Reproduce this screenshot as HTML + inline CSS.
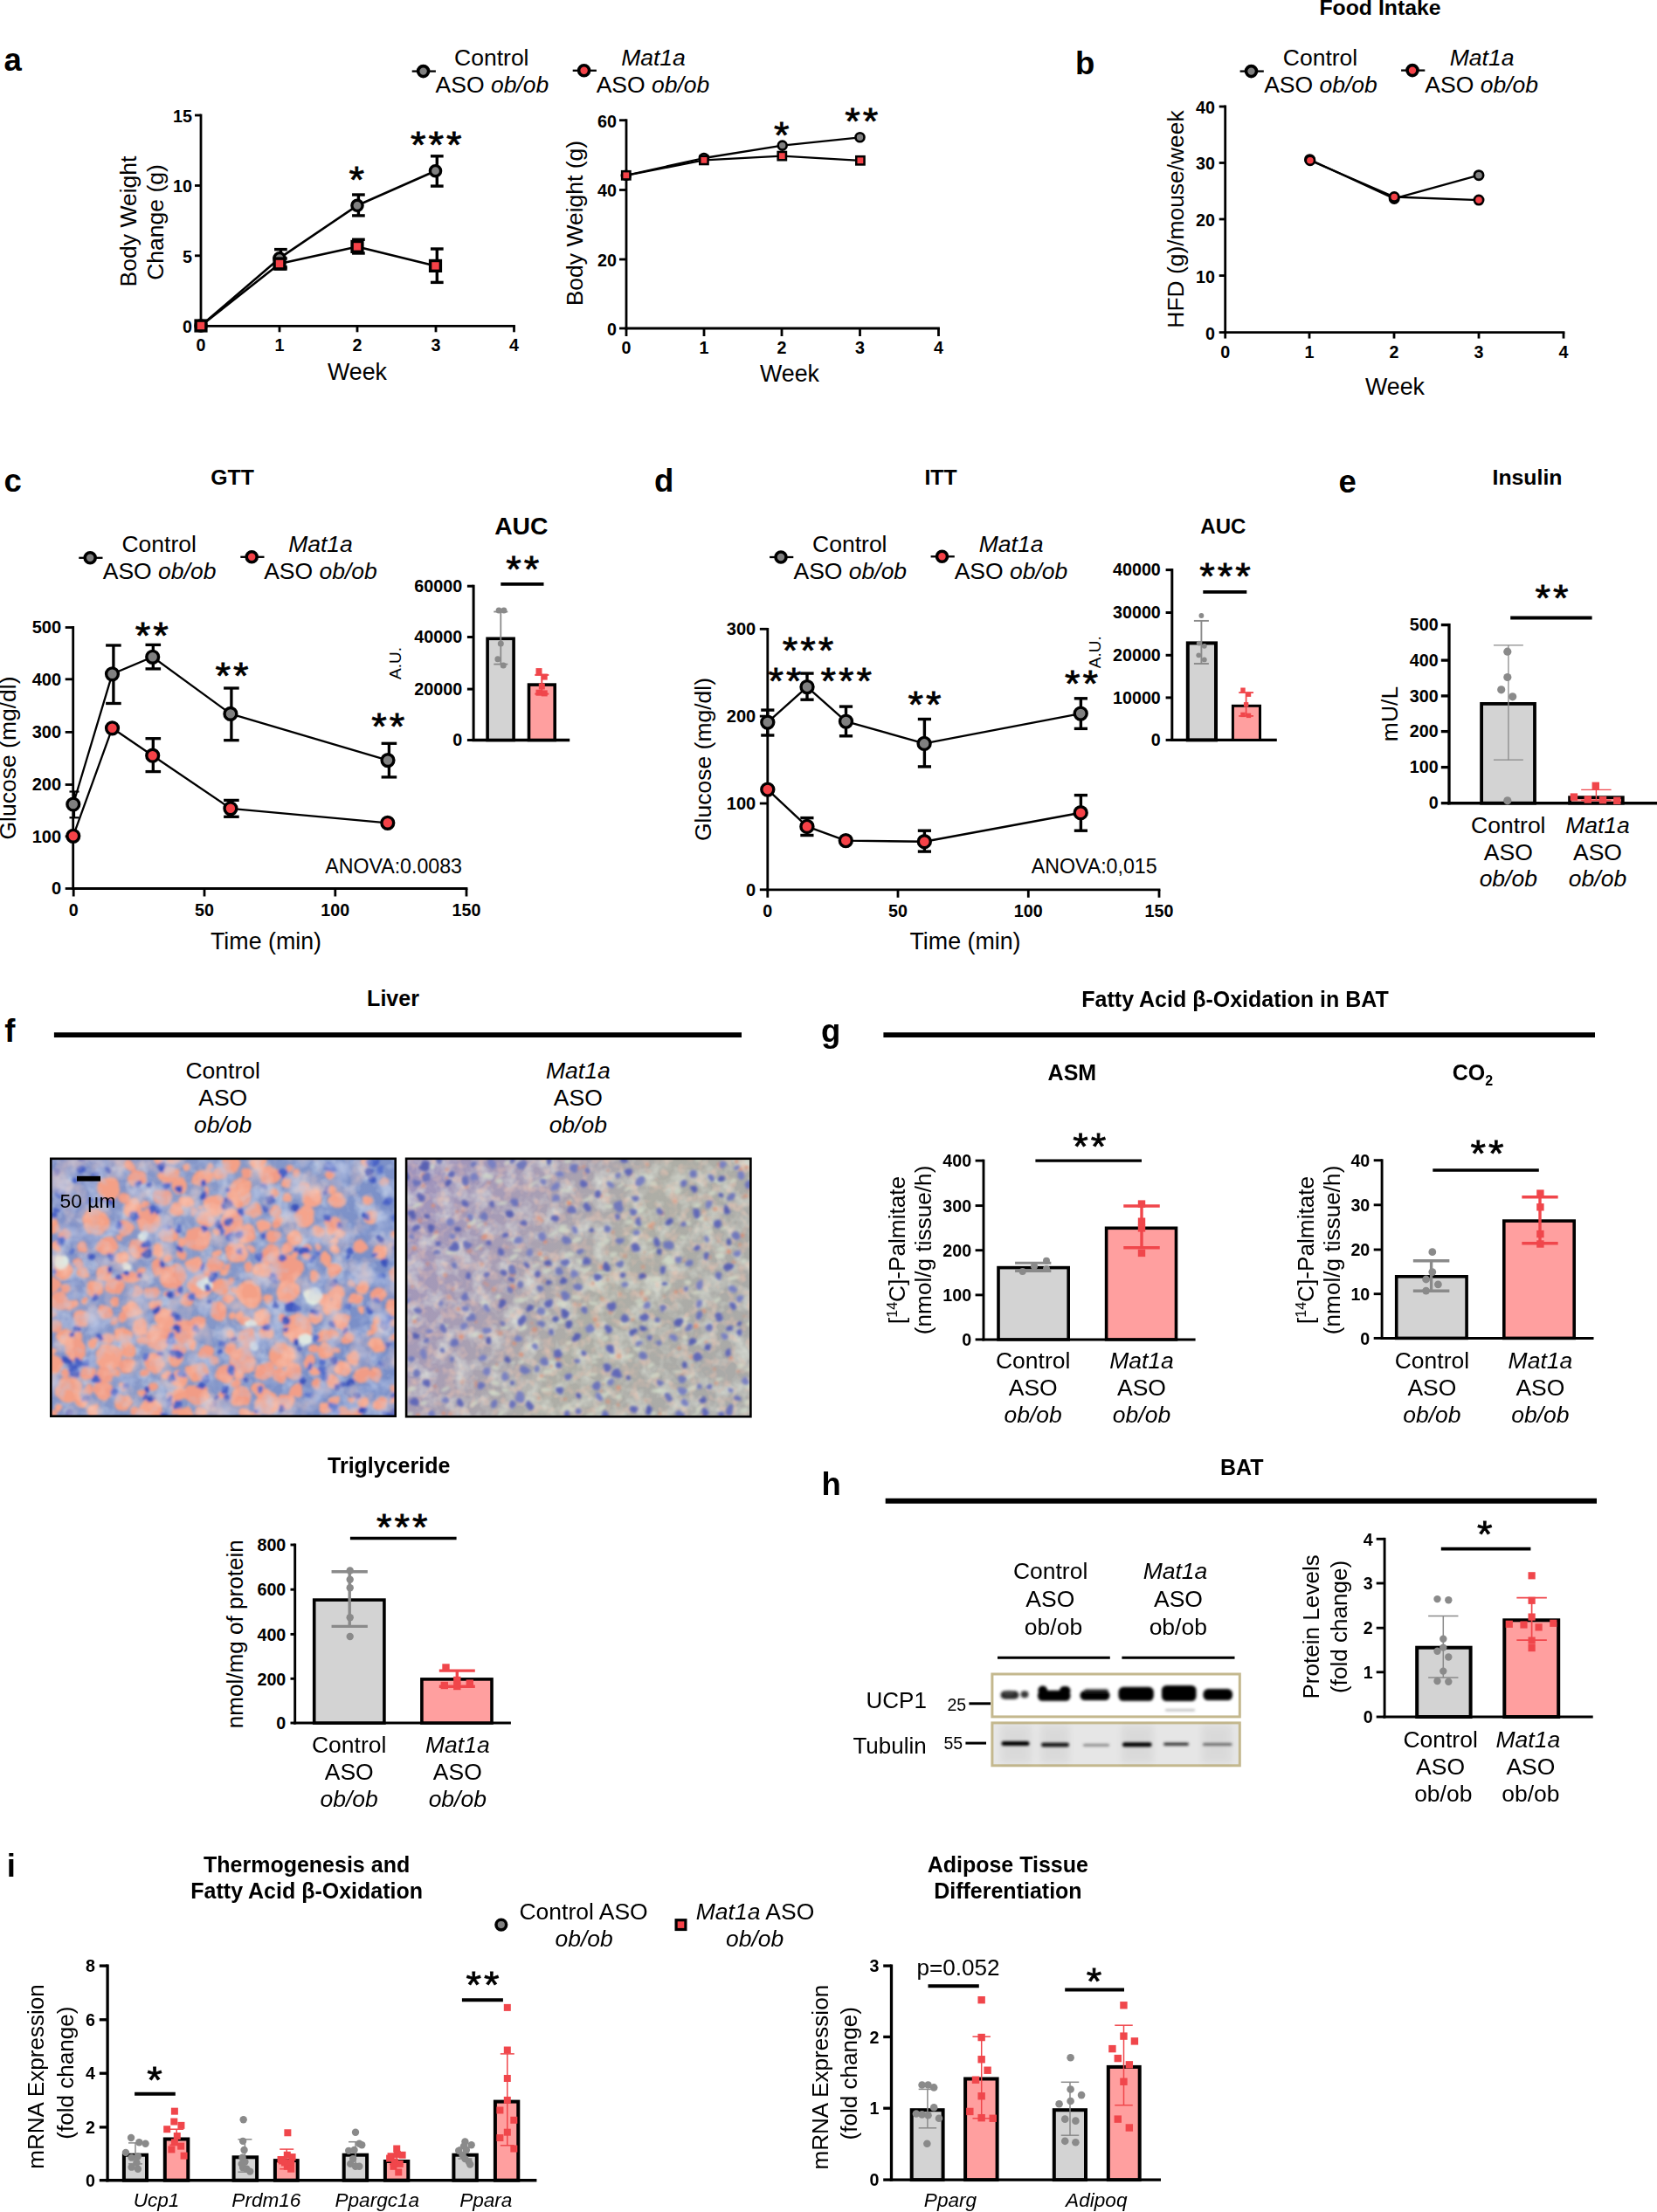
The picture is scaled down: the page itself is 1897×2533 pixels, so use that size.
<!DOCTYPE html>
<html lang="en"><head><meta charset="utf-8"><title>Figure</title>
<style>html,body{margin:0;padding:0;background:#fff}svg{display:block}text{font-family:"Liberation Sans",Arial,Helvetica,sans-serif;fill:#000}</style></head>
<body>
<svg width="1897" height="2533" viewBox="0 0 1897 2533">
<defs>
<filter id="blur1" x="-5%" y="-5%" width="110%" height="110%"><feGaussianBlur stdDeviation="1.15"/></filter>
<filter id="wob1" x="-2%" y="-2%" width="104%" height="104%"><feTurbulence type="fractalNoise" baseFrequency="0.06" numOctaves="2" seed="4" result="t"/><feDisplacementMap in="SourceGraphic" in2="t" scale="9" xChannelSelector="R" yChannelSelector="G" result="d"/><feGaussianBlur in="d" stdDeviation="1.5"/></filter>
<filter id="blur2" x="-5%" y="-5%" width="110%" height="110%"><feGaussianBlur stdDeviation="1.4"/></filter>
<filter id="blur3" x="-10%" y="-30%" width="120%" height="160%"><feGaussianBlur stdDeviation="1.35"/></filter>
<filter id="blur4" x="-10%" y="-10%" width="120%" height="120%"><feGaussianBlur stdDeviation="4"/></filter>
<filter id="nz1" x="0" y="0" width="100%" height="100%"><feTurbulence type="fractalNoise" baseFrequency="0.045" numOctaves="3" seed="3"/><feColorMatrix type="matrix" values="0 0 0 0 0.76  0 0 0 0 0.85  0 0 0 0 0.90  1.4 0 0 0 -0.68"/></filter>
<filter id="nz2" x="0" y="0" width="100%" height="100%"><feTurbulence type="fractalNoise" baseFrequency="0.05" numOctaves="3" seed="8"/><feColorMatrix type="matrix" values="0 0 0 0 0.82  0 0 0 0 0.87  0 0 0 0 0.78  0 1.5 0 0 -0.64"/></filter>
<filter id="nz3" x="0" y="0" width="100%" height="100%"><feTurbulence type="fractalNoise" baseFrequency="0.09" numOctaves="2" seed="5"/><feColorMatrix type="matrix" values="0 0 0 0 0.86  0 0 0 0 0.56  0 0 0 0 0.45  0 0 1.4 0 -0.66"/></filter>
<filter id="nz4" x="0" y="0" width="100%" height="100%"><feTurbulence type="fractalNoise" baseFrequency="0.035" numOctaves="3" seed="12"/><feColorMatrix type="matrix" values="0 0 0 0 0.94  0 0 0 0 0.63  0 0 0 0 0.53  1.7 0 0 0 -0.78"/></filter>
<filter id="nz5" x="0" y="0" width="100%" height="100%"><feTurbulence type="fractalNoise" baseFrequency="0.04" numOctaves="3" seed="21"/><feColorMatrix type="matrix" values="0 0 0 0 0.50  0 0 0 0 0.58  0 0 0 0 0.80  0 1.7 0 0 -0.80"/></filter>
<clipPath id="clipL1"><rect x="58.3" y="1326.8" width="394.4" height="294.9"/></clipPath>
<clipPath id="clipL2"><rect x="465.1" y="1326.8" width="394.3" height="295.4"/></clipPath>
<linearGradient id="gL1" x1="0" y1="0" x2="1" y2="0.3"><stop offset="0" stop-color="#8392c8"/><stop offset="0.5" stop-color="#8799c9"/><stop offset="1" stop-color="#7a8fc8"/></linearGradient>
<linearGradient id="gL2" x1="0" y1="0.2" x2="1" y2="0.6"><stop offset="0" stop-color="#a094bc"/><stop offset="0.3" stop-color="#a89eb4"/><stop offset="0.6" stop-color="#aeaea6"/><stop offset="1" stop-color="#aaaaa8"/></linearGradient>
</defs>
<!-- panel a -->
<text x="4.5" y="81.3" font-size="36.5" font-weight="bold">a</text>
<line x1="471.7" y1="81.6" x2="498.9" y2="81.6" stroke="#000" stroke-width="2.3"/>
<circle cx="484.6" cy="81.6" r="6" fill="#808080" stroke="#000" stroke-width="3.6"/>
<text x="562.8" y="74.9" font-size="26.5" text-anchor="middle">Control</text>
<text x="563.4" y="106" font-size="26.5" text-anchor="middle">ASO <tspan font-style="italic">ob/ob</tspan></text>
<line x1="655.7" y1="80.8" x2="682.9" y2="80.8" stroke="#000" stroke-width="2.3"/>
<circle cx="668.6" cy="80.8" r="6" fill="#f54248" stroke="#000" stroke-width="3.6"/>
<text x="748" y="74.9" font-size="26.5" font-style="italic" text-anchor="middle">Mat1a</text>
<text x="747.5" y="106" font-size="26.5" text-anchor="middle">ASO <tspan font-style="italic">ob/ob</tspan></text>
<line x1="230" y1="130.6" x2="230" y2="374.7" stroke="#000" stroke-width="2.8"/>
<line x1="223" y1="132" x2="230" y2="132" stroke="#000" stroke-width="2.8"/>
<text x="220" y="139.95" font-size="19.7" font-weight="bold" text-anchor="end">15</text>
<line x1="223" y1="212.5" x2="230" y2="212.5" stroke="#000" stroke-width="2.8"/>
<text x="220" y="220.45" font-size="19.7" font-weight="bold" text-anchor="end">10</text>
<line x1="223" y1="292.8" x2="230" y2="292.8" stroke="#000" stroke-width="2.8"/>
<text x="220" y="300.75" font-size="19.7" font-weight="bold" text-anchor="end">5</text>
<line x1="223" y1="373.3" x2="230" y2="373.3" stroke="#000" stroke-width="2.8"/>
<text x="220" y="381.25" font-size="19.7" font-weight="bold" text-anchor="end">0</text>
<line x1="228.6" y1="373.3" x2="589.9" y2="373.3" stroke="#000" stroke-width="2.8"/>
<line x1="230" y1="373.3" x2="230" y2="380.3" stroke="#000" stroke-width="2.8"/>
<text x="230" y="401.5" font-size="19.7" font-weight="bold" text-anchor="middle">0</text>
<line x1="320" y1="373.3" x2="320" y2="380.3" stroke="#000" stroke-width="2.8"/>
<text x="320" y="401.5" font-size="19.7" font-weight="bold" text-anchor="middle">1</text>
<line x1="409" y1="373.3" x2="409" y2="380.3" stroke="#000" stroke-width="2.8"/>
<text x="409" y="401.5" font-size="19.7" font-weight="bold" text-anchor="middle">2</text>
<line x1="499" y1="373.3" x2="499" y2="380.3" stroke="#000" stroke-width="2.8"/>
<text x="499" y="401.5" font-size="19.7" font-weight="bold" text-anchor="middle">3</text>
<line x1="588.5" y1="373.3" x2="588.5" y2="380.3" stroke="#000" stroke-width="2.8"/>
<text x="588.5" y="401.5" font-size="19.7" font-weight="bold" text-anchor="middle">4</text>
<text font-size="26.5" text-anchor="middle" transform="translate(156 253.5) rotate(-90)">Body Weight</text>
<text font-size="26.5" text-anchor="middle" transform="translate(186.5 254.5) rotate(-90)">Change (g)</text>
<text x="409" y="435" font-size="26.8" text-anchor="middle">Week</text>
<line x1="321.4" y1="285.6" x2="321.4" y2="305.8" stroke="#000" stroke-width="3.4"/>
<line x1="314.05" y1="285.6" x2="328.75" y2="285.6" stroke="#000" stroke-width="3.4"/>
<line x1="314.05" y1="305.8" x2="328.75" y2="305.8" stroke="#000" stroke-width="3.4"/>
<line x1="410.4" y1="223" x2="410.4" y2="246.9" stroke="#000" stroke-width="3.4"/>
<line x1="403.05" y1="223" x2="417.75" y2="223" stroke="#000" stroke-width="3.4"/>
<line x1="403.05" y1="246.9" x2="417.75" y2="246.9" stroke="#000" stroke-width="3.4"/>
<line x1="500.3" y1="178.8" x2="500.3" y2="213.1" stroke="#000" stroke-width="3.4"/>
<line x1="492.95" y1="178.8" x2="507.65" y2="178.8" stroke="#000" stroke-width="3.4"/>
<line x1="492.95" y1="213.1" x2="507.65" y2="213.1" stroke="#000" stroke-width="3.4"/>
<line x1="410.4" y1="274.3" x2="410.4" y2="290" stroke="#000" stroke-width="3.4"/>
<line x1="403.05" y1="274.3" x2="417.75" y2="274.3" stroke="#000" stroke-width="3.4"/>
<line x1="403.05" y1="290" x2="417.75" y2="290" stroke="#000" stroke-width="3.4"/>
<line x1="500.3" y1="285" x2="500.3" y2="323.4" stroke="#000" stroke-width="3.4"/>
<line x1="492.95" y1="285" x2="507.65" y2="285" stroke="#000" stroke-width="3.4"/>
<line x1="492.95" y1="323.4" x2="507.65" y2="323.4" stroke="#000" stroke-width="3.4"/>
<line x1="321.4" y1="296" x2="321.4" y2="308" stroke="#000" stroke-width="3.4"/>
<line x1="314.05" y1="296" x2="328.75" y2="296" stroke="#000" stroke-width="3.4"/>
<line x1="314.05" y1="308" x2="328.75" y2="308" stroke="#000" stroke-width="3.4"/>
<polyline points="230,373 320,295.7 409,235.3 498.5,195.7" fill="none" stroke="#000" stroke-width="2.6" stroke-linejoin="round"/>
<polyline points="230,373 320,302 409,282.4 498.5,304.4" fill="none" stroke="#000" stroke-width="2.6" stroke-linejoin="round"/>
<circle cx="230" cy="373" r="6.1" fill="#808080" stroke="#000" stroke-width="3.4"/>
<circle cx="320" cy="295.7" r="6.1" fill="#808080" stroke="#000" stroke-width="3.4"/>
<circle cx="409" cy="235.3" r="6.1" fill="#808080" stroke="#000" stroke-width="3.4"/>
<circle cx="498.5" cy="195.7" r="6.1" fill="#808080" stroke="#000" stroke-width="3.4"/>
<rect x="224.1" y="367.1" width="11.8" height="11.8" fill="#f54248" stroke="#000" stroke-width="3.4"/>
<rect x="314.1" y="296.1" width="11.8" height="11.8" fill="#f54248" stroke="#000" stroke-width="3.4"/>
<rect x="403.1" y="276.5" width="11.8" height="11.8" fill="#f54248" stroke="#000" stroke-width="3.4"/>
<rect x="492.6" y="298.5" width="11.8" height="11.8" fill="#f54248" stroke="#000" stroke-width="3.4"/>
<text transform="translate(409.8 219.93) scale(1 0.94)" font-size="45" text-anchor="middle" stroke="#000" stroke-width="0.8" letter-spacing="3">*</text>
<text transform="translate(500.7 180.23) scale(1 0.94)" font-size="45" text-anchor="middle" stroke="#000" stroke-width="0.8" letter-spacing="3">***</text>
<line x1="717" y1="136.3" x2="717" y2="377.4" stroke="#000" stroke-width="2.8"/>
<line x1="709" y1="137.7" x2="717" y2="137.7" stroke="#000" stroke-width="2.8"/>
<text x="706" y="145.65" font-size="19.7" font-weight="bold" text-anchor="end">60</text>
<line x1="709" y1="217.5" x2="717" y2="217.5" stroke="#000" stroke-width="2.8"/>
<text x="706" y="225.45" font-size="19.7" font-weight="bold" text-anchor="end">40</text>
<line x1="709" y1="297" x2="717" y2="297" stroke="#000" stroke-width="2.8"/>
<text x="706" y="304.95" font-size="19.7" font-weight="bold" text-anchor="end">20</text>
<line x1="709" y1="376" x2="717" y2="376" stroke="#000" stroke-width="2.8"/>
<text x="706" y="383.95" font-size="19.7" font-weight="bold" text-anchor="end">0</text>
<line x1="715.6" y1="376" x2="1075.9" y2="376" stroke="#000" stroke-width="2.8"/>
<line x1="717" y1="376" x2="717" y2="385" stroke="#000" stroke-width="2.8"/>
<text x="717" y="405.4" font-size="19.7" font-weight="bold" text-anchor="middle">0</text>
<line x1="806" y1="376" x2="806" y2="385" stroke="#000" stroke-width="2.8"/>
<text x="806" y="405.4" font-size="19.7" font-weight="bold" text-anchor="middle">1</text>
<line x1="895" y1="376" x2="895" y2="385" stroke="#000" stroke-width="2.8"/>
<text x="895" y="405.4" font-size="19.7" font-weight="bold" text-anchor="middle">2</text>
<line x1="984.5" y1="376" x2="984.5" y2="385" stroke="#000" stroke-width="2.8"/>
<text x="984.5" y="405.4" font-size="19.7" font-weight="bold" text-anchor="middle">3</text>
<line x1="1074.5" y1="376" x2="1074.5" y2="385" stroke="#000" stroke-width="2.8"/>
<text x="1074.5" y="405.4" font-size="19.7" font-weight="bold" text-anchor="middle">4</text>
<text font-size="26.5" text-anchor="middle" transform="translate(666.8 255.6) rotate(-90)">Body Weight (g)</text>
<text x="904" y="437.2" font-size="26.8" text-anchor="middle">Week</text>
<polyline points="716.8,200.8 805.9,181 895.7,166.6 984.5,157.3" fill="none" stroke="#000" stroke-width="2.3" stroke-linejoin="round"/>
<polyline points="716.8,200.8 805.9,183.4 895.3,178.6 984.9,183.8" fill="none" stroke="#000" stroke-width="2.3" stroke-linejoin="round"/>
<circle cx="716.8" cy="200.8" r="5" fill="#808080" stroke="#000" stroke-width="2.6"/>
<circle cx="805.9" cy="181" r="5" fill="#808080" stroke="#000" stroke-width="2.6"/>
<circle cx="895.7" cy="166.6" r="5" fill="#808080" stroke="#000" stroke-width="2.6"/>
<circle cx="984.5" cy="157.3" r="5" fill="#808080" stroke="#000" stroke-width="2.6"/>
<rect x="712.15" y="196.15" width="9.3" height="9.3" fill="#f54248" stroke="#000" stroke-width="2.5"/>
<rect x="801.25" y="178.75" width="9.3" height="9.3" fill="#f54248" stroke="#000" stroke-width="2.5"/>
<rect x="890.65" y="173.95" width="9.3" height="9.3" fill="#f54248" stroke="#000" stroke-width="2.5"/>
<rect x="980.25" y="179.15" width="9.3" height="9.3" fill="#f54248" stroke="#000" stroke-width="2.5"/>
<text transform="translate(896.2 168.53) scale(1 0.94)" font-size="45" text-anchor="middle" stroke="#000" stroke-width="0.8" letter-spacing="3">*</text>
<text transform="translate(987.7 153.43) scale(1 0.94)" font-size="45" text-anchor="middle" stroke="#000" stroke-width="0.8" letter-spacing="3">**</text>
<!-- panel b -->
<text x="1580" y="17" font-size="24.8" font-weight="bold" text-anchor="middle">Food Intake</text>
<text x="1231" y="84.6" font-size="36.5" font-weight="bold">b</text>
<line x1="1419.6" y1="81.6" x2="1446.8" y2="81.6" stroke="#000" stroke-width="2.3"/>
<circle cx="1432.5" cy="81.6" r="6" fill="#808080" stroke="#000" stroke-width="3.6"/>
<text x="1511.5" y="74.7" font-size="26.5" text-anchor="middle">Control</text>
<text x="1512" y="106.4" font-size="26.5" text-anchor="middle">ASO <tspan font-style="italic">ob/ob</tspan></text>
<line x1="1604.1" y1="80.6" x2="1631.3" y2="80.6" stroke="#000" stroke-width="2.3"/>
<circle cx="1617" cy="80.6" r="6" fill="#f54248" stroke="#000" stroke-width="3.6"/>
<text x="1696.6" y="74.7" font-size="26.5" font-style="italic" text-anchor="middle">Mat1a</text>
<text x="1696.2" y="106.4" font-size="26.5" text-anchor="middle">ASO <tspan font-style="italic">ob/ob</tspan></text>
<line x1="1402.7" y1="120.6" x2="1402.7" y2="382" stroke="#000" stroke-width="2.8"/>
<line x1="1395.7" y1="122" x2="1402.7" y2="122" stroke="#000" stroke-width="2.8"/>
<text x="1390.9" y="129.95" font-size="19.7" font-weight="bold" text-anchor="end">40</text>
<line x1="1395.7" y1="186.5" x2="1402.7" y2="186.5" stroke="#000" stroke-width="2.8"/>
<text x="1390.9" y="194.45" font-size="19.7" font-weight="bold" text-anchor="end">30</text>
<line x1="1395.7" y1="251" x2="1402.7" y2="251" stroke="#000" stroke-width="2.8"/>
<text x="1390.9" y="258.95" font-size="19.7" font-weight="bold" text-anchor="end">20</text>
<line x1="1395.7" y1="315.6" x2="1402.7" y2="315.6" stroke="#000" stroke-width="2.8"/>
<text x="1390.9" y="323.55" font-size="19.7" font-weight="bold" text-anchor="end">10</text>
<line x1="1395.7" y1="380.6" x2="1402.7" y2="380.6" stroke="#000" stroke-width="2.8"/>
<text x="1390.9" y="388.55" font-size="19.7" font-weight="bold" text-anchor="end">0</text>
<line x1="1401.3" y1="380.6" x2="1791.4" y2="380.6" stroke="#000" stroke-width="2.8"/>
<line x1="1402.7" y1="380.6" x2="1402.7" y2="387.6" stroke="#000" stroke-width="2.8"/>
<text x="1402.7" y="410.3" font-size="19.7" font-weight="bold" text-anchor="middle">0</text>
<line x1="1499" y1="380.6" x2="1499" y2="387.6" stroke="#000" stroke-width="2.8"/>
<text x="1499" y="410.3" font-size="19.7" font-weight="bold" text-anchor="middle">1</text>
<line x1="1596" y1="380.6" x2="1596" y2="387.6" stroke="#000" stroke-width="2.8"/>
<text x="1596" y="410.3" font-size="19.7" font-weight="bold" text-anchor="middle">2</text>
<line x1="1693" y1="380.6" x2="1693" y2="387.6" stroke="#000" stroke-width="2.8"/>
<text x="1693" y="410.3" font-size="19.7" font-weight="bold" text-anchor="middle">3</text>
<line x1="1790" y1="380.6" x2="1790" y2="387.6" stroke="#000" stroke-width="2.8"/>
<text x="1790" y="410.3" font-size="19.7" font-weight="bold" text-anchor="middle">4</text>
<text font-size="26.4" text-anchor="middle" transform="translate(1355.4 251) rotate(-90)">HFD (g)/mouse/week</text>
<text x="1597" y="452" font-size="26.8" text-anchor="middle">Week</text>
<polyline points="1499.5,182.7 1596.2,227.4 1693,200.7" fill="none" stroke="#000" stroke-width="2.3" stroke-linejoin="round"/>
<polyline points="1499.9,183.7 1596.2,225.5 1693,229.1" fill="none" stroke="#000" stroke-width="2.3" stroke-linejoin="round"/>
<circle cx="1499.5" cy="182.7" r="5.15" fill="#808080" stroke="#000" stroke-width="2.7"/>
<circle cx="1596.2" cy="227.4" r="5.15" fill="#808080" stroke="#000" stroke-width="2.7"/>
<circle cx="1693" cy="200.7" r="5.15" fill="#808080" stroke="#000" stroke-width="2.7"/>
<circle cx="1499.9" cy="183.7" r="5.15" fill="#f54248" stroke="#000" stroke-width="2.7"/>
<circle cx="1596.2" cy="225.5" r="5.15" fill="#f54248" stroke="#000" stroke-width="2.7"/>
<circle cx="1693" cy="229.1" r="5.15" fill="#f54248" stroke="#000" stroke-width="2.7"/>
<!-- panel c -->
<text x="4.6" y="563.2" font-size="36.5" font-weight="bold">c</text>
<text x="266" y="555" font-size="24.8" font-weight="bold" text-anchor="middle">GTT</text>
<line x1="90.3" y1="638.8" x2="117.5" y2="638.8" stroke="#000" stroke-width="2.3"/>
<circle cx="103.2" cy="638.8" r="6" fill="#808080" stroke="#000" stroke-width="3.6"/>
<text x="182.2" y="631.8" font-size="26.5" text-anchor="middle">Control</text>
<text x="182.6" y="663.1" font-size="26.5" text-anchor="middle">ASO <tspan font-style="italic">ob/ob</tspan></text>
<line x1="275.3" y1="637.8" x2="302.5" y2="637.8" stroke="#000" stroke-width="2.3"/>
<circle cx="288.2" cy="637.8" r="6" fill="#f54248" stroke="#000" stroke-width="3.6"/>
<text x="367" y="631.8" font-size="26.5" font-style="italic" text-anchor="middle">Mat1a</text>
<text x="367" y="663.1" font-size="26.5" text-anchor="middle">ASO <tspan font-style="italic">ob/ob</tspan></text>
<line x1="83.7" y1="717.1" x2="83.7" y2="1018.9" stroke="#000" stroke-width="2.8"/>
<line x1="74.7" y1="718.5" x2="83.7" y2="718.5" stroke="#000" stroke-width="2.8"/>
<text x="70.2" y="725.2" font-size="20.1" font-weight="bold" text-anchor="end">500</text>
<line x1="74.7" y1="777.8" x2="83.7" y2="777.8" stroke="#000" stroke-width="2.8"/>
<text x="70.2" y="784.5" font-size="20.1" font-weight="bold" text-anchor="end">400</text>
<line x1="74.7" y1="838.4" x2="83.7" y2="838.4" stroke="#000" stroke-width="2.8"/>
<text x="70.2" y="845.1" font-size="20.1" font-weight="bold" text-anchor="end">300</text>
<line x1="74.7" y1="898.5" x2="83.7" y2="898.5" stroke="#000" stroke-width="2.8"/>
<text x="70.2" y="905.2" font-size="20.1" font-weight="bold" text-anchor="end">200</text>
<line x1="74.7" y1="957.8" x2="83.7" y2="957.8" stroke="#000" stroke-width="2.8"/>
<text x="70.2" y="964.5" font-size="20.1" font-weight="bold" text-anchor="end">100</text>
<line x1="74.7" y1="1017.5" x2="83.7" y2="1017.5" stroke="#000" stroke-width="2.8"/>
<text x="70.2" y="1024.2" font-size="20.1" font-weight="bold" text-anchor="end">0</text>
<line x1="82.8" y1="1017.5" x2="535.4" y2="1017.5" stroke="#000" stroke-width="2.8"/>
<line x1="84.2" y1="1017.5" x2="84.2" y2="1026.5" stroke="#000" stroke-width="2.8"/>
<text x="84.2" y="1048.7" font-size="19.7" font-weight="bold" text-anchor="middle">0</text>
<line x1="234" y1="1017.5" x2="234" y2="1026.5" stroke="#000" stroke-width="2.8"/>
<text x="234" y="1048.7" font-size="19.7" font-weight="bold" text-anchor="middle">50</text>
<line x1="383.8" y1="1017.5" x2="383.8" y2="1026.5" stroke="#000" stroke-width="2.8"/>
<text x="383.8" y="1048.7" font-size="19.7" font-weight="bold" text-anchor="middle">100</text>
<line x1="534" y1="1017.5" x2="534" y2="1026.5" stroke="#000" stroke-width="2.8"/>
<text x="534" y="1048.7" font-size="19.7" font-weight="bold" text-anchor="middle">150</text>
<text font-size="26.5" text-anchor="middle" transform="translate(17.5 868) rotate(-90)">Glucose (mg/dl)</text>
<text x="304.5" y="1087" font-size="26.8" text-anchor="middle">Time (min)</text>
<text x="372.2" y="999.8" font-size="23.2">ANOVA:0.0083</text>
<line x1="85" y1="906.5" x2="85" y2="936.3" stroke="#000" stroke-width="2.2"/>
<line x1="79.5" y1="906.5" x2="90.5" y2="906.5" stroke="#000" stroke-width="2.2"/>
<line x1="79.5" y1="936.3" x2="90.5" y2="936.3" stroke="#000" stroke-width="2.2"/>
<line x1="129.9" y1="739" x2="129.9" y2="805.5" stroke="#000" stroke-width="3.3"/>
<line x1="121.1" y1="739" x2="138.7" y2="739" stroke="#000" stroke-width="3.3"/>
<line x1="121.1" y1="805.5" x2="138.7" y2="805.5" stroke="#000" stroke-width="3.3"/>
<line x1="175.3" y1="738.4" x2="175.3" y2="765.9" stroke="#000" stroke-width="3.3"/>
<line x1="166.5" y1="738.4" x2="184.1" y2="738.4" stroke="#000" stroke-width="3.3"/>
<line x1="166.5" y1="765.9" x2="184.1" y2="765.9" stroke="#000" stroke-width="3.3"/>
<line x1="264.9" y1="788" x2="264.9" y2="847.7" stroke="#000" stroke-width="3.3"/>
<line x1="256.1" y1="788" x2="273.7" y2="788" stroke="#000" stroke-width="3.3"/>
<line x1="256.1" y1="847.7" x2="273.7" y2="847.7" stroke="#000" stroke-width="3.3"/>
<line x1="445.4" y1="851.3" x2="445.4" y2="889.9" stroke="#000" stroke-width="3.3"/>
<line x1="436.6" y1="851.3" x2="454.2" y2="851.3" stroke="#000" stroke-width="3.3"/>
<line x1="436.6" y1="889.9" x2="454.2" y2="889.9" stroke="#000" stroke-width="3.3"/>
<line x1="175.3" y1="845.7" x2="175.3" y2="883.6" stroke="#000" stroke-width="3.3"/>
<line x1="166.5" y1="845.7" x2="184.1" y2="845.7" stroke="#000" stroke-width="3.3"/>
<line x1="166.5" y1="883.6" x2="184.1" y2="883.6" stroke="#000" stroke-width="3.3"/>
<line x1="264.9" y1="916.4" x2="264.9" y2="935.3" stroke="#000" stroke-width="3.3"/>
<line x1="256.1" y1="916.4" x2="273.7" y2="916.4" stroke="#000" stroke-width="3.3"/>
<line x1="256.1" y1="935.3" x2="273.7" y2="935.3" stroke="#000" stroke-width="3.3"/>
<polyline points="83.8,921 128.5,771.8 174.7,752.3 263.9,817.4 444,870.6" fill="none" stroke="#000" stroke-width="2.3" stroke-linejoin="round"/>
<polyline points="83.8,957.3 128.5,833.8 174.7,865.2 263.9,925.8 443.8,942.3" fill="none" stroke="#000" stroke-width="2.3" stroke-linejoin="round"/>
<circle cx="83.8" cy="921" r="6.9" fill="#808080" stroke="#000" stroke-width="3.4"/>
<circle cx="128.5" cy="771.8" r="6.9" fill="#808080" stroke="#000" stroke-width="3.4"/>
<circle cx="174.7" cy="752.3" r="6.9" fill="#808080" stroke="#000" stroke-width="3.4"/>
<circle cx="263.9" cy="817.4" r="6.9" fill="#808080" stroke="#000" stroke-width="3.4"/>
<circle cx="444" cy="870.6" r="6.9" fill="#808080" stroke="#000" stroke-width="3.4"/>
<circle cx="83.8" cy="957.3" r="6.9" fill="#f54248" stroke="#000" stroke-width="3.4"/>
<circle cx="128.5" cy="833.8" r="6.9" fill="#f54248" stroke="#000" stroke-width="3.4"/>
<circle cx="174.7" cy="865.2" r="6.9" fill="#f54248" stroke="#000" stroke-width="3.4"/>
<circle cx="263.9" cy="925.8" r="6.9" fill="#f54248" stroke="#000" stroke-width="3.4"/>
<circle cx="443.8" cy="942.3" r="6.9" fill="#f54248" stroke="#000" stroke-width="3.4"/>
<text transform="translate(175.3 742.03) scale(1 0.94)" font-size="45" text-anchor="middle" stroke="#000" stroke-width="0.8" letter-spacing="3">**</text>
<text transform="translate(267.1 788.43) scale(1 0.94)" font-size="45" text-anchor="middle" stroke="#000" stroke-width="0.8" letter-spacing="3">**</text>
<text transform="translate(445.7 846.33) scale(1 0.94)" font-size="45" text-anchor="middle" stroke="#000" stroke-width="0.8" letter-spacing="3">**</text>
<text x="596.8" y="612.1" font-size="28.3" font-weight="bold" text-anchor="middle">AUC</text>
<text transform="translate(599.7 666.33) scale(1 0.94)" font-size="45" text-anchor="middle" stroke="#000" stroke-width="0.8" letter-spacing="3">**</text>
<line x1="573.3" y1="668.9" x2="622.5" y2="668.9" stroke="#000" stroke-width="3.6"/>
<line x1="542.1" y1="669.7" x2="542.1" y2="849" stroke="#000" stroke-width="3"/>
<line x1="534.9" y1="671.2" x2="542.1" y2="671.2" stroke="#000" stroke-width="3"/>
<text x="529.1" y="677.95" font-size="19.7" font-weight="bold" text-anchor="end">60000</text>
<line x1="534.9" y1="729.5" x2="542.1" y2="729.5" stroke="#000" stroke-width="3"/>
<text x="529.1" y="736.25" font-size="19.7" font-weight="bold" text-anchor="end">40000</text>
<line x1="534.9" y1="789.1" x2="542.1" y2="789.1" stroke="#000" stroke-width="3"/>
<text x="529.1" y="795.85" font-size="19.7" font-weight="bold" text-anchor="end">20000</text>
<line x1="534.9" y1="847.5" x2="542.1" y2="847.5" stroke="#000" stroke-width="3"/>
<text x="529.1" y="854.25" font-size="19.7" font-weight="bold" text-anchor="end">0</text>
<line x1="540.45" y1="847.5" x2="652.2" y2="847.5" stroke="#000" stroke-width="3.3"/>
<text font-size="19" text-anchor="middle" transform="translate(458.8 759.5) rotate(-90)">A.U.</text>
<rect x="558.1" y="731.3" width="30" height="116.2" fill="#d3d3d3" stroke="#000" stroke-width="3.6"/>
<rect x="605.5" y="784.1" width="29.7" height="63.4" fill="#ff9f9f" stroke="#000" stroke-width="3.6"/>
<line x1="573.3" y1="700.5" x2="573.3" y2="760.6" stroke="#8a8a8a" stroke-width="1.8"/>
<line x1="565.3" y1="700.5" x2="581.3" y2="700.5" stroke="#8a8a8a" stroke-width="1.8"/>
<line x1="565.3" y1="760.6" x2="581.3" y2="760.6" stroke="#8a8a8a" stroke-width="1.8"/>
<circle cx="571.1" cy="699" r="3.5" fill="#8a8a8a"/>
<circle cx="576.9" cy="699" r="3.5" fill="#8a8a8a"/>
<circle cx="573.3" cy="737" r="3.5" fill="#8a8a8a"/>
<circle cx="569.9" cy="754.8" r="3.5" fill="#8a8a8a"/>
<circle cx="576.2" cy="762" r="3.5" fill="#8a8a8a"/>
<line x1="620.3" y1="772.9" x2="620.3" y2="794.6" stroke="#f0464b" stroke-width="2"/>
<line x1="612.3" y1="772.9" x2="628.3" y2="772.9" stroke="#f0464b" stroke-width="2"/>
<line x1="612.3" y1="794.6" x2="628.3" y2="794.6" stroke="#f0464b" stroke-width="2"/>
<rect x="613.5" y="765.1" width="7" height="7" fill="#f0464b"/>
<rect x="619.7" y="771.6" width="7" height="7" fill="#f0464b"/>
<rect x="616.8" y="782.5" width="7" height="7" fill="#f0464b"/>
<rect x="613.5" y="789.7" width="7" height="7" fill="#f0464b"/>
<rect x="619.7" y="790.4" width="7" height="7" fill="#f0464b"/>
<!-- panel d -->
<text x="749" y="563" font-size="36.5" font-weight="bold">d</text>
<text x="1077" y="555" font-size="24.8" font-weight="bold" text-anchor="middle">ITT</text>
<line x1="881.1" y1="638" x2="908.3" y2="638" stroke="#000" stroke-width="2.3"/>
<circle cx="894" cy="638" r="6" fill="#808080" stroke="#000" stroke-width="3.6"/>
<text x="972.8" y="631.5" font-size="26.5" text-anchor="middle">Control</text>
<text x="973.3" y="662.8" font-size="26.5" text-anchor="middle">ASO <tspan font-style="italic">ob/ob</tspan></text>
<line x1="1065.6" y1="637.3" x2="1092.8" y2="637.3" stroke="#000" stroke-width="2.3"/>
<circle cx="1078.5" cy="637.3" r="6" fill="#f54248" stroke="#000" stroke-width="3.6"/>
<text x="1157.6" y="631.5" font-size="26.5" font-style="italic" text-anchor="middle">Mat1a</text>
<text x="1157.5" y="662.8" font-size="26.5" text-anchor="middle">ASO <tspan font-style="italic">ob/ob</tspan></text>
<line x1="878.8" y1="718.9" x2="878.8" y2="1020.2" stroke="#000" stroke-width="2.8"/>
<line x1="869.8" y1="720.3" x2="878.8" y2="720.3" stroke="#000" stroke-width="2.8"/>
<text x="865.3" y="727" font-size="20.1" font-weight="bold" text-anchor="end">300</text>
<line x1="869.8" y1="820.1" x2="878.8" y2="820.1" stroke="#000" stroke-width="2.8"/>
<text x="865.3" y="826.8" font-size="20.1" font-weight="bold" text-anchor="end">200</text>
<line x1="869.8" y1="920" x2="878.8" y2="920" stroke="#000" stroke-width="2.8"/>
<text x="865.3" y="926.7" font-size="20.1" font-weight="bold" text-anchor="end">100</text>
<line x1="869.8" y1="1018.8" x2="878.8" y2="1018.8" stroke="#000" stroke-width="2.8"/>
<text x="865.3" y="1025.5" font-size="20.1" font-weight="bold" text-anchor="end">0</text>
<line x1="877.4" y1="1018.8" x2="1328.4" y2="1018.8" stroke="#000" stroke-width="2.8"/>
<line x1="878.8" y1="1018.8" x2="878.8" y2="1027.8" stroke="#000" stroke-width="2.8"/>
<text x="878.8" y="1050" font-size="19.7" font-weight="bold" text-anchor="middle">0</text>
<line x1="1028" y1="1018.8" x2="1028" y2="1027.8" stroke="#000" stroke-width="2.8"/>
<text x="1028" y="1050" font-size="19.7" font-weight="bold" text-anchor="middle">50</text>
<line x1="1177.3" y1="1018.8" x2="1177.3" y2="1027.8" stroke="#000" stroke-width="2.8"/>
<text x="1177.3" y="1050" font-size="19.7" font-weight="bold" text-anchor="middle">100</text>
<line x1="1327" y1="1018.8" x2="1327" y2="1027.8" stroke="#000" stroke-width="2.8"/>
<text x="1327" y="1050" font-size="19.7" font-weight="bold" text-anchor="middle">150</text>
<text font-size="26.5" text-anchor="middle" transform="translate(814 869.5) rotate(-90)">Glucose (mg/dl)</text>
<text x="1105" y="1087" font-size="26.8" text-anchor="middle">Time (min)</text>
<text x="1180.7" y="1000.2" font-size="23.2">ANOVA:0,015</text>
<line x1="878.8" y1="813.1" x2="878.8" y2="842" stroke="#000" stroke-width="3.4"/>
<line x1="871.2" y1="813.1" x2="886.4" y2="813.1" stroke="#000" stroke-width="3.4"/>
<line x1="871.2" y1="842" x2="886.4" y2="842" stroke="#000" stroke-width="3.4"/>
<line x1="924" y1="771.1" x2="924" y2="801.2" stroke="#000" stroke-width="3.4"/>
<line x1="916.4" y1="771.1" x2="931.6" y2="771.1" stroke="#000" stroke-width="3.4"/>
<line x1="916.4" y1="801.2" x2="931.6" y2="801.2" stroke="#000" stroke-width="3.4"/>
<line x1="968.5" y1="809.1" x2="968.5" y2="842.8" stroke="#000" stroke-width="3.4"/>
<line x1="960.9" y1="809.1" x2="976.1" y2="809.1" stroke="#000" stroke-width="3.4"/>
<line x1="960.9" y1="842.8" x2="976.1" y2="842.8" stroke="#000" stroke-width="3.4"/>
<line x1="1058.4" y1="823.5" x2="1058.4" y2="877.9" stroke="#000" stroke-width="3.4"/>
<line x1="1050.8" y1="823.5" x2="1066" y2="823.5" stroke="#000" stroke-width="3.4"/>
<line x1="1050.8" y1="877.9" x2="1066" y2="877.9" stroke="#000" stroke-width="3.4"/>
<line x1="1237.4" y1="799.8" x2="1237.4" y2="834.4" stroke="#000" stroke-width="3.4"/>
<line x1="1229.8" y1="799.8" x2="1245" y2="799.8" stroke="#000" stroke-width="3.4"/>
<line x1="1229.8" y1="834.4" x2="1245" y2="834.4" stroke="#000" stroke-width="3.4"/>
<line x1="923.9" y1="936.6" x2="923.9" y2="956.5" stroke="#000" stroke-width="3.4"/>
<line x1="916.3" y1="936.6" x2="931.5" y2="936.6" stroke="#000" stroke-width="3.4"/>
<line x1="916.3" y1="956.5" x2="931.5" y2="956.5" stroke="#000" stroke-width="3.4"/>
<line x1="1058.4" y1="951.2" x2="1058.4" y2="975.1" stroke="#000" stroke-width="3.4"/>
<line x1="1050.8" y1="951.2" x2="1066" y2="951.2" stroke="#000" stroke-width="3.4"/>
<line x1="1050.8" y1="975.1" x2="1066" y2="975.1" stroke="#000" stroke-width="3.4"/>
<line x1="1237.4" y1="910.6" x2="1237.4" y2="951.2" stroke="#000" stroke-width="3.4"/>
<line x1="1229.8" y1="910.6" x2="1245" y2="910.6" stroke="#000" stroke-width="3.4"/>
<line x1="1229.8" y1="951.2" x2="1245" y2="951.2" stroke="#000" stroke-width="3.4"/>
<polyline points="878.8,827.1 924,786.6 968.5,826.1 1058.1,851.4 1237.2,817.1" fill="none" stroke="#000" stroke-width="2.4" stroke-linejoin="round"/>
<polyline points="878.8,904.1 923.9,946.4 968.3,962.6 1058.3,963.7 1237.2,930.7" fill="none" stroke="#000" stroke-width="2.4" stroke-linejoin="round"/>
<circle cx="878.8" cy="827.1" r="7" fill="#808080" stroke="#000" stroke-width="3.4"/>
<circle cx="924" cy="786.6" r="7" fill="#808080" stroke="#000" stroke-width="3.4"/>
<circle cx="968.5" cy="826.1" r="7" fill="#808080" stroke="#000" stroke-width="3.4"/>
<circle cx="1058.1" cy="851.4" r="7" fill="#808080" stroke="#000" stroke-width="3.4"/>
<circle cx="1237.2" cy="817.1" r="7" fill="#808080" stroke="#000" stroke-width="3.4"/>
<circle cx="878.8" cy="904.1" r="7" fill="#f54248" stroke="#000" stroke-width="3.4"/>
<circle cx="923.9" cy="946.4" r="7" fill="#f54248" stroke="#000" stroke-width="3.4"/>
<circle cx="968.3" cy="962.6" r="7" fill="#f54248" stroke="#000" stroke-width="3.4"/>
<circle cx="1058.3" cy="963.7" r="7" fill="#f54248" stroke="#000" stroke-width="3.4"/>
<circle cx="1237.2" cy="930.7" r="7" fill="#f54248" stroke="#000" stroke-width="3.4"/>
<text transform="translate(926.5 759.03) scale(1 0.94)" font-size="45" text-anchor="middle" stroke="#000" stroke-width="0.8" letter-spacing="3">***</text>
<text transform="translate(900 793.63) scale(1 0.94)" font-size="45" text-anchor="middle" stroke="#000" stroke-width="0.8" letter-spacing="3">**</text>
<text transform="translate(970.3 793.63) scale(1 0.94)" font-size="45" text-anchor="middle" stroke="#000" stroke-width="0.8" letter-spacing="3">***</text>
<text transform="translate(1060.1 821.13) scale(1 0.94)" font-size="45" text-anchor="middle" stroke="#000" stroke-width="0.8" letter-spacing="3">**</text>
<text transform="translate(1239.4 796.93) scale(1 0.94)" font-size="45" text-anchor="middle" stroke="#000" stroke-width="0.8" letter-spacing="3">**</text>
<text x="1400.3" y="611.3" font-size="24" font-weight="bold" text-anchor="middle">AUC</text>
<text transform="translate(1404 674.13) scale(1 0.94)" font-size="45" text-anchor="middle" stroke="#000" stroke-width="0.8" letter-spacing="3">***</text>
<line x1="1377.3" y1="677.9" x2="1427.3" y2="677.9" stroke="#000" stroke-width="3.6"/>
<line x1="1341.8" y1="651.1" x2="1341.8" y2="848.9" stroke="#000" stroke-width="3"/>
<line x1="1334.6" y1="652.6" x2="1341.8" y2="652.6" stroke="#000" stroke-width="3"/>
<text x="1328.8" y="659.35" font-size="19.7" font-weight="bold" text-anchor="end">40000</text>
<line x1="1334.6" y1="701.5" x2="1341.8" y2="701.5" stroke="#000" stroke-width="3"/>
<text x="1328.8" y="708.25" font-size="19.7" font-weight="bold" text-anchor="end">30000</text>
<line x1="1334.6" y1="750.3" x2="1341.8" y2="750.3" stroke="#000" stroke-width="3"/>
<text x="1328.8" y="757.05" font-size="19.7" font-weight="bold" text-anchor="end">20000</text>
<line x1="1334.6" y1="798.9" x2="1341.8" y2="798.9" stroke="#000" stroke-width="3"/>
<text x="1328.8" y="805.65" font-size="19.7" font-weight="bold" text-anchor="end">10000</text>
<line x1="1334.6" y1="847.4" x2="1341.8" y2="847.4" stroke="#000" stroke-width="3"/>
<text x="1328.8" y="854.15" font-size="19.7" font-weight="bold" text-anchor="end">0</text>
<line x1="1340.15" y1="847.4" x2="1461.8" y2="847.4" stroke="#000" stroke-width="3.3"/>
<text font-size="19" text-anchor="middle" transform="translate(1259.8 746.7) rotate(-90)">A.U.</text>
<rect x="1359.8" y="736.4" width="32.2" height="111" fill="#d3d3d3" stroke="#000" stroke-width="4"/>
<rect x="1411.4" y="808.3" width="31.1" height="39.1" fill="#ff9f9f" stroke="#000" stroke-width="3"/>
<line x1="1375.4" y1="710.9" x2="1375.4" y2="760" stroke="#8a8a8a" stroke-width="1.9"/>
<line x1="1366.9" y1="710.9" x2="1383.9" y2="710.9" stroke="#8a8a8a" stroke-width="1.9"/>
<line x1="1366.9" y1="760" x2="1383.9" y2="760" stroke="#8a8a8a" stroke-width="1.9"/>
<circle cx="1375.4" cy="705" r="2.9" fill="#8a8a8a"/>
<circle cx="1372.7" cy="736.6" r="2.9" fill="#8a8a8a"/>
<circle cx="1378.8" cy="739.8" r="2.9" fill="#8a8a8a"/>
<circle cx="1372.3" cy="750.3" r="2.9" fill="#8a8a8a"/>
<circle cx="1378.8" cy="755.4" r="2.9" fill="#8a8a8a"/>
<line x1="1426.6" y1="793.1" x2="1426.6" y2="819.9" stroke="#f0464b" stroke-width="1.8"/>
<line x1="1418.2" y1="793.1" x2="1435" y2="793.1" stroke="#f0464b" stroke-width="1.8"/>
<line x1="1418.2" y1="819.9" x2="1435" y2="819.9" stroke="#f0464b" stroke-width="1.8"/>
<rect x="1420.3" y="787.5" width="5.4" height="5.4" fill="#f0464b"/>
<rect x="1426.8" y="792.5" width="5.4" height="5.4" fill="#f0464b"/>
<rect x="1423.9" y="804.1" width="5.4" height="5.4" fill="#f0464b"/>
<rect x="1420.3" y="815.7" width="5.4" height="5.4" fill="#f0464b"/>
<rect x="1426.8" y="816.7" width="5.4" height="5.4" fill="#f0464b"/>
<!-- panel e -->
<text x="1532.5" y="563.8" font-size="36.5" font-weight="bold">e</text>
<text x="1748.5" y="554.5" font-size="24.8" font-weight="bold" text-anchor="middle">Insulin</text>
<text transform="translate(1778.1 699.03) scale(1 0.94)" font-size="45" text-anchor="middle" stroke="#000" stroke-width="0.8" letter-spacing="3">**</text>
<line x1="1729.2" y1="707.5" x2="1822.6" y2="707.5" stroke="#000" stroke-width="3.8"/>
<line x1="1659" y1="713.95" x2="1659" y2="921.35" stroke="#000" stroke-width="3.3"/>
<line x1="1649.8" y1="715.6" x2="1659" y2="715.6" stroke="#000" stroke-width="3.3"/>
<text x="1646.6" y="722.35" font-size="19.7" font-weight="bold" text-anchor="end">500</text>
<line x1="1649.8" y1="756.1" x2="1659" y2="756.1" stroke="#000" stroke-width="3.3"/>
<text x="1646.6" y="762.85" font-size="19.7" font-weight="bold" text-anchor="end">400</text>
<line x1="1649.8" y1="796.9" x2="1659" y2="796.9" stroke="#000" stroke-width="3.3"/>
<text x="1646.6" y="803.65" font-size="19.7" font-weight="bold" text-anchor="end">300</text>
<line x1="1649.8" y1="837.6" x2="1659" y2="837.6" stroke="#000" stroke-width="3.3"/>
<text x="1646.6" y="844.35" font-size="19.7" font-weight="bold" text-anchor="end">200</text>
<line x1="1649.8" y1="878.6" x2="1659" y2="878.6" stroke="#000" stroke-width="3.3"/>
<text x="1646.6" y="885.35" font-size="19.7" font-weight="bold" text-anchor="end">100</text>
<line x1="1649.8" y1="919.7" x2="1659" y2="919.7" stroke="#000" stroke-width="3.3"/>
<text x="1646.6" y="926.45" font-size="19.7" font-weight="bold" text-anchor="end">0</text>
<line x1="1657.3" y1="919.7" x2="1897" y2="919.7" stroke="#000" stroke-width="3.4"/>
<text font-size="26.5" text-anchor="middle" transform="translate(1600.1 817.5) rotate(-90)">mU/L</text>
<rect x="1696.1" y="805.9" width="60.9" height="113.8" fill="#d3d3d3" stroke="#000" stroke-width="3.8"/>
<rect x="1797.1" y="913.2" width="60.7" height="6.5" fill="#ff9f9f" stroke="#000" stroke-width="3.8"/>
<line x1="1726.9" y1="738.9" x2="1726.9" y2="870.2" stroke="#8a8a8a" stroke-width="1.3"/>
<line x1="1709.95" y1="738.9" x2="1743.85" y2="738.9" stroke="#8a8a8a" stroke-width="1.3"/>
<line x1="1709.95" y1="870.2" x2="1743.85" y2="870.2" stroke="#8a8a8a" stroke-width="1.3"/>
<circle cx="1725.8" cy="746.2" r="4.6" fill="#8a8a8a"/>
<circle cx="1725.8" cy="775.5" r="4.6" fill="#8a8a8a"/>
<circle cx="1718.7" cy="789.8" r="4.6" fill="#8a8a8a"/>
<circle cx="1731.7" cy="797.8" r="4.6" fill="#8a8a8a"/>
<circle cx="1725.8" cy="916.8" r="4.6" fill="#8a8a8a"/>
<line x1="1827.4" y1="904.4" x2="1827.4" y2="916.5" stroke="#f0464b" stroke-width="1.4"/>
<line x1="1810.2" y1="904.4" x2="1844.6" y2="904.4" stroke="#f0464b" stroke-width="1.4"/>
<line x1="1810.2" y1="916.5" x2="1844.6" y2="916.5" stroke="#f0464b" stroke-width="1.4"/>
<rect x="1822.6" y="895.6" width="8.4" height="8.4" fill="#f0464b"/>
<rect x="1797.7" y="908.4" width="8.4" height="8.4" fill="#f0464b"/>
<rect x="1813.6" y="911.3" width="8.4" height="8.4" fill="#f0464b"/>
<rect x="1830.8" y="911.9" width="8.4" height="8.4" fill="#f0464b"/>
<rect x="1847.1" y="912.6" width="8.4" height="8.4" fill="#f0464b"/>
<text x="1726.8" y="953.8" font-size="26.5" text-anchor="middle">Control</text>
<text x="1726.8" y="984.6" font-size="26.5" text-anchor="middle">ASO</text>
<text x="1726.8" y="1015.4" font-size="26.5" font-style="italic" text-anchor="middle">ob/ob</text>
<text x="1829" y="953.8" font-size="26.5" font-style="italic" text-anchor="middle">Mat1a</text>
<text x="1829" y="984.6" font-size="26.5" text-anchor="middle">ASO</text>
<text x="1829" y="1015.4" font-size="26.5" font-style="italic" text-anchor="middle">ob/ob</text>
<!-- panel f -->
<text x="5.2" y="1192.6" font-size="36.5" font-weight="bold">f</text>
<text x="450" y="1151.7" font-size="25" font-weight="bold" text-anchor="middle">Liver</text>
<line x1="61.9" y1="1185.2" x2="849" y2="1185.2" stroke="#000" stroke-width="5.8"/>
<text x="255.2" y="1234.7" font-size="26.5" text-anchor="middle">Control</text>
<text x="255.2" y="1266" font-size="26.5" text-anchor="middle">ASO</text>
<text x="255.2" y="1297.3" font-size="26.5" font-style="italic" text-anchor="middle">ob/ob</text>
<text x="661.8" y="1234.7" font-size="26.5" font-style="italic" text-anchor="middle">Mat1a</text>
<text x="661.8" y="1266" font-size="26.5" text-anchor="middle">ASO</text>
<text x="661.8" y="1297.3" font-size="26.5" font-style="italic" text-anchor="middle">ob/ob</text>
<g clip-path="url(#clipL1)">
<rect x="58.3" y="1326.8" width="394.4" height="294.9" fill="url(#gL1)"/>
<rect x="58.3" y="1326.8" width="394.4" height="294.9" fill="#fff" filter="url(#nz1)"/>
<g filter="url(#wob1)">
<ellipse cx="186" cy="1371.3" rx="10.6" ry="9.9" fill="#f29e88"/>
<ellipse cx="269.7" cy="1434.6" rx="13.6" ry="13.2" fill="#f19c86"/>
<ellipse cx="73.1" cy="1454.7" rx="9.9" ry="10.5" fill="#f4a086"/>
<ellipse cx="225.7" cy="1570.6" rx="13.6" ry="10.2" fill="#f4a086"/>
<ellipse cx="305.8" cy="1606.3" rx="14.4" ry="13.2" fill="#f5a48c"/>
<ellipse cx="310.3" cy="1436.6" rx="10.7" ry="11.1" fill="#f19c86"/>
<ellipse cx="226.9" cy="1419.4" rx="14.4" ry="13.5" fill="#f29e88"/>
<ellipse cx="176.5" cy="1561.1" rx="10.7" ry="12.4" fill="#f29e88"/>
<ellipse cx="284.9" cy="1481.7" rx="14.7" ry="16" fill="#f4a086"/>
<ellipse cx="171.9" cy="1615.9" rx="14" ry="13.9" fill="#f5a48c"/>
<ellipse cx="356.9" cy="1371.6" rx="12.3" ry="9.6" fill="#f5a48c"/>
<ellipse cx="321.8" cy="1552.3" rx="16" ry="14.1" fill="#f4a086"/>
<ellipse cx="182" cy="1531.8" rx="15.1" ry="14" fill="#f19c86"/>
<ellipse cx="210.5" cy="1524" rx="13.7" ry="14.4" fill="#f19c86"/>
<ellipse cx="124.6" cy="1361.3" rx="12.9" ry="15.3" fill="#f4a086"/>
<ellipse cx="109.3" cy="1399.8" rx="14.7" ry="15.9" fill="#f4a086"/>
<ellipse cx="381.4" cy="1581.6" rx="7.5" ry="9.5" fill="#f29e88"/>
<ellipse cx="249.6" cy="1500.5" rx="9" ry="10.9" fill="#f29e88"/>
<ellipse cx="330.6" cy="1478.8" rx="14.1" ry="14.1" fill="#f5a48c"/>
<ellipse cx="79.6" cy="1592.1" rx="15.9" ry="15.5" fill="#f4a086"/>
<ellipse cx="373" cy="1442.5" rx="7.3" ry="9.2" fill="#f4a086"/>
<ellipse cx="308.5" cy="1345.2" rx="11.8" ry="10.9" fill="#f19c86"/>
<ellipse cx="122.3" cy="1427.1" rx="12.4" ry="10.6" fill="#f29e88"/>
<ellipse cx="157.8" cy="1429.2" rx="10.4" ry="12.1" fill="#f29e88"/>
<ellipse cx="393.1" cy="1619.7" rx="8" ry="9.5" fill="#f4a086"/>
<ellipse cx="433.4" cy="1482.6" rx="7.8" ry="7.6" fill="#f19c86"/>
<ellipse cx="398.8" cy="1532.1" rx="8.4" ry="7.4" fill="#f19c86"/>
<ellipse cx="124.2" cy="1554.4" rx="16" ry="14.9" fill="#f5a48c"/>
<ellipse cx="350.1" cy="1393.7" rx="12.2" ry="14" fill="#f5a48c"/>
<ellipse cx="435" cy="1434.3" rx="7.8" ry="9.3" fill="#f4a086"/>
<ellipse cx="413.4" cy="1574.6" rx="9.5" ry="9.5" fill="#f19c86"/>
<ellipse cx="246.8" cy="1379.4" rx="13.2" ry="11.4" fill="#f5a48c"/>
<ellipse cx="374.1" cy="1613.3" rx="8.8" ry="8.2" fill="#f5a48c"/>
<ellipse cx="431.7" cy="1540.5" rx="7.7" ry="8.7" fill="#f4a086"/>
<ellipse cx="117.9" cy="1593.6" rx="11.2" ry="10.6" fill="#f29e88"/>
<ellipse cx="274.7" cy="1365.4" rx="13.8" ry="17.4" fill="#f4a086"/>
<ellipse cx="197.8" cy="1461.9" rx="15.3" ry="13.9" fill="#f29e88"/>
<ellipse cx="224.2" cy="1597.4" rx="14.8" ry="12.2" fill="#f19c86"/>
<ellipse cx="264.8" cy="1332.3" rx="12.7" ry="12.9" fill="#f4a086"/>
<ellipse cx="59.9" cy="1562.5" rx="11.4" ry="11.9" fill="#f4a086"/>
<ellipse cx="277.4" cy="1558.1" rx="15.3" ry="14" fill="#f19c86"/>
<ellipse cx="430.3" cy="1574.5" rx="8.8" ry="8.7" fill="#f19c86"/>
<ellipse cx="232.7" cy="1348.2" rx="12.9" ry="10.3" fill="#f4a086"/>
<ellipse cx="340.7" cy="1521.5" rx="16.7" ry="16" fill="#f5a48c"/>
<ellipse cx="386.6" cy="1374.4" rx="9.7" ry="9.1" fill="#f5a48c"/>
<ellipse cx="66" cy="1490.2" rx="11.8" ry="10.1" fill="#f29e88"/>
<ellipse cx="189" cy="1510.8" rx="10.6" ry="12" fill="#f5a48c"/>
<ellipse cx="381.3" cy="1403.1" rx="10" ry="9.4" fill="#f19c86"/>
<ellipse cx="283.3" cy="1533.4" rx="11" ry="11.8" fill="#f29e88"/>
<ellipse cx="329.7" cy="1452.2" rx="17.6" ry="15.6" fill="#f19c86"/>
<ellipse cx="276.4" cy="1600.1" rx="11.5" ry="10.2" fill="#f19c86"/>
<ellipse cx="266.1" cy="1397.1" rx="12.2" ry="12.8" fill="#f29e88"/>
<ellipse cx="228.8" cy="1472.8" rx="13.7" ry="14.2" fill="#f5a48c"/>
<ellipse cx="86.2" cy="1545.3" rx="12.7" ry="12.1" fill="#f29e88"/>
<ellipse cx="169.5" cy="1398.2" rx="14.6" ry="14.2" fill="#f29e88"/>
<ellipse cx="120.4" cy="1458.3" rx="9.4" ry="9.2" fill="#f5a48c"/>
<ellipse cx="180.4" cy="1432" rx="7.1" ry="9" fill="#f4a086"/>
<ellipse cx="60.3" cy="1404.7" rx="8.4" ry="7.2" fill="#f4a086"/>
<ellipse cx="150.1" cy="1499.5" rx="11" ry="9.1" fill="#f5a48c"/>
<ellipse cx="257.2" cy="1573" rx="10" ry="10.3" fill="#f29e88"/>
<ellipse cx="149" cy="1336" rx="7" ry="7.5" fill="#f19c86"/>
<ellipse cx="99.7" cy="1573.3" rx="9" ry="8.1" fill="#f29e88"/>
<ellipse cx="305.3" cy="1527.5" rx="8" ry="6.7" fill="#f5a48c"/>
<ellipse cx="372.9" cy="1547.5" rx="9.3" ry="8.6" fill="#f4a086"/>
<ellipse cx="157.8" cy="1348.8" rx="10.9" ry="8.6" fill="#f29e88"/>
<ellipse cx="360.8" cy="1508.7" rx="7.8" ry="7" fill="#f5a48c"/>
<ellipse cx="178.4" cy="1494.2" rx="7.5" ry="6.3" fill="#f5a48c"/>
<ellipse cx="173" cy="1479.1" rx="9" ry="7.5" fill="#f29e88"/>
<ellipse cx="141.1" cy="1605.7" rx="10.1" ry="10" fill="#f4a086"/>
<ellipse cx="339.5" cy="1592.7" rx="8.1" ry="8.9" fill="#f29e88"/>
<ellipse cx="213.3" cy="1621.3" rx="8.7" ry="8.7" fill="#f4a086"/>
<ellipse cx="236.1" cy="1548.8" rx="7.4" ry="8.8" fill="#f29e88"/>
<ellipse cx="193.8" cy="1414.6" rx="11.7" ry="9" fill="#f4a086"/>
<ellipse cx="160.9" cy="1520.3" rx="8.8" ry="10" fill="#f29e88"/>
<ellipse cx="213.8" cy="1376.1" rx="8.5" ry="6.6" fill="#f5a48c"/>
<ellipse cx="415.6" cy="1473.4" rx="7.9" ry="7.6" fill="#f4a086"/>
<ellipse cx="451.3" cy="1459.5" rx="7.7" ry="8.5" fill="#f4a086"/>
<ellipse cx="94.1" cy="1427.6" rx="7.1" ry="8.4" fill="#f29e88"/>
<ellipse cx="221.1" cy="1448.9" rx="8.7" ry="7.8" fill="#f5a48c"/>
<ellipse cx="191.7" cy="1345.1" rx="12.1" ry="8.9" fill="#f4a086"/>
<ellipse cx="107.9" cy="1475.3" rx="10.4" ry="10.9" fill="#f4a086"/>
<ellipse cx="143.5" cy="1406.7" rx="9.1" ry="8.7" fill="#f19c86"/>
<ellipse cx="327.3" cy="1604.4" rx="9.3" ry="9.7" fill="#f29e88"/>
<ellipse cx="359.9" cy="1461.7" rx="6" ry="7.6" fill="#f5a48c"/>
<ellipse cx="312.9" cy="1416.4" rx="7.2" ry="8.2" fill="#f29e88"/>
<ellipse cx="295.4" cy="1329.9" rx="9.2" ry="9.7" fill="#f4a086"/>
<ellipse cx="336.2" cy="1417.5" rx="9" ry="8.3" fill="#f4a086"/>
<ellipse cx="423.2" cy="1393.7" rx="7.2" ry="7.5" fill="#f4a086"/>
<ellipse cx="207.6" cy="1437.1" rx="6.6" ry="7" fill="#f19c86"/>
<ellipse cx="382.5" cy="1454.3" rx="9.3" ry="7.6" fill="#f19c86"/>
<ellipse cx="205.3" cy="1598" rx="9.1" ry="7" fill="#f4a086"/>
<ellipse cx="412.7" cy="1426.8" rx="7.3" ry="8.8" fill="#f29e88"/>
<ellipse cx="301.6" cy="1404.1" rx="8.2" ry="7.9" fill="#f5a48c"/>
<ellipse cx="435.7" cy="1608.1" rx="9" ry="7.9" fill="#f29e88"/>
<ellipse cx="201" cy="1557.5" rx="8.8" ry="8.1" fill="#f4a086"/>
<ellipse cx="406.7" cy="1618.1" rx="8.3" ry="7.8" fill="#f4a086"/>
<ellipse cx="234.6" cy="1395.9" rx="9.8" ry="8.2" fill="#f5a48c"/>
<ellipse cx="205.4" cy="1544.5" rx="8.7" ry="6.8" fill="#f19c86"/>
<ellipse cx="74.2" cy="1413.4" rx="7.6" ry="8" fill="#f19c86"/>
<ellipse cx="205.1" cy="1582.2" rx="8.7" ry="8.6" fill="#f4a086"/>
<ellipse cx="315.3" cy="1386.8" rx="7.7" ry="7.1" fill="#f5a48c"/>
<ellipse cx="372" cy="1488.4" rx="6.6" ry="8.1" fill="#f5a48c"/>
<ellipse cx="214.2" cy="1489" rx="8" ry="7.8" fill="#f19c86"/>
<ellipse cx="122.9" cy="1531.9" rx="7.5" ry="7.3" fill="#f5a48c"/>
<ellipse cx="201.8" cy="1385" rx="7.8" ry="7.2" fill="#f19c86"/>
<ellipse cx="93.4" cy="1510.3" rx="10.1" ry="8.3" fill="#f29e88"/>
<ellipse cx="303" cy="1570" rx="11.2" ry="10.5" fill="#f29e88"/>
<ellipse cx="179.1" cy="1450.7" rx="7.5" ry="9.2" fill="#f19c86"/>
<ellipse cx="94.5" cy="1457.1" rx="7" ry="6.6" fill="#f4a086"/>
<ellipse cx="449" cy="1497.1" rx="8.7" ry="9.5" fill="#f29e88"/>
<ellipse cx="181.6" cy="1327.3" rx="6.8" ry="6.4" fill="#f29e88"/>
<ellipse cx="301.3" cy="1454.3" rx="11.8" ry="9.8" fill="#f4a086"/>
<ellipse cx="290.6" cy="1387" rx="9.2" ry="7.9" fill="#f4a086"/>
<ellipse cx="74.7" cy="1531.1" rx="10.3" ry="9.2" fill="#f4a086"/>
<ellipse cx="392.6" cy="1566.3" rx="10" ry="7.6" fill="#f5a48c"/>
<ellipse cx="60" cy="1471.5" rx="10.4" ry="8.8" fill="#f19c86"/>
<ellipse cx="131.1" cy="1472.7" rx="11" ry="9.2" fill="#f19c86"/>
<ellipse cx="150.4" cy="1462.7" rx="11.3" ry="8.5" fill="#f29e88"/>
<ellipse cx="119.6" cy="1575.4" rx="10.2" ry="9.9" fill="#f29e88"/>
<ellipse cx="152.1" cy="1383.3" rx="10.1" ry="9.7" fill="#f5a48c"/>
<ellipse cx="139.7" cy="1441.3" rx="7.9" ry="7.3" fill="#f4a086"/>
<ellipse cx="370.3" cy="1531.3" rx="8.7" ry="7.4" fill="#f4a086"/>
<ellipse cx="405.4" cy="1555.1" rx="7.6" ry="7.5" fill="#f5a48c"/>
<ellipse cx="385.3" cy="1480.6" rx="9" ry="8.4" fill="#f19c86"/>
<ellipse cx="141.2" cy="1528.6" rx="11.2" ry="9.5" fill="#f4a086"/>
<ellipse cx="106.6" cy="1617.1" rx="6.6" ry="6.8" fill="#f29e88"/>
<ellipse cx="146.8" cy="1545.5" rx="8.8" ry="9.3" fill="#f4a086"/>
<ellipse cx="144.6" cy="1563.2" rx="8.7" ry="7.5" fill="#f19c86"/>
<ellipse cx="227.3" cy="1514.7" rx="9.3" ry="7.1" fill="#f29e88"/>
<ellipse cx="317" cy="1400.5" rx="6.6" ry="6.7" fill="#f19c86"/>
<ellipse cx="252.8" cy="1344" rx="7.9" ry="6.9" fill="#f4a086"/>
<ellipse cx="252.1" cy="1473.7" rx="11.4" ry="8.8" fill="#f4a086"/>
<ellipse cx="320.7" cy="1574.7" rx="7.6" ry="8.7" fill="#f19c86"/>
<ellipse cx="407.6" cy="1487.6" rx="8.5" ry="7.2" fill="#f29e88"/>
<ellipse cx="299.6" cy="1508.7" rx="9.5" ry="10.3" fill="#f4a086"/>
<ellipse cx="245.8" cy="1448.4" rx="9.1" ry="9.6" fill="#f29e88"/>
<ellipse cx="142" cy="1371.6" rx="6" ry="6.4" fill="#f19c86"/>
<ellipse cx="64.1" cy="1518.7" rx="8.1" ry="6.4" fill="#f19c86"/>
<ellipse cx="281.9" cy="1413" rx="10.2" ry="11.1" fill="#f29e88"/>
<ellipse cx="335.7" cy="1570.8" rx="8.9" ry="9.7" fill="#f19c86"/>
<ellipse cx="295.6" cy="1591.1" rx="7.7" ry="7.9" fill="#f4a086"/>
<ellipse cx="354.5" cy="1560.3" rx="8.2" ry="8" fill="#f29e88"/>
<ellipse cx="205.8" cy="1358.1" rx="9.3" ry="9.4" fill="#f4a086"/>
<ellipse cx="119.9" cy="1502.9" rx="8.1" ry="8" fill="#f29e88"/>
<ellipse cx="390.5" cy="1512.1" rx="9" ry="8.9" fill="#f29e88"/>
<ellipse cx="246.6" cy="1411.2" rx="4.5" ry="4.2" fill="#f4a086"/>
<ellipse cx="139.6" cy="1507.4" rx="5.1" ry="6.1" fill="#f19c86"/>
<ellipse cx="219.3" cy="1539.6" rx="5.4" ry="5" fill="#f5a48c"/>
<ellipse cx="190.5" cy="1575.1" rx="5.1" ry="4.4" fill="#f5a48c"/>
<ellipse cx="105.9" cy="1537.5" rx="5.3" ry="5.3" fill="#f5a48c"/>
<ellipse cx="66.5" cy="1612.1" rx="4.8" ry="4.6" fill="#f5a48c"/>
<ellipse cx="384.1" cy="1603.3" rx="4.8" ry="4.3" fill="#f4a086"/>
<ellipse cx="364.7" cy="1426.6" rx="4.3" ry="4.5" fill="#f29e88"/>
<ellipse cx="230.1" cy="1616.2" rx="7.1" ry="6.2" fill="#f4a086"/>
<ellipse cx="157.1" cy="1480.2" rx="6.3" ry="6.1" fill="#f29e88"/>
<ellipse cx="273.8" cy="1574.4" rx="5.4" ry="5.7" fill="#f5a48c"/>
<ellipse cx="274.4" cy="1507.5" rx="4" ry="5.1" fill="#f4a086"/>
<ellipse cx="348.3" cy="1359" rx="5.8" ry="5.6" fill="#f19c86"/>
<ellipse cx="324.7" cy="1508.5" rx="5.4" ry="5.1" fill="#f19c86"/>
<ellipse cx="262.5" cy="1544.7" rx="5.7" ry="6.4" fill="#f29e88"/>
<ellipse cx="245.7" cy="1558.3" rx="5.4" ry="6" fill="#f19c86"/>
<ellipse cx="283.9" cy="1450" rx="5.3" ry="5.6" fill="#f19c86"/>
<ellipse cx="209.9" cy="1421.8" rx="5.2" ry="6.2" fill="#f5a48c"/>
<ellipse cx="255.3" cy="1457.7" rx="4.6" ry="4.1" fill="#f4a086"/>
<ellipse cx="417.4" cy="1330" rx="5.5" ry="5.6" fill="#f4a086"/>
<ellipse cx="254.4" cy="1598.2" rx="5.5" ry="5.4" fill="#f4a086"/>
<ellipse cx="196.8" cy="1606.3" rx="5.2" ry="4.7" fill="#f5a48c"/>
<ellipse cx="193.7" cy="1483.1" rx="4.4" ry="3.7" fill="#f19c86"/>
<ellipse cx="101.9" cy="1590.6" rx="5.3" ry="6.3" fill="#f19c86"/>
<ellipse cx="448.9" cy="1588.7" rx="4.5" ry="4.5" fill="#f19c86"/>
<ellipse cx="130.2" cy="1512.6" rx="5" ry="4.8" fill="#f29e88"/>
<ellipse cx="450.2" cy="1514.5" rx="4.1" ry="4.7" fill="#f4a086"/>
<ellipse cx="376.4" cy="1345.1" rx="5.7" ry="6.3" fill="#f19c86"/>
<ellipse cx="287.9" cy="1429.7" rx="4.7" ry="4.2" fill="#f29e88"/>
<ellipse cx="384" cy="1430.4" rx="4" ry="4" fill="#f29e88"/>
<ellipse cx="164.7" cy="1573" rx="5.7" ry="4.7" fill="#f29e88"/>
<ellipse cx="236.8" cy="1365.4" rx="3.8" ry="4.9" fill="#f29e88"/>
<ellipse cx="413.1" cy="1500.1" rx="3.8" ry="4.2" fill="#f5a48c"/>
<ellipse cx="260.6" cy="1486.8" rx="6.2" ry="5.2" fill="#f29e88"/>
<ellipse cx="136.4" cy="1416.2" rx="3.5" ry="3.7" fill="#f19c86"/>
<ellipse cx="328.2" cy="1429.7" rx="7" ry="5.8" fill="#f29e88"/>
<ellipse cx="364.5" cy="1411.2" rx="7" ry="6.3" fill="#f4a086"/>
<ellipse cx="93.8" cy="1605.9" rx="6.1" ry="5.8" fill="#f4a086"/>
<ellipse cx="220.7" cy="1386.2" rx="4.2" ry="4.3" fill="#f29e88"/>
<ellipse cx="176.4" cy="1587.7" rx="5.8" ry="4.4" fill="#f19c86"/>
<ellipse cx="360.5" cy="1571.9" rx="4.7" ry="4.4" fill="#f5a48c"/>
<ellipse cx="229.6" cy="1382.8" rx="3.3" ry="3.4" fill="#f4a086"/>
<ellipse cx="427.2" cy="1519.3" rx="4.1" ry="4.2" fill="#f29e88"/>
<ellipse cx="389.4" cy="1414.2" rx="6.4" ry="4.8" fill="#f19c86"/>
<ellipse cx="385.8" cy="1545.7" rx="4.8" ry="3.6" fill="#f29e88"/>
<ellipse cx="383.8" cy="1421.2" rx="5.1" ry="4.5" fill="#f5a48c"/>
<ellipse cx="203.9" cy="1572" rx="4.2" ry="3.5" fill="#f29e88"/>
<ellipse cx="281.9" cy="1512.1" rx="6.3" ry="6.2" fill="#f19c86"/>
<ellipse cx="415.3" cy="1605.5" rx="5.9" ry="5.3" fill="#f4a086"/>
<ellipse cx="89.9" cy="1529.7" rx="4.2" ry="5.4" fill="#f4a086"/>
<ellipse cx="440.8" cy="1353.2" rx="5.7" ry="5.4" fill="#f4a086"/>
<ellipse cx="89.9" cy="1447.1" rx="4.6" ry="5.5" fill="#f29e88"/>
<ellipse cx="97.6" cy="1488.7" rx="4" ry="4" fill="#f19c86"/>
<ellipse cx="423.3" cy="1525.9" rx="4.7" ry="4.4" fill="#f4a086"/>
<ellipse cx="131.4" cy="1490.2" rx="5.5" ry="5.5" fill="#f19c86"/>
<ellipse cx="63.7" cy="1427.8" rx="5.8" ry="5.7" fill="#f29e88"/>
<ellipse cx="381" cy="1527.2" rx="4.9" ry="5.1" fill="#f19c86"/>
<ellipse cx="197.8" cy="1328.6" rx="4.8" ry="4.1" fill="#f19c86"/>
<ellipse cx="362.3" cy="1584.1" rx="5.7" ry="5.2" fill="#f19c86"/>
<ellipse cx="402.5" cy="1603.6" rx="4.8" ry="3.9" fill="#f4a086"/>
<ellipse cx="359.4" cy="1544.9" rx="5.7" ry="5.3" fill="#f19c86"/>
<ellipse cx="248.2" cy="1435.1" rx="4.8" ry="3.7" fill="#f5a48c"/>
<ellipse cx="237" cy="1458.2" rx="4.3" ry="4.8" fill="#f29e88"/>
<ellipse cx="192.6" cy="1598.5" rx="3.9" ry="3.7" fill="#f29e88"/>
<ellipse cx="164" cy="1534.5" rx="5.6" ry="4.2" fill="#f29e88"/>
<ellipse cx="270.1" cy="1585" rx="6.3" ry="5.9" fill="#f29e88"/>
<ellipse cx="280.8" cy="1618" rx="6.1" ry="4.9" fill="#f19c86"/>
<ellipse cx="421.7" cy="1374.6" rx="5.6" ry="5.7" fill="#f19c86"/>
<ellipse cx="154" cy="1616.5" rx="4.8" ry="4.9" fill="#f29e88"/>
<ellipse cx="82" cy="1493.2" rx="7" ry="5.4" fill="#f29e88"/>
<ellipse cx="431" cy="1511.7" rx="5" ry="4.5" fill="#f4a086"/>
<ellipse cx="161.8" cy="1454.7" rx="4.3" ry="4.2" fill="#f19c86"/>
<ellipse cx="141.1" cy="1587.4" rx="6" ry="5.5" fill="#f5a48c"/>
<ellipse cx="450.7" cy="1414.6" rx="3.8" ry="4.3" fill="#f4a086"/>
<ellipse cx="327.6" cy="1353.4" rx="6.6" ry="6.6" fill="#f5a48c"/>
<ellipse cx="330.2" cy="1338" rx="4.2" ry="4.8" fill="#f19c86"/>
<ellipse cx="166" cy="1379.1" rx="4.4" ry="4" fill="#f29e88"/>
<ellipse cx="75.3" cy="1476.8" rx="5.6" ry="5.8" fill="#f29e88"/>
<ellipse cx="60.4" cy="1506" rx="4.3" ry="4.8" fill="#f19c86"/>
<ellipse cx="58.7" cy="1546.9" rx="4.6" ry="4.4" fill="#f5a48c"/>
<ellipse cx="291.9" cy="1620.2" rx="6.1" ry="5.9" fill="#f4a086"/>
<ellipse cx="351.5" cy="1438.5" rx="4.3" ry="4.1" fill="#f5a48c"/>
<ellipse cx="265.9" cy="1507.5" rx="5" ry="4.2" fill="#f4a086"/>
<ellipse cx="306.3" cy="1487" rx="5.9" ry="5.8" fill="#f4a086"/>
<ellipse cx="162.8" cy="1594.8" rx="6.1" ry="4.8" fill="#f29e88"/>
<ellipse cx="264.2" cy="1467.4" rx="3.7" ry="4.5" fill="#f29e88"/>
<ellipse cx="380.8" cy="1363.1" rx="3.7" ry="3.9" fill="#f4a086"/>
<ellipse cx="451.5" cy="1531.8" rx="5.8" ry="4.4" fill="#f19c86"/>
<ellipse cx="203" cy="1480.4" rx="4.1" ry="4.4" fill="#f19c86"/>
<ellipse cx="192.4" cy="1439.2" rx="4.2" ry="4.2" fill="#f19c86"/>
<ellipse cx="283.3" cy="1343.8" rx="5.4" ry="6.2" fill="#f19c86"/>
<ellipse cx="339.1" cy="1436.6" rx="4.1" ry="4" fill="#f4a086"/>
<ellipse cx="60.7" cy="1618.4" rx="4.8" ry="4.1" fill="#f19c86"/>
<ellipse cx="259.8" cy="1450.7" rx="4.3" ry="4.5" fill="#f29e88"/>
<ellipse cx="374.8" cy="1501.4" rx="6.5" ry="7" fill="#f4a086"/>
<ellipse cx="328.8" cy="1372.5" rx="6.1" ry="6" fill="#f5a48c"/>
<ellipse cx="74.8" cy="1573.4" rx="4.2" ry="4.6" fill="#f29e88"/>
<ellipse cx="212.7" cy="1336.5" rx="5.1" ry="4.7" fill="#f5a48c"/>
<ellipse cx="451.2" cy="1603.8" rx="3.9" ry="4.5" fill="#f29e88"/>
<ellipse cx="240.3" cy="1336.7" rx="4.4" ry="3.9" fill="#f5a48c"/>
<ellipse cx="313.4" cy="1365.7" rx="5.2" ry="4.2" fill="#f4a086"/>
<ellipse cx="402.8" cy="1468.4" rx="4.4" ry="3.9" fill="#f5a48c"/>
<ellipse cx="269.5" cy="1476.3" rx="3.8" ry="3.8" fill="#f29e88"/>
<ellipse cx="262.6" cy="1412.9" rx="3.5" ry="4" fill="#f29e88"/>
<ellipse cx="338.6" cy="1345.1" rx="5.8" ry="5.2" fill="#f19c86"/>
<ellipse cx="133" cy="1571.8" rx="5.6" ry="4.4" fill="#f4a086"/>
<ellipse cx="264.2" cy="1526.3" rx="4.6" ry="4.7" fill="#f5a48c"/>
<ellipse cx="201.8" cy="1614.7" rx="6.2" ry="6.5" fill="#f29e88"/>
<ellipse cx="384.3" cy="1493.9" rx="7.3" ry="7" fill="#f19c86"/>
<ellipse cx="351.1" cy="1427.6" rx="5.2" ry="5.1" fill="#f5a48c"/>
<ellipse cx="235.8" cy="1471.3" rx="9" ry="7.2" fill="#dfe9e2"/>
<ellipse cx="358" cy="1483.1" rx="11" ry="8.8" fill="#dfe9e2"/>
<ellipse cx="287.1" cy="1515.5" rx="7" ry="5.6" fill="#dfe9e2"/>
<ellipse cx="350.2" cy="1533.2" rx="9" ry="7.2" fill="#dfe9e2"/>
<ellipse cx="291" cy="1542.1" rx="6" ry="4.8" fill="#dfe9e2"/>
<ellipse cx="70.1" cy="1444.8" rx="10" ry="8" fill="#dfe9e2"/>
<ellipse cx="164.8" cy="1415.3" rx="5" ry="4" fill="#dfe9e2"/>
<ellipse cx="145.1" cy="1450.7" rx="5" ry="4" fill="#dfe9e2"/>
<circle cx="436.4" cy="1561.1" r="3.6" fill="#5570cc"/>
<circle cx="264.5" cy="1417.2" r="4.5" fill="#5570cc"/>
<circle cx="93.5" cy="1341.3" r="4" fill="#4a62c6"/>
<circle cx="70.2" cy="1421.3" r="4.6" fill="#5570cc"/>
<circle cx="87.9" cy="1521.1" r="4.2" fill="#3a52bc"/>
<circle cx="249" cy="1401.3" r="4.3" fill="#4a62c6"/>
<circle cx="235.6" cy="1578.1" r="4.9" fill="#3a52bc"/>
<circle cx="362.1" cy="1436.4" r="3.9" fill="#5570cc"/>
<circle cx="302.3" cy="1357.7" r="3.9" fill="#5570cc"/>
<circle cx="110.8" cy="1579.9" r="4.9" fill="#4a62c6"/>
<circle cx="83.2" cy="1528.5" r="3.1" fill="#3f58c2"/>
<circle cx="394.5" cy="1521.6" r="3.7" fill="#3f58c2"/>
<circle cx="115.4" cy="1532.5" r="4.4" fill="#3f58c2"/>
<circle cx="267.3" cy="1533.3" r="3.6" fill="#3a52bc"/>
<circle cx="125" cy="1378" r="4.5" fill="#3a52bc"/>
<circle cx="239" cy="1489.6" r="3.2" fill="#3a52bc"/>
<circle cx="244.8" cy="1608.8" r="4.2" fill="#5570cc"/>
<circle cx="357.6" cy="1442.8" r="3.4" fill="#4a62c6"/>
<circle cx="353.7" cy="1596.8" r="4" fill="#5570cc"/>
<circle cx="374.7" cy="1335" r="4" fill="#4a62c6"/>
<circle cx="443.3" cy="1508.3" r="3.6" fill="#5570cc"/>
<circle cx="327.5" cy="1521.3" r="3.1" fill="#3f58c2"/>
<circle cx="398.7" cy="1496.3" r="3" fill="#5570cc"/>
<circle cx="297.5" cy="1592" r="3.7" fill="#5570cc"/>
<circle cx="206.1" cy="1430.9" r="3.8" fill="#3f58c2"/>
<circle cx="430.1" cy="1330.5" r="4.4" fill="#4a62c6"/>
<circle cx="380.5" cy="1516.8" r="3.1" fill="#4a62c6"/>
<circle cx="356" cy="1566.6" r="3.5" fill="#5570cc"/>
<circle cx="208.4" cy="1574.4" r="3.3" fill="#5570cc"/>
<circle cx="322.9" cy="1343" r="4.8" fill="#4a62c6"/>
<circle cx="392.7" cy="1586" r="3.3" fill="#3f58c2"/>
<circle cx="371.3" cy="1575.3" r="5" fill="#5570cc"/>
<circle cx="243.8" cy="1463" r="4.5" fill="#4a62c6"/>
<circle cx="346" cy="1433.2" r="3.1" fill="#3f58c2"/>
<circle cx="187.3" cy="1334.5" r="4.6" fill="#4a62c6"/>
<circle cx="204.2" cy="1508.2" r="4" fill="#3f58c2"/>
<circle cx="136.6" cy="1463.1" r="3.8" fill="#3a52bc"/>
<circle cx="434.6" cy="1418.2" r="4.3" fill="#3a52bc"/>
<circle cx="349.8" cy="1430.7" r="4.2" fill="#3f58c2"/>
<circle cx="201.6" cy="1609.5" r="4.4" fill="#3f58c2"/>
<circle cx="316.5" cy="1494.4" r="3.9" fill="#3a52bc"/>
<circle cx="67.6" cy="1365.4" r="5" fill="#4a62c6"/>
<circle cx="264.8" cy="1568.7" r="4.6" fill="#5570cc"/>
<circle cx="98.4" cy="1560.9" r="4.2" fill="#3f58c2"/>
<circle cx="144.7" cy="1587.2" r="3.9" fill="#3a52bc"/>
<circle cx="187.4" cy="1619.2" r="4" fill="#4a62c6"/>
<circle cx="252.1" cy="1548.6" r="3" fill="#4a62c6"/>
<circle cx="296.9" cy="1438.3" r="4.7" fill="#4a62c6"/>
<circle cx="130.6" cy="1595.2" r="4.1" fill="#3f58c2"/>
<circle cx="400.8" cy="1433.5" r="4.8" fill="#4a62c6"/>
<circle cx="257.4" cy="1592.6" r="4.7" fill="#4a62c6"/>
<circle cx="259.8" cy="1601.8" r="4.1" fill="#4a62c6"/>
<circle cx="112" cy="1529.6" r="4.2" fill="#4a62c6"/>
<circle cx="94.7" cy="1328.5" r="3.7" fill="#4a62c6"/>
<circle cx="262.1" cy="1378.5" r="4.2" fill="#4a62c6"/>
<circle cx="443.2" cy="1539.6" r="3.2" fill="#3a52bc"/>
<circle cx="339.1" cy="1536.3" r="3.5" fill="#3a52bc"/>
<circle cx="423.2" cy="1342.3" r="4.9" fill="#3a52bc"/>
<circle cx="401.1" cy="1582.9" r="4.8" fill="#3a52bc"/>
<circle cx="451.8" cy="1425.9" r="4.5" fill="#4a62c6"/>
<circle cx="451.3" cy="1393.9" r="4.7" fill="#5570cc"/>
<circle cx="302.1" cy="1416.2" r="3.3" fill="#4a62c6"/>
<circle cx="234" cy="1368.8" r="4.2" fill="#3f58c2"/>
<circle cx="257.3" cy="1380.9" r="4" fill="#3a52bc"/>
<circle cx="361.5" cy="1501.4" r="3.9" fill="#5570cc"/>
<circle cx="115.4" cy="1376.7" r="3.1" fill="#3a52bc"/>
<circle cx="439.7" cy="1445.8" r="3.7" fill="#3a52bc"/>
<circle cx="312.9" cy="1464" r="4.7" fill="#3f58c2"/>
<circle cx="74.7" cy="1558.1" r="4" fill="#3a52bc"/>
<circle cx="329.1" cy="1511.6" r="4.4" fill="#3a52bc"/>
<circle cx="192.4" cy="1605.4" r="4.1" fill="#3a52bc"/>
<circle cx="415" cy="1614.5" r="4.2" fill="#3a52bc"/>
<circle cx="232.2" cy="1407.8" r="4" fill="#3f58c2"/>
<circle cx="196.3" cy="1483.7" r="4.3" fill="#3a52bc"/>
<circle cx="281.3" cy="1579.6" r="3" fill="#3a52bc"/>
<circle cx="84.8" cy="1565.8" r="4.3" fill="#3f58c2"/>
<circle cx="167.1" cy="1424.8" r="4.6" fill="#4a62c6"/>
<circle cx="428.8" cy="1438.1" r="3.2" fill="#4a62c6"/>
<circle cx="81.8" cy="1564.4" r="3.3" fill="#4a62c6"/>
<circle cx="144.8" cy="1455.6" r="3.2" fill="#3f58c2"/>
<circle cx="431.8" cy="1489.3" r="3.2" fill="#4a62c6"/>
<circle cx="396.9" cy="1440.6" r="3.2" fill="#4a62c6"/>
<circle cx="293.8" cy="1614.9" r="3.1" fill="#3f58c2"/>
<circle cx="121.6" cy="1338.3" r="3.7" fill="#4a62c6"/>
<circle cx="102.6" cy="1374.6" r="3.4" fill="#5570cc"/>
<circle cx="323.5" cy="1612.7" r="3.7" fill="#3a52bc"/>
<circle cx="186.6" cy="1447.4" r="3.9" fill="#3a52bc"/>
<circle cx="442.7" cy="1620.2" r="4.4" fill="#4a62c6"/>
<circle cx="305.2" cy="1520" r="3.9" fill="#3f58c2"/>
<circle cx="63.7" cy="1456.3" r="3" fill="#5570cc"/>
<circle cx="77.3" cy="1558.7" r="4" fill="#3a52bc"/>
<circle cx="127.3" cy="1439.8" r="4.4" fill="#3f58c2"/>
<circle cx="336.6" cy="1382.6" r="3.8" fill="#3a52bc"/>
<circle cx="444.5" cy="1374.4" r="4.8" fill="#4a62c6"/>
<circle cx="369.1" cy="1569" r="5" fill="#5570cc"/>
<circle cx="183.8" cy="1550.2" r="3.5" fill="#5570cc"/>
<circle cx="166.8" cy="1599" r="3.2" fill="#3f58c2"/>
<circle cx="426.4" cy="1352.5" r="4.6" fill="#3f58c2"/>
<circle cx="230" cy="1587.1" r="4.6" fill="#3f58c2"/>
<circle cx="253.1" cy="1539.7" r="3.4" fill="#5570cc"/>
<circle cx="167.9" cy="1436.1" r="4.8" fill="#3a52bc"/>
<circle cx="361.5" cy="1531.1" r="4.3" fill="#5570cc"/>
<circle cx="238.2" cy="1581.5" r="3.8" fill="#3a52bc"/>
<circle cx="436.3" cy="1340.5" r="4.7" fill="#5570cc"/>
<circle cx="79.4" cy="1618.2" r="4.1" fill="#4a62c6"/>
<circle cx="197" cy="1577.9" r="4.7" fill="#5570cc"/>
<circle cx="379.7" cy="1336.6" r="4" fill="#3f58c2"/>
<circle cx="90.6" cy="1560.1" r="4.8" fill="#4a62c6"/>
<circle cx="241.5" cy="1465.1" r="4.4" fill="#5570cc"/>
<circle cx="193.7" cy="1601.9" r="3.4" fill="#4a62c6"/>
<circle cx="388.9" cy="1403.6" r="3.3" fill="#4a62c6"/>
<circle cx="418.2" cy="1392" r="4.2" fill="#3f58c2"/>
<circle cx="233.2" cy="1355.8" r="4.6" fill="#3f58c2"/>
<circle cx="382.9" cy="1610.5" r="4.8" fill="#4a62c6"/>
<circle cx="409.1" cy="1596.6" r="4.8" fill="#3a52bc"/>
<circle cx="252.8" cy="1405.8" r="3.7" fill="#3a52bc"/>
<circle cx="358.8" cy="1500.6" r="3.3" fill="#3f58c2"/>
<circle cx="203.3" cy="1609.8" r="5" fill="#4a62c6"/>
<circle cx="255" cy="1410.1" r="3.7" fill="#4a62c6"/>
<circle cx="182.1" cy="1335.3" r="3.4" fill="#3f58c2"/>
<circle cx="435.6" cy="1461.1" r="3.7" fill="#5570cc"/>
<circle cx="247.9" cy="1600.9" r="3.4" fill="#4a62c6"/>
<circle cx="200.4" cy="1505.2" r="3.6" fill="#4a62c6"/>
<circle cx="338" cy="1499.8" r="3.8" fill="#4a62c6"/>
<circle cx="276.5" cy="1387.5" r="4" fill="#3f58c2"/>
<circle cx="171.4" cy="1356.5" r="3.4" fill="#3f58c2"/>
<circle cx="168.9" cy="1590.8" r="4.4" fill="#3a52bc"/>
<circle cx="196.4" cy="1536.2" r="4.1" fill="#4a62c6"/>
<circle cx="63.5" cy="1386.6" r="3.4" fill="#4a62c6"/>
<circle cx="98.4" cy="1601.7" r="3.5" fill="#5570cc"/>
<circle cx="324.4" cy="1440.1" r="5" fill="#3f58c2"/>
<circle cx="84.8" cy="1571.7" r="5" fill="#3f58c2"/>
<circle cx="385.5" cy="1590" r="4" fill="#3a52bc"/>
<circle cx="202" cy="1522" r="5" fill="#3a52bc"/>
<circle cx="304.1" cy="1519.5" r="3.3" fill="#5570cc"/>
<circle cx="275.7" cy="1432.7" r="3.5" fill="#4a62c6"/>
<circle cx="372.6" cy="1363.6" r="3.6" fill="#3f58c2"/>
<circle cx="64.3" cy="1343.9" r="3.8" fill="#4a62c6"/>
<circle cx="423.4" cy="1328.5" r="4.8" fill="#5570cc"/>
<circle cx="236.8" cy="1475.2" r="4.2" fill="#4a62c6"/>
<circle cx="136.5" cy="1403.4" r="4.5" fill="#3f58c2"/>
<circle cx="87.6" cy="1556.5" r="3.9" fill="#4a62c6"/>
<circle cx="126.2" cy="1454.2" r="3.2" fill="#3a52bc"/>
<circle cx="424.5" cy="1499.9" r="4" fill="#4a62c6"/>
<circle cx="381.2" cy="1559.8" r="3.6" fill="#3f58c2"/>
<circle cx="190.6" cy="1357" r="4.5" fill="#4a62c6"/>
<circle cx="259.7" cy="1376.4" r="4.3" fill="#3a52bc"/>
<circle cx="160.4" cy="1460.6" r="3.5" fill="#3a52bc"/>
<circle cx="59.7" cy="1392.5" r="3.8" fill="#4a62c6"/>
<circle cx="219.2" cy="1484.9" r="3.6" fill="#5570cc"/>
<circle cx="190.4" cy="1405.3" r="4.3" fill="#4a62c6"/>
<circle cx="85.6" cy="1351.8" r="3.1" fill="#4a62c6"/>
<circle cx="449" cy="1598.1" r="3.2" fill="#3a52bc"/>
<circle cx="158.1" cy="1356.1" r="4.1" fill="#3a52bc"/>
<circle cx="173.4" cy="1602.2" r="4.6" fill="#3a52bc"/>
<circle cx="108.4" cy="1346.6" r="3.9" fill="#3f58c2"/>
<circle cx="333.4" cy="1497.3" r="5" fill="#3f58c2"/>
<circle cx="369.7" cy="1559.9" r="3.1" fill="#5570cc"/>
<circle cx="153" cy="1392" r="4.9" fill="#5570cc"/>
<circle cx="195.5" cy="1531.9" r="3.7" fill="#5570cc"/>
<circle cx="110.4" cy="1487.2" r="3.9" fill="#4a62c6"/>
<circle cx="309.4" cy="1372.6" r="4.7" fill="#3f58c2"/>
<circle cx="103.7" cy="1439" r="4.3" fill="#3f58c2"/>
<circle cx="179" cy="1500.8" r="4.7" fill="#3a52bc"/>
<circle cx="440.6" cy="1516.7" r="4.9" fill="#4a62c6"/>
<circle cx="181" cy="1387" r="4.5" fill="#4a62c6"/>
<circle cx="205.7" cy="1477.3" r="4.2" fill="#4a62c6"/>
<circle cx="302.6" cy="1521.3" r="3.3" fill="#3f58c2"/>
<circle cx="223.5" cy="1522.7" r="3.4" fill="#5570cc"/>
<circle cx="167.1" cy="1553.9" r="4.4" fill="#5570cc"/>
<circle cx="262.4" cy="1400.2" r="4" fill="#3a52bc"/>
<circle cx="272.9" cy="1413.2" r="4.7" fill="#3f58c2"/>
<circle cx="381.1" cy="1469.1" r="4.5" fill="#4a62c6"/>
<circle cx="345.9" cy="1581" r="4.4" fill="#3a52bc"/>
<circle cx="200.1" cy="1549.4" r="4.5" fill="#4a62c6"/>
<circle cx="384.1" cy="1616.8" r="3.9" fill="#5570cc"/>
<circle cx="82.3" cy="1433.1" r="3.1" fill="#5570cc"/>
<circle cx="375.6" cy="1394.4" r="3.7" fill="#3f58c2"/>
<circle cx="342.1" cy="1544.2" r="3.4" fill="#3f58c2"/>
<circle cx="203.9" cy="1406.4" r="4" fill="#4a62c6"/>
<circle cx="231.5" cy="1451" r="3.6" fill="#4a62c6"/>
<circle cx="339.4" cy="1430.7" r="3.1" fill="#4a62c6"/>
<circle cx="206.1" cy="1362" r="3.9" fill="#3a52bc"/>
<circle cx="450.8" cy="1618.3" r="5" fill="#3a52bc"/>
<circle cx="204.9" cy="1551.3" r="3.7" fill="#3f58c2"/>
<circle cx="304.6" cy="1382.4" r="3" fill="#4a62c6"/>
<circle cx="174.2" cy="1385.8" r="4.7" fill="#4a62c6"/>
<circle cx="185.3" cy="1337.5" r="3.7" fill="#3f58c2"/>
<circle cx="259.5" cy="1362.9" r="3.4" fill="#5570cc"/>
<circle cx="450" cy="1596.7" r="3" fill="#4a62c6"/>
</g>
<rect x="58.3" y="1326.8" width="394.4" height="294.9" fill="#fff" filter="url(#nz4)"/>
<rect x="58.3" y="1326.8" width="394.4" height="294.9" fill="#fff" filter="url(#nz5)"/>
</g>
<rect x="58.3" y="1326.8" width="394.4" height="294.9" fill="none" stroke="#000" stroke-width="2.6"/>
<g clip-path="url(#clipL2)">
<rect x="465.1" y="1326.8" width="394.3" height="295.4" fill="url(#gL2)"/>
<rect x="465.1" y="1326.8" width="394.3" height="295.4" fill="#fff" filter="url(#nz2)"/>
<rect x="465.1" y="1326.8" width="394.3" height="295.4" fill="#fff" filter="url(#nz3)"/>
<g filter="url(#blur2)">
<ellipse cx="643.5" cy="1492.2" rx="6.7" ry="2.2" fill="#d0dac8" opacity=".75" transform="rotate(-14.6 643.5 1492.2)"/>
<ellipse cx="696.7" cy="1381.3" rx="5" ry="2.4" fill="#d0dac8" opacity=".75" transform="rotate(-0.4 696.7 1381.3)"/>
<ellipse cx="784.3" cy="1531.6" rx="3.2" ry="3" fill="#d0dac8" opacity=".75" transform="rotate(8.2 784.3 1531.6)"/>
<ellipse cx="722.9" cy="1508.6" rx="3.6" ry="1.5" fill="#d0dac8" opacity=".75" transform="rotate(-13.6 722.9 1508.6)"/>
<ellipse cx="797.3" cy="1480.1" rx="5.6" ry="2.2" fill="#d0dac8" opacity=".75" transform="rotate(-6.9 797.3 1480.1)"/>
<ellipse cx="645.4" cy="1409" rx="7" ry="3" fill="#d0dac8" opacity=".75" transform="rotate(2 645.4 1409)"/>
<ellipse cx="744.2" cy="1419.9" rx="3.9" ry="1.9" fill="#d0dac8" opacity=".75" transform="rotate(-36.5 744.2 1419.9)"/>
<ellipse cx="767.2" cy="1445.1" rx="6.4" ry="2.1" fill="#d0dac8" opacity=".75" transform="rotate(7.9 767.2 1445.1)"/>
<ellipse cx="799.2" cy="1327" rx="3.8" ry="2.9" fill="#d0dac8" opacity=".75" transform="rotate(-16.5 799.2 1327)"/>
<ellipse cx="851.7" cy="1444.2" rx="3.3" ry="2.4" fill="#d0dac8" opacity=".75" transform="rotate(-1.1 851.7 1444.2)"/>
<ellipse cx="571.5" cy="1352.5" rx="4.3" ry="2.9" fill="#d0dac8" opacity=".75" transform="rotate(-2.1 571.5 1352.5)"/>
<ellipse cx="685.6" cy="1459" rx="3.8" ry="2.6" fill="#d0dac8" opacity=".75" transform="rotate(-33.5 685.6 1459)"/>
<ellipse cx="718.9" cy="1361.2" rx="4.7" ry="1.8" fill="#d0dac8" opacity=".75" transform="rotate(-26.5 718.9 1361.2)"/>
<ellipse cx="847.9" cy="1564.1" rx="4.2" ry="2.8" fill="#d0dac8" opacity=".75" transform="rotate(-29.5 847.9 1564.1)"/>
<ellipse cx="620.6" cy="1579.2" rx="5.6" ry="1.7" fill="#d0dac8" opacity=".75" transform="rotate(9.5 620.6 1579.2)"/>
<ellipse cx="549.2" cy="1403.1" rx="4.3" ry="1.9" fill="#d0dac8" opacity=".75" transform="rotate(-36.3 549.2 1403.1)"/>
<ellipse cx="702.2" cy="1436.6" rx="4.8" ry="2.9" fill="#d0dac8" opacity=".75" transform="rotate(-15.8 702.2 1436.6)"/>
<ellipse cx="691.7" cy="1582.8" rx="3.7" ry="1.7" fill="#d0dac8" opacity=".75" transform="rotate(5.4 691.7 1582.8)"/>
<ellipse cx="787.6" cy="1400.5" rx="3.8" ry="2.6" fill="#d0dac8" opacity=".75" transform="rotate(7 787.6 1400.5)"/>
<ellipse cx="542.6" cy="1607.5" rx="5.4" ry="2.1" fill="#d0dac8" opacity=".75" transform="rotate(-34.8 542.6 1607.5)"/>
<ellipse cx="742.9" cy="1402.7" rx="6.3" ry="2.4" fill="#d0dac8" opacity=".75" transform="rotate(-25.3 742.9 1402.7)"/>
<ellipse cx="555.2" cy="1492" rx="5.5" ry="1.9" fill="#d0dac8" opacity=".75" transform="rotate(5.9 555.2 1492)"/>
<ellipse cx="640.8" cy="1344.7" rx="3.7" ry="2.1" fill="#d0dac8" opacity=".75" transform="rotate(-11.4 640.8 1344.7)"/>
<ellipse cx="517" cy="1433.8" rx="6.9" ry="2.5" fill="#d0dac8" opacity=".75" transform="rotate(-5.4 517 1433.8)"/>
<ellipse cx="695.5" cy="1368.3" rx="3.1" ry="1.5" fill="#d0dac8" opacity=".75" transform="rotate(5.5 695.5 1368.3)"/>
<ellipse cx="741.5" cy="1611.2" rx="3.1" ry="2.5" fill="#d0dac8" opacity=".75" transform="rotate(-15.9 741.5 1611.2)"/>
<ellipse cx="753.1" cy="1421" rx="7" ry="1.6" fill="#d0dac8" opacity=".75" transform="rotate(-12.7 753.1 1421)"/>
<ellipse cx="755.7" cy="1592.7" rx="5.9" ry="2.6" fill="#d0dac8" opacity=".75" transform="rotate(-0.3 755.7 1592.7)"/>
<ellipse cx="825.9" cy="1430.7" rx="5.7" ry="2.9" fill="#d0dac8" opacity=".75" transform="rotate(3.6 825.9 1430.7)"/>
<ellipse cx="629.6" cy="1560.3" rx="6.5" ry="2.4" fill="#d0dac8" opacity=".75" transform="rotate(-8.8 629.6 1560.3)"/>
<ellipse cx="615.9" cy="1498.9" rx="5.4" ry="1.6" fill="#d0dac8" opacity=".75" transform="rotate(-8 615.9 1498.9)"/>
<ellipse cx="856.8" cy="1586.7" rx="5.9" ry="2.1" fill="#d0dac8" opacity=".75" transform="rotate(-3.2 856.8 1586.7)"/>
<ellipse cx="694.2" cy="1456.9" rx="6.4" ry="1.6" fill="#d0dac8" opacity=".75" transform="rotate(-2.5 694.2 1456.9)"/>
<ellipse cx="707.4" cy="1598.7" rx="4" ry="1.5" fill="#d0dac8" opacity=".75" transform="rotate(-24.9 707.4 1598.7)"/>
<ellipse cx="732.5" cy="1386.6" rx="3.7" ry="2.9" fill="#d0dac8" opacity=".75" transform="rotate(-7 732.5 1386.6)"/>
<ellipse cx="639.4" cy="1590.2" rx="4.3" ry="2.5" fill="#d0dac8" opacity=".75" transform="rotate(-30.1 639.4 1590.2)"/>
<ellipse cx="635" cy="1564.9" rx="6.7" ry="2.8" fill="#d0dac8" opacity=".75" transform="rotate(-20.8 635 1564.9)"/>
<ellipse cx="695" cy="1420.3" rx="3.5" ry="2.2" fill="#d0dac8" opacity=".75" transform="rotate(1.9 695 1420.3)"/>
<ellipse cx="799.8" cy="1536.9" rx="6.8" ry="1.9" fill="#d0dac8" opacity=".75" transform="rotate(-31.5 799.8 1536.9)"/>
<ellipse cx="642.8" cy="1408.1" rx="3.9" ry="2.1" fill="#d0dac8" opacity=".75" transform="rotate(-8.7 642.8 1408.1)"/>
<ellipse cx="659.8" cy="1420" rx="6.4" ry="3" fill="#d0dac8" opacity=".75" transform="rotate(-17.4 659.8 1420)"/>
<ellipse cx="494.5" cy="1336.1" rx="3.2" ry="2.6" fill="#d0dac8" opacity=".75" transform="rotate(-11.5 494.5 1336.1)"/>
<ellipse cx="587" cy="1560.6" rx="3.1" ry="1.7" fill="#d0dac8" opacity=".75" transform="rotate(-17.3 587 1560.6)"/>
<ellipse cx="641.1" cy="1512.9" rx="5.6" ry="2.7" fill="#d0dac8" opacity=".75" transform="rotate(7.9 641.1 1512.9)"/>
<ellipse cx="735" cy="1385.7" rx="4.9" ry="1.8" fill="#d0dac8" opacity=".75" transform="rotate(-39.5 735 1385.7)"/>
<ellipse cx="651.3" cy="1537.8" rx="3.7" ry="1.9" fill="#d0dac8" opacity=".75" transform="rotate(-22.7 651.3 1537.8)"/>
<ellipse cx="740" cy="1480.5" rx="5.5" ry="2.6" fill="#d0dac8" opacity=".75" transform="rotate(-20.3 740 1480.5)"/>
<ellipse cx="777.4" cy="1594.5" rx="3.3" ry="2.9" fill="#d0dac8" opacity=".75" transform="rotate(-3.9 777.4 1594.5)"/>
<ellipse cx="823.9" cy="1438.1" rx="5.3" ry="2.8" fill="#d0dac8" opacity=".75" transform="rotate(-0.2 823.9 1438.1)"/>
<ellipse cx="837.4" cy="1463.8" rx="5.6" ry="1.8" fill="#d0dac8" opacity=".75" transform="rotate(-3.9 837.4 1463.8)"/>
<ellipse cx="787.8" cy="1516.3" rx="5.9" ry="1.8" fill="#d0dac8" opacity=".75" transform="rotate(5 787.8 1516.3)"/>
<ellipse cx="851.7" cy="1615.5" rx="5.1" ry="2.7" fill="#d0dac8" opacity=".75" transform="rotate(-24 851.7 1615.5)"/>
<ellipse cx="823.9" cy="1579.6" rx="4.4" ry="1.6" fill="#d0dac8" opacity=".75" transform="rotate(-18 823.9 1579.6)"/>
<ellipse cx="682.1" cy="1553.7" rx="4.9" ry="1.5" fill="#d0dac8" opacity=".75" transform="rotate(0.5 682.1 1553.7)"/>
<ellipse cx="597.2" cy="1559.5" rx="3.6" ry="1.7" fill="#d0dac8" opacity=".75" transform="rotate(-14.2 597.2 1559.5)"/>
<ellipse cx="750.4" cy="1574.9" rx="5.8" ry="2.9" fill="#d0dac8" opacity=".75" transform="rotate(-15.4 750.4 1574.9)"/>
<ellipse cx="839.4" cy="1352.2" rx="3.9" ry="2.3" fill="#d0dac8" opacity=".75" transform="rotate(-25.5 839.4 1352.2)"/>
<ellipse cx="752.5" cy="1515.5" rx="5.1" ry="2.8" fill="#d0dac8" opacity=".75" transform="rotate(-12 752.5 1515.5)"/>
<ellipse cx="588" cy="1439.4" rx="6.4" ry="2.9" fill="#d0dac8" opacity=".75" transform="rotate(-29.6 588 1439.4)"/>
<ellipse cx="800.6" cy="1612.9" rx="5.1" ry="2.4" fill="#d0dac8" opacity=".75" transform="rotate(-30 800.6 1612.9)"/>
<ellipse cx="676.4" cy="1475.4" rx="5.4" ry="1.5" fill="#d0dac8" opacity=".75" transform="rotate(8.5 676.4 1475.4)"/>
<ellipse cx="668.6" cy="1445.1" rx="6.2" ry="2.3" fill="#d0dac8" opacity=".75" transform="rotate(-15.4 668.6 1445.1)"/>
<ellipse cx="737.6" cy="1346.3" rx="5.2" ry="2.1" fill="#d0dac8" opacity=".75" transform="rotate(7.8 737.6 1346.3)"/>
<ellipse cx="829.2" cy="1406.3" rx="4.9" ry="1.7" fill="#d0dac8" opacity=".75" transform="rotate(-18.3 829.2 1406.3)"/>
<ellipse cx="786.7" cy="1592.8" rx="4.9" ry="2" fill="#d0dac8" opacity=".75" transform="rotate(-30.4 786.7 1592.8)"/>
<ellipse cx="708.7" cy="1600.1" rx="3.5" ry="2.7" fill="#d0dac8" opacity=".75" transform="rotate(-38.9 708.7 1600.1)"/>
<ellipse cx="592.1" cy="1431.8" rx="5.5" ry="1.7" fill="#d0dac8" opacity=".75" transform="rotate(-3.5 592.1 1431.8)"/>
<ellipse cx="613.3" cy="1448.9" rx="5.1" ry="1.7" fill="#d0dac8" opacity=".75" transform="rotate(-29.8 613.3 1448.9)"/>
<ellipse cx="714" cy="1515.4" rx="5.1" ry="2.8" fill="#d0dac8" opacity=".75" transform="rotate(-9.4 714 1515.4)"/>
<ellipse cx="802.9" cy="1395.5" rx="6" ry="2.7" fill="#d0dac8" opacity=".75" transform="rotate(5.1 802.9 1395.5)"/>
<ellipse cx="589.6" cy="1419.8" rx="6.7" ry="1.8" fill="#d0dac8" opacity=".75" transform="rotate(9.9 589.6 1419.8)"/>
<ellipse cx="815.1" cy="1366.4" rx="4" ry="2.6" fill="#d0dac8" opacity=".75" transform="rotate(-27 815.1 1366.4)"/>
<ellipse cx="776.6" cy="1364" rx="4.6" ry="2.5" fill="#d0dac8" opacity=".75" transform="rotate(-39.1 776.6 1364)"/>
<ellipse cx="544.3" cy="1528.4" rx="6.9" ry="1.7" fill="#d0dac8" opacity=".75" transform="rotate(-14.7 544.3 1528.4)"/>
<ellipse cx="764" cy="1475.3" rx="5.7" ry="1.8" fill="#d0dac8" opacity=".75" transform="rotate(-36.5 764 1475.3)"/>
<ellipse cx="668.1" cy="1494.8" rx="3.6" ry="1.8" fill="#d0dac8" opacity=".75" transform="rotate(-29.8 668.1 1494.8)"/>
<ellipse cx="796.4" cy="1619.3" rx="6.7" ry="1.6" fill="#d0dac8" opacity=".75" transform="rotate(-36.9 796.4 1619.3)"/>
<ellipse cx="840.3" cy="1463.3" rx="6.1" ry="2" fill="#d0dac8" opacity=".75" transform="rotate(-16.7 840.3 1463.3)"/>
<ellipse cx="668.3" cy="1453.8" rx="5.4" ry="1.5" fill="#d0dac8" opacity=".75" transform="rotate(-4.9 668.3 1453.8)"/>
<ellipse cx="798" cy="1380.3" rx="4.8" ry="2.6" fill="#d0dac8" opacity=".75" transform="rotate(-19.7 798 1380.3)"/>
<ellipse cx="471.2" cy="1590.6" rx="5.8" ry="2.8" fill="#d0dac8" opacity=".75" transform="rotate(-8.5 471.2 1590.6)"/>
<ellipse cx="624.6" cy="1503.9" rx="5" ry="3" fill="#d0dac8" opacity=".75" transform="rotate(0.2 624.6 1503.9)"/>
<ellipse cx="566.9" cy="1596" rx="6" ry="2.7" fill="#d0dac8" opacity=".75" transform="rotate(0.7 566.9 1596)"/>
<ellipse cx="625" cy="1591.6" rx="6.5" ry="2.5" fill="#d0dac8" opacity=".75" transform="rotate(-1.6 625 1591.6)"/>
<ellipse cx="766.8" cy="1446.7" rx="5.9" ry="1.6" fill="#d0dac8" opacity=".75" transform="rotate(-22.9 766.8 1446.7)"/>
<ellipse cx="650" cy="1329.9" rx="4.4" ry="2.5" fill="#d0dac8" opacity=".75" transform="rotate(-8.8 650 1329.9)"/>
<ellipse cx="598.3" cy="1521.7" rx="5.3" ry="2.3" fill="#d0dac8" opacity=".75" transform="rotate(-20.5 598.3 1521.7)"/>
<ellipse cx="859.4" cy="1516.5" rx="5.8" ry="2.6" fill="#d0dac8" opacity=".75" transform="rotate(9 859.4 1516.5)"/>
<ellipse cx="474.1" cy="1508.6" rx="4" ry="2.1" fill="#d0dac8" opacity=".75" transform="rotate(-37.5 474.1 1508.6)"/>
<ellipse cx="564" cy="1594.3" rx="5.2" ry="2.3" fill="#d0dac8" opacity=".75" transform="rotate(8.4 564 1594.3)"/>
<ellipse cx="689.1" cy="1620.8" rx="5.6" ry="2.7" fill="#d0dac8" opacity=".75" transform="rotate(-36.2 689.1 1620.8)"/>
<ellipse cx="700.7" cy="1551.1" rx="3.2" ry="2.9" fill="#d0dac8" opacity=".75" transform="rotate(-32 700.7 1551.1)"/>
<ellipse cx="651.1" cy="1376.8" rx="5" ry="2.4" fill="#d0dac8" opacity=".75" transform="rotate(-37.1 651.1 1376.8)"/>
<ellipse cx="837.8" cy="1451.1" rx="5.1" ry="2.4" fill="#d0dac8" opacity=".75" transform="rotate(-21.7 837.8 1451.1)"/>
<ellipse cx="577.8" cy="1520.3" rx="5.2" ry="1.9" fill="#d0dac8" opacity=".75" transform="rotate(-4.2 577.8 1520.3)"/>
<ellipse cx="581.8" cy="1330.9" rx="4" ry="1.6" fill="#d0dac8" opacity=".75" transform="rotate(-32.2 581.8 1330.9)"/>
<ellipse cx="762.7" cy="1442" rx="6.6" ry="2.6" fill="#d0dac8" opacity=".75" transform="rotate(-37.5 762.7 1442)"/>
<ellipse cx="855" cy="1605.8" rx="3.3" ry="2.9" fill="#d0dac8" opacity=".75" transform="rotate(-18.5 855 1605.8)"/>
<ellipse cx="653.4" cy="1614.3" rx="4" ry="2.3" fill="#d0dac8" opacity=".75" transform="rotate(6.9 653.4 1614.3)"/>
<ellipse cx="750.1" cy="1465.2" rx="6.9" ry="2.7" fill="#d0dac8" opacity=".75" transform="rotate(-9.8 750.1 1465.2)"/>
<ellipse cx="644.7" cy="1404.2" rx="5.3" ry="2.1" fill="#d0dac8" opacity=".75" transform="rotate(-1.1 644.7 1404.2)"/>
<ellipse cx="674.4" cy="1621.5" rx="6.8" ry="2.6" fill="#d0dac8" opacity=".75" transform="rotate(-28.1 674.4 1621.5)"/>
<ellipse cx="510" cy="1590.5" rx="5.5" ry="2" fill="#d0dac8" opacity=".75" transform="rotate(-26.4 510 1590.5)"/>
<ellipse cx="735.2" cy="1493.7" rx="5.4" ry="2.4" fill="#d0dac8" opacity=".75" transform="rotate(-2.3 735.2 1493.7)"/>
<ellipse cx="539.9" cy="1400.3" rx="6.7" ry="2.8" fill="#d0dac8" opacity=".75" transform="rotate(-38 539.9 1400.3)"/>
<ellipse cx="710.9" cy="1357.1" rx="5.2" ry="1.6" fill="#d0dac8" opacity=".75" transform="rotate(-35.7 710.9 1357.1)"/>
<ellipse cx="731.8" cy="1489.5" rx="5.5" ry="2.1" fill="#d0dac8" opacity=".75" transform="rotate(-16.1 731.8 1489.5)"/>
<ellipse cx="548.2" cy="1428.3" rx="6.4" ry="1.6" fill="#d0dac8" opacity=".75" transform="rotate(-34 548.2 1428.3)"/>
<ellipse cx="784.2" cy="1511.1" rx="6.1" ry="1.8" fill="#d0dac8" opacity=".75" transform="rotate(-18.8 784.2 1511.1)"/>
<ellipse cx="566.9" cy="1566" rx="4.5" ry="2.5" fill="#d0dac8" opacity=".75" transform="rotate(9.5 566.9 1566)"/>
<ellipse cx="593.4" cy="1488.9" rx="6" ry="2.9" fill="#d0dac8" opacity=".75" transform="rotate(-18.6 593.4 1488.9)"/>
<ellipse cx="610.7" cy="1355.5" rx="6.5" ry="1.6" fill="#d0dac8" opacity=".75" transform="rotate(-35.8 610.7 1355.5)"/>
<ellipse cx="687.6" cy="1470" rx="5.7" ry="1.9" fill="#d0dac8" opacity=".75" transform="rotate(-1.2 687.6 1470)"/>
<ellipse cx="497.3" cy="1416.5" rx="5.8" ry="1.9" fill="#d0dac8" opacity=".75" transform="rotate(-32.9 497.3 1416.5)"/>
<ellipse cx="606.2" cy="1541.3" rx="4.5" ry="1.7" fill="#d0dac8" opacity=".75" transform="rotate(-4.5 606.2 1541.3)"/>
<ellipse cx="689.6" cy="1598.1" rx="6.8" ry="2.9" fill="#d0dac8" opacity=".75" transform="rotate(-18.1 689.6 1598.1)"/>
<ellipse cx="781.7" cy="1416.8" rx="4.3" ry="2.1" fill="#d0dac8" opacity=".75" transform="rotate(6.7 781.7 1416.8)"/>
<ellipse cx="817.9" cy="1400.1" rx="4.4" ry="2" fill="#d0dac8" opacity=".75" transform="rotate(-21.8 817.9 1400.1)"/>
<ellipse cx="621.1" cy="1441.3" rx="3.8" ry="2.3" fill="#d0dac8" opacity=".75" transform="rotate(-0.1 621.1 1441.3)"/>
<ellipse cx="678.2" cy="1573.9" rx="5.3" ry="1.8" fill="#d0dac8" opacity=".75" transform="rotate(-2.1 678.2 1573.9)"/>
<ellipse cx="812.4" cy="1409.9" rx="3.1" ry="2.3" fill="#d0dac8" opacity=".75" transform="rotate(-12.8 812.4 1409.9)"/>
<ellipse cx="688.9" cy="1612.3" rx="5.6" ry="2.7" fill="#d0dac8" opacity=".75" transform="rotate(-36.8 688.9 1612.3)"/>
<ellipse cx="680.7" cy="1559.6" rx="3.3" ry="1.6" fill="#d0dac8" opacity=".75" transform="rotate(-3.1 680.7 1559.6)"/>
<ellipse cx="819.6" cy="1351.8" rx="5.5" ry="1.7" fill="#d0dac8" opacity=".75" transform="rotate(-2.7 819.6 1351.8)"/>
<ellipse cx="721" cy="1399.3" rx="3.9" ry="2.6" fill="#d0dac8" opacity=".75" transform="rotate(-13.9 721 1399.3)"/>
<ellipse cx="766.6" cy="1443.3" rx="4.4" ry="3" fill="#d0dac8" opacity=".75" transform="rotate(-6.4 766.6 1443.3)"/>
<ellipse cx="659.8" cy="1485.5" rx="5.9" ry="2.6" fill="#d0dac8" opacity=".75" transform="rotate(5.7 659.8 1485.5)"/>
<ellipse cx="627" cy="1570.9" rx="5.7" ry="2.8" fill="#d0dac8" opacity=".75" transform="rotate(0.3 627 1570.9)"/>
<ellipse cx="793.9" cy="1589.3" rx="6.8" ry="2.5" fill="#d0dac8" opacity=".75" transform="rotate(-13.8 793.9 1589.3)"/>
<ellipse cx="745.1" cy="1563.8" rx="4.7" ry="2.1" fill="#d0dac8" opacity=".75" transform="rotate(-32.7 745.1 1563.8)"/>
<ellipse cx="757.4" cy="1619.5" rx="4.5" ry="1.8" fill="#d0dac8" opacity=".75" transform="rotate(-29.8 757.4 1619.5)"/>
<ellipse cx="632.7" cy="1413.1" rx="6.9" ry="1.6" fill="#d0dac8" opacity=".75" transform="rotate(-24.6 632.7 1413.1)"/>
<ellipse cx="510.4" cy="1518.2" rx="3.7" ry="1.6" fill="#d0dac8" opacity=".75" transform="rotate(-17.1 510.4 1518.2)"/>
<ellipse cx="695.4" cy="1595.4" rx="3.1" ry="1.7" fill="#d0dac8" opacity=".75" transform="rotate(-30.8 695.4 1595.4)"/>
<ellipse cx="550.8" cy="1396.3" rx="5.4" ry="1.8" fill="#d0dac8" opacity=".75" transform="rotate(-30.8 550.8 1396.3)"/>
<ellipse cx="575.9" cy="1377.8" rx="6" ry="2" fill="#d0dac8" opacity=".75" transform="rotate(-12.6 575.9 1377.8)"/>
<ellipse cx="787.3" cy="1468.4" rx="4" ry="2.8" fill="#d0dac8" opacity=".75" transform="rotate(5.7 787.3 1468.4)"/>
<ellipse cx="600" cy="1488.5" rx="6.8" ry="2.2" fill="#d0dac8" opacity=".75" transform="rotate(-28.9 600 1488.5)"/>
<ellipse cx="484.7" cy="1606.7" rx="4.5" ry="2.3" fill="#d0dac8" opacity=".75" transform="rotate(-14.2 484.7 1606.7)"/>
<ellipse cx="573.4" cy="1619.3" rx="5.6" ry="1.9" fill="#d0dac8" opacity=".75" transform="rotate(-39.5 573.4 1619.3)"/>
<ellipse cx="651.5" cy="1436.6" rx="6.2" ry="2.6" fill="#d0dac8" opacity=".75" transform="rotate(-9.7 651.5 1436.6)"/>
<ellipse cx="567.4" cy="1583.6" rx="5.1" ry="2.5" fill="#d0dac8" opacity=".75" transform="rotate(9.7 567.4 1583.6)"/>
<ellipse cx="570.2" cy="1484.7" rx="3.6" ry="2.7" fill="#d0dac8" opacity=".75" transform="rotate(-39.9 570.2 1484.7)"/>
<ellipse cx="789" cy="1576.8" rx="6.3" ry="1.6" fill="#d0dac8" opacity=".75" transform="rotate(-26.5 789 1576.8)"/>
<ellipse cx="747.6" cy="1355.5" rx="4.9" ry="2.2" fill="#d0dac8" opacity=".75" transform="rotate(7.8 747.6 1355.5)"/>
<ellipse cx="696.4" cy="1580.1" rx="4.2" ry="2.7" fill="#d0dac8" opacity=".75" transform="rotate(-19.2 696.4 1580.1)"/>
<ellipse cx="826.6" cy="1353.7" rx="6.3" ry="1.8" fill="#d0dac8" opacity=".75" transform="rotate(-12.8 826.6 1353.7)"/>
<ellipse cx="672.4" cy="1373.3" rx="6.3" ry="2" fill="#d0dac8" opacity=".75" transform="rotate(-24.5 672.4 1373.3)"/>
<ellipse cx="747.1" cy="1433.1" rx="5.7" ry="1.7" fill="#d0dac8" opacity=".75" transform="rotate(-20.3 747.1 1433.1)"/>
<ellipse cx="647.2" cy="1612.4" rx="6.3" ry="2.5" fill="#d0dac8" opacity=".75" transform="rotate(-39.4 647.2 1612.4)"/>
<ellipse cx="613.8" cy="1536.5" rx="3.9" ry="2.3" fill="#d0dac8" opacity=".75" transform="rotate(-17.1 613.8 1536.5)"/>
<ellipse cx="469.2" cy="1619.7" rx="3.8" ry="2.4" fill="#d0dac8" opacity=".75" transform="rotate(-25.5 469.2 1619.7)"/>
<ellipse cx="613.4" cy="1486.2" rx="4.2" ry="2" fill="#d0dac8" opacity=".75" transform="rotate(-20.4 613.4 1486.2)"/>
<ellipse cx="728" cy="1402.6" rx="3.8" ry="2.6" fill="#d0dac8" opacity=".75" transform="rotate(-23.5 728 1402.6)"/>
<ellipse cx="837.7" cy="1493.1" rx="5.9" ry="2" fill="#d0dac8" opacity=".75" transform="rotate(1.3 837.7 1493.1)"/>
<ellipse cx="732.3" cy="1536" rx="3.7" ry="2.1" fill="#d0dac8" opacity=".75" transform="rotate(1.8 732.3 1536)"/>
<ellipse cx="698.8" cy="1353.4" rx="3.9" ry="1.7" fill="#d0dac8" opacity=".75" transform="rotate(-33.8 698.8 1353.4)"/>
<ellipse cx="625.5" cy="1348.3" rx="6.7" ry="2.1" fill="#d0dac8" opacity=".75" transform="rotate(-14.4 625.5 1348.3)"/>
<ellipse cx="720.3" cy="1553.3" rx="6.3" ry="2.1" fill="#d0dac8" opacity=".75" transform="rotate(-23.4 720.3 1553.3)"/>
<ellipse cx="627.6" cy="1331.4" rx="4.6" ry="2.5" fill="#d0dac8" opacity=".75" transform="rotate(9.1 627.6 1331.4)"/>
<ellipse cx="776.5" cy="1521.8" rx="5.4" ry="1.5" fill="#d0dac8" opacity=".75" transform="rotate(-23.4 776.5 1521.8)"/>
<ellipse cx="600" cy="1519" rx="3.4" ry="2.1" fill="#d0dac8" opacity=".75" transform="rotate(-14.5 600 1519)"/>
<ellipse cx="776" cy="1570.6" rx="5.4" ry="1.7" fill="#d0dac8" opacity=".75" transform="rotate(-1.7 776 1570.6)"/>
<ellipse cx="821.2" cy="1488.8" rx="4.4" ry="2.3" fill="#d0dac8" opacity=".75" transform="rotate(-32.9 821.2 1488.8)"/>
<ellipse cx="746.4" cy="1618.3" rx="5.1" ry="2.6" fill="#d0dac8" opacity=".75" transform="rotate(1.8 746.4 1618.3)"/>
<ellipse cx="692.4" cy="1532.7" rx="4.3" ry="2.9" fill="#d0dac8" opacity=".75" transform="rotate(-21.9 692.4 1532.7)"/>
<ellipse cx="647.7" cy="1363.4" rx="6.9" ry="1.7" fill="#d0dac8" opacity=".75" transform="rotate(5.2 647.7 1363.4)"/>
<ellipse cx="679.4" cy="1492.4" rx="5.2" ry="1.9" fill="#d0dac8" opacity=".75" transform="rotate(5.5 679.4 1492.4)"/>
<ellipse cx="856.3" cy="1568.3" rx="5.4" ry="1.7" fill="#d0dac8" opacity=".75" transform="rotate(1.2 856.3 1568.3)"/>
<ellipse cx="578.9" cy="1591.8" rx="4" ry="2.4" fill="#d0dac8" opacity=".75" transform="rotate(1.5 578.9 1591.8)"/>
<ellipse cx="477.7" cy="1380" rx="6.8" ry="2.5" fill="#d0dac8" opacity=".75" transform="rotate(-24.6 477.7 1380)"/>
<ellipse cx="729.8" cy="1544.7" rx="4.5" ry="2.4" fill="#d0dac8" opacity=".75" transform="rotate(0.2 729.8 1544.7)"/>
<ellipse cx="689.1" cy="1424.9" rx="5.6" ry="1.6" fill="#d0dac8" opacity=".75" transform="rotate(-6.5 689.1 1424.9)"/>
<ellipse cx="650.4" cy="1448.3" rx="5.5" ry="2.5" fill="#d0dac8" opacity=".75" transform="rotate(-2.1 650.4 1448.3)"/>
<ellipse cx="761.5" cy="1470.3" rx="7" ry="2.8" fill="#d0dac8" opacity=".75" transform="rotate(2.8 761.5 1470.3)"/>
<ellipse cx="626.4" cy="1455" rx="5.3" ry="2.9" fill="#d0dac8" opacity=".75" transform="rotate(-13.7 626.4 1455)"/>
<ellipse cx="672.1" cy="1454.5" rx="6.6" ry="2" fill="#d0dac8" opacity=".75" transform="rotate(-37.3 672.1 1454.5)"/>
<ellipse cx="751.2" cy="1592.7" rx="5.9" ry="2.4" fill="#d0dac8" opacity=".75" transform="rotate(-2.4 751.2 1592.7)"/>
<ellipse cx="585.3" cy="1502.1" rx="3.3" ry="1.7" fill="#d0dac8" opacity=".75" transform="rotate(-17.7 585.3 1502.1)"/>
<ellipse cx="663.3" cy="1444" rx="3.2" ry="2.5" fill="#d0dac8" opacity=".75" transform="rotate(-13.7 663.3 1444)"/>
<ellipse cx="558.1" cy="1347" rx="6.9" ry="2.5" fill="#d0dac8" opacity=".75" transform="rotate(3.3 558.1 1347)"/>
<circle cx="631.3" cy="1564.7" r="1.6" fill="#e38c6e" opacity="0.8"/>
<circle cx="688.6" cy="1593.7" r="1.4" fill="#e38c6e" opacity="0.8"/>
<circle cx="513.9" cy="1485.6" r="2.9" fill="#e38c6e" opacity="0.4"/>
<circle cx="561.3" cy="1415.2" r="1.8" fill="#e38c6e" opacity="0.4"/>
<circle cx="818" cy="1567.7" r="1.9" fill="#e38c6e" opacity="0.6"/>
<circle cx="696" cy="1340.4" r="1.3" fill="#e38c6e" opacity="0.8"/>
<circle cx="586.5" cy="1474" r="2.9" fill="#e38c6e" opacity="0.9"/>
<circle cx="651.5" cy="1387.8" r="1.7" fill="#e38c6e" opacity="0.9"/>
<circle cx="818.7" cy="1384.6" r="2.7" fill="#e38c6e" opacity="0.6"/>
<circle cx="651.4" cy="1377.6" r="2.8" fill="#e38c6e" opacity="0.9"/>
<circle cx="544.8" cy="1513.6" r="1.5" fill="#e38c6e" opacity="0.8"/>
<circle cx="484.8" cy="1358.1" r="2.5" fill="#e38c6e" opacity="0.6"/>
<circle cx="820.1" cy="1583.7" r="2.5" fill="#e38c6e" opacity="0.5"/>
<circle cx="739.5" cy="1603.8" r="2" fill="#e38c6e" opacity="0.4"/>
<circle cx="553.1" cy="1417.5" r="2.5" fill="#e38c6e" opacity="0.5"/>
<circle cx="536.5" cy="1396.4" r="2.4" fill="#e38c6e" opacity="0.8"/>
<circle cx="612" cy="1522.4" r="2.8" fill="#e38c6e" opacity="0.7"/>
<circle cx="555.4" cy="1415.7" r="2.9" fill="#e38c6e" opacity="0.7"/>
<circle cx="574.3" cy="1515.8" r="1.4" fill="#e38c6e" opacity="0.9"/>
<circle cx="638.7" cy="1482.9" r="2.2" fill="#e38c6e" opacity="0.4"/>
<circle cx="701.6" cy="1410.9" r="1.7" fill="#e38c6e" opacity="0.8"/>
<circle cx="499.5" cy="1411" r="2.6" fill="#e38c6e" opacity="0.5"/>
<circle cx="575.1" cy="1488.7" r="1.5" fill="#e38c6e" opacity="0.8"/>
<circle cx="854.6" cy="1336.7" r="2" fill="#e38c6e" opacity="0.8"/>
<circle cx="616.8" cy="1601.3" r="2.1" fill="#e38c6e" opacity="0.5"/>
<circle cx="684.3" cy="1517.3" r="1.8" fill="#e38c6e" opacity="0.7"/>
<circle cx="773.8" cy="1479.4" r="2.1" fill="#e38c6e" opacity="0.8"/>
<circle cx="734.9" cy="1480.6" r="2.9" fill="#e38c6e" opacity="0.5"/>
<circle cx="772.5" cy="1375.6" r="2.3" fill="#e38c6e" opacity="0.5"/>
<circle cx="638.8" cy="1555.2" r="2.6" fill="#e38c6e" opacity="0.8"/>
<circle cx="558.1" cy="1471.3" r="1.6" fill="#e38c6e" opacity="0.7"/>
<circle cx="661.8" cy="1337.2" r="2.3" fill="#e38c6e" opacity="0.8"/>
<circle cx="690.9" cy="1584.6" r="1.5" fill="#e38c6e" opacity="0.5"/>
<circle cx="472.1" cy="1473.3" r="2" fill="#e38c6e" opacity="0.6"/>
<circle cx="568.8" cy="1562.7" r="1.3" fill="#e38c6e" opacity="0.9"/>
<circle cx="689.4" cy="1487.3" r="2.6" fill="#e38c6e" opacity="0.5"/>
<circle cx="522.8" cy="1418.7" r="1.3" fill="#e38c6e" opacity="0.6"/>
<circle cx="710" cy="1482" r="1.7" fill="#e38c6e" opacity="0.7"/>
<circle cx="500" cy="1569.2" r="1.5" fill="#e38c6e" opacity="0.5"/>
<circle cx="528.1" cy="1530.8" r="2.7" fill="#e38c6e" opacity="0.8"/>
<circle cx="489.2" cy="1448.1" r="1.9" fill="#e38c6e" opacity="0.5"/>
<circle cx="847.8" cy="1339.2" r="2.1" fill="#e38c6e" opacity="0.8"/>
<circle cx="854" cy="1369.5" r="2" fill="#e38c6e" opacity="0.8"/>
<circle cx="480.6" cy="1397.9" r="2.8" fill="#e38c6e" opacity="0.5"/>
<circle cx="620" cy="1414.8" r="2" fill="#e38c6e" opacity="0.4"/>
<circle cx="478.6" cy="1621.1" r="2.6" fill="#e38c6e" opacity="0.8"/>
<circle cx="555.7" cy="1401.6" r="2.2" fill="#e38c6e" opacity="0.5"/>
<circle cx="647.1" cy="1602.2" r="1.9" fill="#e38c6e" opacity="0.6"/>
<circle cx="852" cy="1507.3" r="1.3" fill="#e38c6e" opacity="0.6"/>
<circle cx="721.3" cy="1344.1" r="1.8" fill="#e38c6e" opacity="0.7"/>
<circle cx="805.9" cy="1501.3" r="2.8" fill="#e38c6e" opacity="0.6"/>
<circle cx="620" cy="1575.8" r="1.9" fill="#e38c6e" opacity="0.8"/>
<circle cx="550" cy="1429.4" r="1.5" fill="#e38c6e" opacity="0.7"/>
<circle cx="529.7" cy="1387" r="1.6" fill="#e38c6e" opacity="0.6"/>
<circle cx="586.8" cy="1458.9" r="3" fill="#e38c6e" opacity="0.7"/>
<circle cx="805.3" cy="1387.2" r="1.9" fill="#e38c6e" opacity="0.4"/>
<circle cx="737.7" cy="1434" r="1.7" fill="#e38c6e" opacity="0.4"/>
<circle cx="536.9" cy="1404.3" r="1.9" fill="#e38c6e" opacity="0.9"/>
<circle cx="747.1" cy="1406.2" r="1.8" fill="#e38c6e" opacity="0.5"/>
<circle cx="834.4" cy="1433.1" r="2.6" fill="#e38c6e" opacity="0.8"/>
<circle cx="822.8" cy="1332.8" r="1.8" fill="#e38c6e" opacity="0.6"/>
<circle cx="497.9" cy="1587.5" r="1.8" fill="#e38c6e" opacity="0.8"/>
<circle cx="669.9" cy="1343" r="1.9" fill="#e38c6e" opacity="0.5"/>
<circle cx="481.2" cy="1371.4" r="2.3" fill="#e38c6e" opacity="0.4"/>
<circle cx="588.2" cy="1452.1" r="2.2" fill="#e38c6e" opacity="0.5"/>
<circle cx="743.7" cy="1403.7" r="2.5" fill="#e38c6e" opacity="0.7"/>
<circle cx="523.1" cy="1387.3" r="1.7" fill="#e38c6e" opacity="0.8"/>
<circle cx="624.9" cy="1441" r="2.8" fill="#e38c6e" opacity="0.5"/>
<circle cx="580.3" cy="1428.7" r="1.6" fill="#e38c6e" opacity="0.4"/>
<circle cx="474.8" cy="1513" r="2.2" fill="#e38c6e" opacity="0.8"/>
<circle cx="849.8" cy="1414.9" r="2.4" fill="#e38c6e" opacity="0.9"/>
<circle cx="550.3" cy="1530.4" r="2.4" fill="#e38c6e" opacity="0.9"/>
<circle cx="807.5" cy="1396.1" r="2.3" fill="#e38c6e" opacity="0.4"/>
<circle cx="633.7" cy="1442.7" r="1.3" fill="#e38c6e" opacity="0.6"/>
<circle cx="594.5" cy="1473.6" r="1.7" fill="#e38c6e" opacity="0.5"/>
<circle cx="623.8" cy="1467.2" r="1.5" fill="#e38c6e" opacity="0.7"/>
<circle cx="559.7" cy="1354.3" r="1.8" fill="#e38c6e" opacity="0.6"/>
<circle cx="524.6" cy="1498.9" r="2.5" fill="#e38c6e" opacity="0.7"/>
<circle cx="741.2" cy="1333.6" r="1.9" fill="#e38c6e" opacity="0.6"/>
<circle cx="489.9" cy="1446.2" r="1.3" fill="#e38c6e" opacity="0.6"/>
<circle cx="696.1" cy="1465.3" r="1.8" fill="#e38c6e" opacity="0.5"/>
<circle cx="474.4" cy="1429.3" r="2.8" fill="#e38c6e" opacity="0.7"/>
<circle cx="568.4" cy="1524.1" r="1.5" fill="#e38c6e" opacity="0.6"/>
<circle cx="707.7" cy="1608.8" r="1.9" fill="#e38c6e" opacity="0.7"/>
<circle cx="836.7" cy="1554.7" r="2.3" fill="#e38c6e" opacity="0.7"/>
<circle cx="627.1" cy="1449.6" r="1.7" fill="#e38c6e" opacity="0.8"/>
<circle cx="812" cy="1439.6" r="2.8" fill="#e38c6e" opacity="0.4"/>
<circle cx="518.7" cy="1476.6" r="1.8" fill="#e38c6e" opacity="0.6"/>
<circle cx="850.3" cy="1371.1" r="1.5" fill="#e38c6e" opacity="0.5"/>
<circle cx="733.3" cy="1396.1" r="1.2" fill="#e38c6e" opacity="0.7"/>
<circle cx="620.4" cy="1397.5" r="2.1" fill="#e38c6e" opacity="0.7"/>
<circle cx="681.2" cy="1511.2" r="2.2" fill="#e38c6e" opacity="0.8"/>
<circle cx="847.1" cy="1425.3" r="1.8" fill="#e38c6e" opacity="0.8"/>
<circle cx="588.7" cy="1538.3" r="2.5" fill="#e38c6e" opacity="0.7"/>
<circle cx="845.2" cy="1570.3" r="1.5" fill="#e38c6e" opacity="0.7"/>
<circle cx="658.6" cy="1493.4" r="1.9" fill="#e38c6e" opacity="0.5"/>
<circle cx="760.4" cy="1484.5" r="1.6" fill="#e38c6e" opacity="0.5"/>
<circle cx="593.2" cy="1379.3" r="2.1" fill="#e38c6e" opacity="0.5"/>
<circle cx="490" cy="1347.1" r="1.4" fill="#e38c6e" opacity="0.8"/>
<circle cx="509.6" cy="1460.2" r="2.6" fill="#e38c6e" opacity="0.6"/>
<circle cx="529.2" cy="1582.7" r="2.8" fill="#e38c6e" opacity="0.4"/>
<circle cx="565.2" cy="1476.7" r="2.6" fill="#e38c6e" opacity="0.6"/>
<circle cx="747.4" cy="1401.2" r="2.5" fill="#e38c6e" opacity="0.6"/>
<circle cx="596.7" cy="1551.1" r="2.7" fill="#e38c6e" opacity="0.8"/>
<circle cx="688.9" cy="1451" r="2.5" fill="#e38c6e" opacity="0.7"/>
<circle cx="792.8" cy="1563.5" r="1.4" fill="#e38c6e" opacity="0.6"/>
<circle cx="729" cy="1395" r="1.5" fill="#e38c6e" opacity="0.4"/>
<circle cx="696" cy="1604.8" r="2.9" fill="#e38c6e" opacity="0.5"/>
<circle cx="736.2" cy="1450.7" r="2.3" fill="#e38c6e" opacity="0.6"/>
<circle cx="833.1" cy="1618.9" r="1.3" fill="#e38c6e" opacity="0.8"/>
<circle cx="511.8" cy="1339.3" r="1.7" fill="#e38c6e" opacity="0.8"/>
<circle cx="856.9" cy="1362.3" r="1.8" fill="#e38c6e" opacity="0.4"/>
<circle cx="679" cy="1469.5" r="1.9" fill="#e38c6e" opacity="0.6"/>
<circle cx="780.7" cy="1574.5" r="1.7" fill="#e38c6e" opacity="0.6"/>
<circle cx="708.7" cy="1552.9" r="3" fill="#e38c6e" opacity="0.6"/>
<circle cx="738.8" cy="1488.1" r="2.6" fill="#e38c6e" opacity="0.5"/>
<circle cx="534.1" cy="1358.4" r="2.9" fill="#e38c6e" opacity="0.5"/>
<circle cx="657.6" cy="1362.4" r="1.8" fill="#e38c6e" opacity="0.4"/>
<circle cx="688.2" cy="1369.2" r="2.3" fill="#e38c6e" opacity="0.5"/>
<circle cx="554.8" cy="1469.2" r="1.9" fill="#e38c6e" opacity="0.5"/>
<circle cx="485.3" cy="1345.8" r="2.8" fill="#e38c6e" opacity="0.6"/>
<circle cx="496" cy="1380.7" r="2.1" fill="#e38c6e" opacity="0.9"/>
<circle cx="544.8" cy="1583" r="2.1" fill="#e38c6e" opacity="0.6"/>
<circle cx="783.3" cy="1443.8" r="1.3" fill="#e38c6e" opacity="0.7"/>
<circle cx="724.1" cy="1510.8" r="1.7" fill="#e38c6e" opacity="0.9"/>
<circle cx="806" cy="1620.5" r="2" fill="#e38c6e" opacity="0.8"/>
<circle cx="751" cy="1378.7" r="1.2" fill="#e38c6e" opacity="0.5"/>
<circle cx="511.9" cy="1348.9" r="1.8" fill="#e38c6e" opacity="0.8"/>
<circle cx="587.3" cy="1478.7" r="1.2" fill="#e38c6e" opacity="0.5"/>
<circle cx="843.3" cy="1330.1" r="2.1" fill="#e38c6e" opacity="0.8"/>
<circle cx="777.5" cy="1544" r="1.9" fill="#e38c6e" opacity="0.8"/>
<circle cx="791.4" cy="1553.6" r="3" fill="#e38c6e" opacity="0.5"/>
<circle cx="839.8" cy="1445.6" r="2.5" fill="#e38c6e" opacity="0.5"/>
<circle cx="823.8" cy="1333.7" r="2.2" fill="#e38c6e" opacity="0.5"/>
<circle cx="618.2" cy="1435.9" r="2.4" fill="#e38c6e" opacity="0.8"/>
<circle cx="608.9" cy="1515.3" r="1.8" fill="#e38c6e" opacity="0.5"/>
<circle cx="822" cy="1421.8" r="1.4" fill="#e38c6e" opacity="0.6"/>
<circle cx="757.5" cy="1389.2" r="2.5" fill="#e38c6e" opacity="0.7"/>
<circle cx="733.3" cy="1379.2" r="1.4" fill="#e38c6e" opacity="0.5"/>
<circle cx="603.2" cy="1454" r="1.2" fill="#e38c6e" opacity="0.7"/>
<circle cx="624.1" cy="1421.8" r="2.2" fill="#e38c6e" opacity="0.9"/>
<circle cx="545.8" cy="1586.9" r="1.8" fill="#e38c6e" opacity="0.8"/>
<circle cx="507.8" cy="1618.5" r="2" fill="#e38c6e" opacity="0.9"/>
<circle cx="551.7" cy="1447.4" r="2.5" fill="#e38c6e" opacity="0.5"/>
<circle cx="572.9" cy="1526.8" r="2.9" fill="#e38c6e" opacity="0.6"/>
<circle cx="537.4" cy="1432.3" r="3" fill="#e38c6e" opacity="0.5"/>
<circle cx="715.4" cy="1438.5" r="2.4" fill="#e38c6e" opacity="0.5"/>
<circle cx="708.1" cy="1589" r="2.7" fill="#e38c6e" opacity="0.7"/>
<circle cx="664.2" cy="1494.5" r="1.4" fill="#e38c6e" opacity="0.8"/>
<circle cx="737.1" cy="1460.7" r="2.4" fill="#e38c6e" opacity="0.6"/>
<circle cx="616.8" cy="1394.7" r="2.3" fill="#e38c6e" opacity="0.7"/>
<circle cx="668.3" cy="1336.3" r="2.3" fill="#e38c6e" opacity="0.6"/>
<circle cx="699.1" cy="1502.4" r="2.9" fill="#e38c6e" opacity="0.5"/>
<circle cx="649.9" cy="1620.1" r="2.5" fill="#e38c6e" opacity="0.6"/>
<circle cx="755.6" cy="1619.1" r="1.9" fill="#e38c6e" opacity="0.8"/>
<circle cx="515.1" cy="1619.3" r="2.1" fill="#e38c6e" opacity="0.5"/>
<circle cx="796.4" cy="1518.6" r="2.9" fill="#e38c6e" opacity="0.8"/>
<circle cx="779.6" cy="1477.9" r="3" fill="#e38c6e" opacity="0.4"/>
<circle cx="808.2" cy="1537" r="1.7" fill="#e38c6e" opacity="0.8"/>
<circle cx="644.1" cy="1485.2" r="2.8" fill="#e38c6e" opacity="0.5"/>
</g><g filter="url(#wob1)">
<circle cx="575.4" cy="1517" r="3.2" fill="#7078bc"/>
<circle cx="638.8" cy="1550.4" r="4.9" fill="#6068b8"/>
<circle cx="780.5" cy="1579.4" r="4.7" fill="#7078bc"/>
<circle cx="848.6" cy="1346.2" r="5.1" fill="#7880c2"/>
<circle cx="535.5" cy="1425.4" r="5" fill="#6a72bc"/>
<circle cx="793.9" cy="1361.5" r="3.4" fill="#5860b2"/>
<circle cx="477.4" cy="1528.2" r="4" fill="#5860b2"/>
<circle cx="493.4" cy="1618.6" r="3.5" fill="#7880c2"/>
<circle cx="810.7" cy="1541.7" r="3.4" fill="#5860b2"/>
<circle cx="614.2" cy="1568" r="4.5" fill="#7880c2"/>
<circle cx="724.7" cy="1388.4" r="3.5" fill="#6a72bc"/>
<circle cx="532.7" cy="1498.3" r="3.1" fill="#7880c2"/>
<circle cx="510.8" cy="1604.8" r="4.3" fill="#7880c2"/>
<circle cx="586.2" cy="1329.2" r="3.2" fill="#6a72bc"/>
<circle cx="755.4" cy="1433.2" r="3.7" fill="#5860b2"/>
<circle cx="544" cy="1347.9" r="3.6" fill="#7880c2"/>
<circle cx="788.5" cy="1447.6" r="4" fill="#7078bc"/>
<circle cx="513.8" cy="1354.9" r="4.1" fill="#5860b2"/>
<circle cx="557.8" cy="1497.9" r="3.6" fill="#7880c2"/>
<circle cx="653.4" cy="1385.5" r="3.9" fill="#6a72bc"/>
<circle cx="641.9" cy="1345.8" r="3.9" fill="#7880c2"/>
<circle cx="695.5" cy="1521.3" r="3.6" fill="#6068b8"/>
<circle cx="730.1" cy="1399.1" r="3.9" fill="#6a72bc"/>
<circle cx="699" cy="1582.7" r="3.9" fill="#7880c2"/>
<circle cx="599.8" cy="1569.2" r="4.9" fill="#7078bc"/>
<circle cx="506.2" cy="1521" r="4" fill="#6a72bc"/>
<circle cx="500" cy="1434.2" r="3.8" fill="#7078bc"/>
<circle cx="729" cy="1428.4" r="5" fill="#6068b8"/>
<circle cx="728.5" cy="1372.8" r="3.2" fill="#6a72bc"/>
<circle cx="648.4" cy="1420.2" r="4.5" fill="#7078bc"/>
<circle cx="489.1" cy="1392.5" r="3" fill="#5860b2"/>
<circle cx="636" cy="1394.7" r="4.2" fill="#6068b8"/>
<circle cx="647.4" cy="1445.3" r="4.4" fill="#6a72bc"/>
<circle cx="669.3" cy="1499.4" r="4.1" fill="#6a72bc"/>
<circle cx="668.4" cy="1355.1" r="4.7" fill="#6068b8"/>
<circle cx="530.9" cy="1518.5" r="4.4" fill="#7880c2"/>
<circle cx="726.7" cy="1613.3" r="4" fill="#6068b8"/>
<circle cx="635.9" cy="1372.8" r="3.8" fill="#7880c2"/>
<circle cx="837.5" cy="1591.4" r="3.1" fill="#7880c2"/>
<circle cx="627.9" cy="1492.5" r="5.1" fill="#6068b8"/>
<circle cx="584" cy="1476.7" r="3.3" fill="#7078bc"/>
<circle cx="558.9" cy="1522.6" r="4.1" fill="#7880c2"/>
<circle cx="581" cy="1556.5" r="3.5" fill="#5860b2"/>
<circle cx="649" cy="1619.2" r="4.3" fill="#6a72bc"/>
<circle cx="685.2" cy="1462.5" r="4.9" fill="#6068b8"/>
<circle cx="784.4" cy="1475.6" r="3.3" fill="#7078bc"/>
<circle cx="672.1" cy="1446.9" r="4.3" fill="#6068b8"/>
<circle cx="628.1" cy="1330" r="3.3" fill="#6068b8"/>
<circle cx="754.7" cy="1537.3" r="3.3" fill="#7078bc"/>
<circle cx="709" cy="1446.4" r="4.1" fill="#7078bc"/>
<circle cx="718.7" cy="1577.2" r="3.1" fill="#5860b2"/>
<circle cx="583.2" cy="1390.2" r="4.2" fill="#5860b2"/>
<circle cx="594.7" cy="1471.2" r="4.4" fill="#7078bc"/>
<circle cx="838.3" cy="1494.6" r="4.1" fill="#6068b8"/>
<circle cx="620.6" cy="1415.2" r="4.6" fill="#7880c2"/>
<circle cx="777.3" cy="1440.4" r="4.4" fill="#7880c2"/>
<circle cx="794.6" cy="1345" r="4.2" fill="#7078bc"/>
<circle cx="731.3" cy="1537.5" r="3.1" fill="#7880c2"/>
<circle cx="760.6" cy="1470.8" r="3" fill="#5860b2"/>
<circle cx="699" cy="1357.8" r="4.5" fill="#7880c2"/>
<circle cx="843.9" cy="1434.8" r="4.3" fill="#7880c2"/>
<circle cx="796.3" cy="1388.8" r="4.7" fill="#6068b8"/>
<circle cx="668.6" cy="1549.5" r="3.1" fill="#6068b8"/>
<circle cx="783.6" cy="1605.6" r="4.4" fill="#7880c2"/>
<circle cx="733.2" cy="1352" r="5.2" fill="#7880c2"/>
<circle cx="594.5" cy="1420.5" r="4.8" fill="#7880c2"/>
<circle cx="718.3" cy="1343.6" r="4.7" fill="#6068b8"/>
<circle cx="620.9" cy="1351.6" r="3.3" fill="#7880c2"/>
<circle cx="833.5" cy="1549.2" r="4.3" fill="#6068b8"/>
<circle cx="597.4" cy="1511.5" r="5" fill="#6068b8"/>
<circle cx="533.1" cy="1351.5" r="4.5" fill="#6a72bc"/>
<circle cx="614.1" cy="1459" r="4" fill="#6068b8"/>
<circle cx="640.6" cy="1591.9" r="4.6" fill="#6068b8"/>
<circle cx="793" cy="1537.1" r="4.5" fill="#5860b2"/>
<circle cx="587.4" cy="1608.6" r="4.2" fill="#6a72bc"/>
<circle cx="503.3" cy="1422.6" r="3.3" fill="#6068b8"/>
<circle cx="526.2" cy="1407.7" r="3.9" fill="#5860b2"/>
<circle cx="832" cy="1386" r="4.5" fill="#5860b2"/>
<circle cx="659.7" cy="1530.5" r="3.9" fill="#5860b2"/>
<circle cx="506.6" cy="1546.1" r="3.4" fill="#7078bc"/>
<circle cx="789.7" cy="1519.2" r="3.8" fill="#7078bc"/>
<circle cx="734.7" cy="1460.6" r="4.3" fill="#5860b2"/>
<circle cx="606.4" cy="1499.3" r="4.1" fill="#5860b2"/>
<circle cx="594.4" cy="1532.8" r="3.5" fill="#7880c2"/>
<circle cx="603.5" cy="1448.2" r="3.1" fill="#6068b8"/>
<circle cx="781.6" cy="1402.1" r="3.5" fill="#6a72bc"/>
<circle cx="635.7" cy="1509.2" r="4.2" fill="#5860b2"/>
<circle cx="823.8" cy="1461.4" r="4.1" fill="#6a72bc"/>
<circle cx="538.5" cy="1509.9" r="4.5" fill="#7078bc"/>
<circle cx="740.5" cy="1494.6" r="4.2" fill="#7880c2"/>
<circle cx="658.1" cy="1458.8" r="5.1" fill="#7880c2"/>
<circle cx="782.8" cy="1355.7" r="4.7" fill="#6a72bc"/>
<circle cx="853.9" cy="1581.2" r="4.6" fill="#7880c2"/>
<circle cx="829.4" cy="1530.4" r="3.8" fill="#7880c2"/>
<circle cx="704.9" cy="1572.2" r="5.2" fill="#6068b8"/>
<circle cx="563.4" cy="1332.8" r="4.2" fill="#7880c2"/>
<circle cx="728.4" cy="1411.4" r="4.2" fill="#7880c2"/>
<circle cx="656.3" cy="1407.3" r="3.6" fill="#7880c2"/>
<circle cx="837.1" cy="1371.8" r="3.9" fill="#7078bc"/>
<circle cx="802.1" cy="1506.8" r="4.2" fill="#6a72bc"/>
<circle cx="675.9" cy="1521.8" r="5" fill="#7880c2"/>
<circle cx="585.9" cy="1453" r="4.7" fill="#7078bc"/>
<circle cx="557.1" cy="1460.6" r="3.8" fill="#6a72bc"/>
<circle cx="837.2" cy="1476.2" r="4.2" fill="#7880c2"/>
<circle cx="814.3" cy="1349.1" r="4.2" fill="#7078bc"/>
<circle cx="835.9" cy="1520.9" r="3.2" fill="#6068b8"/>
<circle cx="505.3" cy="1493.8" r="3.3" fill="#7880c2"/>
<circle cx="587.1" cy="1584.4" r="3.1" fill="#6068b8"/>
<circle cx="520.6" cy="1448.9" r="3.3" fill="#7078bc"/>
<circle cx="739" cy="1507.7" r="5" fill="#6068b8"/>
<circle cx="629.6" cy="1470.3" r="3.2" fill="#5860b2"/>
<circle cx="476.7" cy="1604.5" r="5" fill="#6068b8"/>
<circle cx="518.3" cy="1415.5" r="3.7" fill="#7880c2"/>
<circle cx="835.3" cy="1615.1" r="5.1" fill="#6a72bc"/>
<circle cx="803.7" cy="1603" r="3" fill="#5860b2"/>
<circle cx="778.7" cy="1621.2" r="4.3" fill="#7078bc"/>
<circle cx="589.8" cy="1376.9" r="4.7" fill="#6a72bc"/>
<circle cx="843.4" cy="1336.2" r="3.2" fill="#7880c2"/>
<circle cx="477.7" cy="1571.9" r="4.5" fill="#7078bc"/>
<circle cx="798.9" cy="1553.3" r="4.5" fill="#6068b8"/>
<circle cx="465.4" cy="1346.9" r="4.7" fill="#5860b2"/>
<circle cx="471" cy="1554.3" r="3.6" fill="#7078bc"/>
<circle cx="610.9" cy="1540.3" r="4.1" fill="#7880c2"/>
<circle cx="812.8" cy="1378.7" r="3.3" fill="#7880c2"/>
<circle cx="699.9" cy="1496.4" r="4.3" fill="#6068b8"/>
<circle cx="537.9" cy="1395.4" r="3.7" fill="#7880c2"/>
<circle cx="756.6" cy="1387.2" r="3.1" fill="#6a72bc"/>
<circle cx="766.1" cy="1399" r="3.5" fill="#5860b2"/>
<circle cx="684.8" cy="1367.6" r="4.5" fill="#6068b8"/>
<circle cx="824.3" cy="1619.4" r="3.9" fill="#6a72bc"/>
<circle cx="630.4" cy="1524.9" r="3.5" fill="#6a72bc"/>
<circle cx="699" cy="1545.8" r="4" fill="#6068b8"/>
<circle cx="485.6" cy="1336.5" r="5.1" fill="#5860b2"/>
<circle cx="825.7" cy="1369.2" r="3.5" fill="#5860b2"/>
<circle cx="843.8" cy="1602" r="3.8" fill="#6a72bc"/>
<circle cx="521" cy="1537.9" r="5.1" fill="#6a72bc"/>
<circle cx="558.7" cy="1534.1" r="3.5" fill="#5860b2"/>
<circle cx="808.4" cy="1617.3" r="4.6" fill="#6068b8"/>
<circle cx="694.8" cy="1407.7" r="4.1" fill="#7078bc"/>
<circle cx="639.6" cy="1564.2" r="3.6" fill="#6068b8"/>
<circle cx="765" cy="1599.8" r="4.1" fill="#6a72bc"/>
<circle cx="845.7" cy="1515.3" r="3.2" fill="#5860b2"/>
<circle cx="646.4" cy="1505" r="4.9" fill="#5860b2"/>
<circle cx="480.5" cy="1370.3" r="4" fill="#6068b8"/>
<circle cx="679.3" cy="1410" r="3.1" fill="#5860b2"/>
<circle cx="472.8" cy="1391.7" r="4.8" fill="#5860b2"/>
<circle cx="706.5" cy="1345.5" r="3.1" fill="#7880c2"/>
<circle cx="471.1" cy="1416.7" r="3.1" fill="#7880c2"/>
<circle cx="799.4" cy="1492.8" r="4.5" fill="#7880c2"/>
<circle cx="711.1" cy="1420.5" r="3.8" fill="#7078bc"/>
<circle cx="694.2" cy="1450" r="4.2" fill="#5860b2"/>
<circle cx="566.2" cy="1607.3" r="4.1" fill="#7078bc"/>
<circle cx="801.4" cy="1587.3" r="3.4" fill="#7078bc"/>
<circle cx="686.5" cy="1598.4" r="4.7" fill="#7880c2"/>
<circle cx="527.2" cy="1606.7" r="3.6" fill="#6068b8"/>
<circle cx="715" cy="1327.7" r="4.1" fill="#6068b8"/>
<circle cx="661.2" cy="1599.3" r="4.1" fill="#5860b2"/>
<circle cx="735.4" cy="1522.6" r="3.9" fill="#5860b2"/>
<circle cx="575.6" cy="1457.6" r="3.2" fill="#6068b8"/>
<circle cx="557.6" cy="1571.7" r="4.8" fill="#7880c2"/>
<circle cx="488" cy="1348.2" r="4.9" fill="#6a72bc"/>
<circle cx="579.7" cy="1575.3" r="4.1" fill="#7880c2"/>
<circle cx="515.5" cy="1399.7" r="4.6" fill="#7880c2"/>
<circle cx="784.3" cy="1563.5" r="3.4" fill="#5860b2"/>
<circle cx="827.7" cy="1333.6" r="4.1" fill="#7880c2"/>
<circle cx="650.8" cy="1517.1" r="4.5" fill="#5860b2"/>
<circle cx="490.5" cy="1523.9" r="3.2" fill="#7880c2"/>
<circle cx="808.7" cy="1418.6" r="3.4" fill="#7880c2"/>
<circle cx="488.2" cy="1583.1" r="4.7" fill="#6068b8"/>
<circle cx="717.1" cy="1472.1" r="3.8" fill="#7880c2"/>
<circle cx="662.2" cy="1616.1" r="3.5" fill="#7078bc"/>
<circle cx="770.8" cy="1531.9" r="4.1" fill="#7880c2"/>
<circle cx="475.7" cy="1405.6" r="4.7" fill="#6068b8"/>
<circle cx="595.5" cy="1600.7" r="5" fill="#7880c2"/>
<circle cx="584.5" cy="1463.9" r="3.1" fill="#6068b8"/>
<circle cx="657.5" cy="1337.3" r="4.9" fill="#7078bc"/>
<circle cx="484.9" cy="1550.3" r="4.2" fill="#7880c2"/>
<circle cx="560.3" cy="1423.5" r="3.2" fill="#6068b8"/>
<circle cx="843.1" cy="1414.1" r="4.9" fill="#7078bc"/>
<circle cx="628.5" cy="1447" r="3.5" fill="#5860b2"/>
<circle cx="826.5" cy="1350.2" r="3.9" fill="#5860b2"/>
<circle cx="735.4" cy="1552" r="4.2" fill="#7078bc"/>
<circle cx="821" cy="1401" r="4.2" fill="#6068b8"/>
<circle cx="673.2" cy="1382.7" r="4.7" fill="#6068b8"/>
<circle cx="707.7" cy="1381.1" r="5.1" fill="#7078bc"/>
<circle cx="751.7" cy="1421.1" r="4.7" fill="#6068b8"/>
<circle cx="635.6" cy="1358.3" r="4" fill="#7880c2"/>
<circle cx="493.1" cy="1406.4" r="4.5" fill="#5860b2"/>
<circle cx="661.5" cy="1558.6" r="3.5" fill="#6a72bc"/>
<circle cx="515.8" cy="1343" r="4" fill="#6068b8"/>
<circle cx="753.1" cy="1509.7" r="3.5" fill="#6a72bc"/>
<circle cx="801.1" cy="1470.6" r="4.3" fill="#7880c2"/>
<circle cx="597.5" cy="1333.3" r="4.8" fill="#7078bc"/>
<circle cx="478.5" cy="1354.1" r="3.6" fill="#6a72bc"/>
<circle cx="644.6" cy="1466.7" r="4.9" fill="#5860b2"/>
<circle cx="725.1" cy="1527" r="4.1" fill="#5860b2"/>
<circle cx="554.5" cy="1394.4" r="4.3" fill="#7078bc"/>
<circle cx="554.2" cy="1554.4" r="4.2" fill="#7880c2"/>
<circle cx="796.3" cy="1428.6" r="3.9" fill="#6068b8"/>
<circle cx="707" cy="1392.1" r="3.9" fill="#6a72bc"/>
<circle cx="759.8" cy="1454.9" r="4.1" fill="#6068b8"/>
<circle cx="619.4" cy="1501.2" r="4.6" fill="#7880c2"/>
<circle cx="759.5" cy="1497.8" r="3.6" fill="#7078bc"/>
<circle cx="695.6" cy="1566" r="4.1" fill="#6068b8"/>
<circle cx="573.3" cy="1494.3" r="4.2" fill="#5860b2"/>
<circle cx="846.5" cy="1526.5" r="3.2" fill="#6068b8"/>
<circle cx="646.6" cy="1483.3" r="5.2" fill="#7078bc"/>
<circle cx="468.7" cy="1488.1" r="3.4" fill="#7880c2"/>
<circle cx="573" cy="1432.7" r="4.2" fill="#6068b8"/>
<circle cx="624.6" cy="1559.7" r="4.4" fill="#7078bc"/>
<circle cx="563.6" cy="1379.4" r="3.3" fill="#6068b8"/>
<circle cx="540.5" cy="1333" r="3.1" fill="#7078bc"/>
<circle cx="742.5" cy="1533.4" r="3.7" fill="#6a72bc"/>
<circle cx="664.3" cy="1432.9" r="4.2" fill="#7078bc"/>
<circle cx="638.6" cy="1454.2" r="4.8" fill="#7078bc"/>
<circle cx="550.3" cy="1587.5" r="4.9" fill="#6a72bc"/>
<circle cx="823.5" cy="1508.3" r="4.2" fill="#6068b8"/>
<circle cx="605.4" cy="1433.1" r="3.5" fill="#7880c2"/>
<circle cx="533.1" cy="1377.9" r="3.4" fill="#6068b8"/>
<circle cx="618.9" cy="1475.7" r="4" fill="#7078bc"/>
<circle cx="691.9" cy="1621.5" r="4.8" fill="#6a72bc"/>
<circle cx="577.5" cy="1414.3" r="3.9" fill="#6068b8"/>
<circle cx="683.1" cy="1586.9" r="5.2" fill="#6a72bc"/>
<circle cx="848" cy="1487.4" r="4.1" fill="#7880c2"/>
<circle cx="605.8" cy="1608.9" r="4.2" fill="#6068b8"/>
<circle cx="618.7" cy="1515.7" r="3.2" fill="#7078bc"/>
<circle cx="487.2" cy="1536.4" r="3.2" fill="#6a72bc"/>
<circle cx="765.5" cy="1425.4" r="5.1" fill="#7078bc"/>
<circle cx="777" cy="1514.2" r="4.6" fill="#5860b2"/>
<circle cx="782.5" cy="1593" r="4.6" fill="#7880c2"/>
<circle cx="715.5" cy="1508.5" r="5.1" fill="#6068b8"/>
<circle cx="811.7" cy="1520.7" r="3.9" fill="#6a72bc"/>
<circle cx="479" cy="1501.3" r="3.6" fill="#6a72bc"/>
<circle cx="741.3" cy="1616.2" r="4.5" fill="#5860b2"/>
<circle cx="833.8" cy="1421.3" r="3" fill="#5860b2"/>
<circle cx="674.5" cy="1341.2" r="3.1" fill="#7078bc"/>
<circle cx="662.3" cy="1474.4" r="4.7" fill="#7078bc"/>
<circle cx="712.2" cy="1459.3" r="4.1" fill="#6068b8"/>
<circle cx="649.6" cy="1576.1" r="4.4" fill="#6a72bc"/>
<circle cx="810.9" cy="1439.3" r="3.2" fill="#6068b8"/>
<circle cx="519.8" cy="1427.9" r="5.2" fill="#6068b8"/>
<circle cx="536.1" cy="1459.8" r="4" fill="#6068b8"/>
<circle cx="531.6" cy="1485" r="3.8" fill="#6a72bc"/>
<circle cx="503.1" cy="1328.5" r="3.7" fill="#7078bc"/>
<circle cx="833.9" cy="1451.7" r="4.7" fill="#5860b2"/>
<circle cx="858.2" cy="1356.1" r="4.6" fill="#6a72bc"/>
<circle cx="599.9" cy="1401.2" r="4.2" fill="#6068b8"/>
<circle cx="757.1" cy="1582.6" r="3.8" fill="#7078bc"/>
<circle cx="812.3" cy="1589.5" r="3.6" fill="#6a72bc"/>
<circle cx="517" cy="1557.4" r="3.1" fill="#7078bc"/>
</g></g>
<rect x="465.1" y="1326.8" width="394.3" height="295.4" fill="none" stroke="#000" stroke-width="2.6"/>
<line x1="88" y1="1349.7" x2="115" y2="1349.7" stroke="#000" stroke-width="5.8"/>
<text x="68.6" y="1383" font-size="22.8">50 µm</text>
<!-- panel g -->
<text x="940" y="1192.6" font-size="36.5" font-weight="bold">g</text>
<text x="1414" y="1152.6" font-size="25" font-weight="bold" text-anchor="middle">Fatty Acid β-Oxidation in BAT</text>
<line x1="1011.4" y1="1185.2" x2="1826" y2="1185.2" stroke="#000" stroke-width="5.8"/>
<text x="1227.4" y="1237.1" font-size="25" font-weight="bold" text-anchor="middle">ASM</text>
<text x="1686" y="1237.1" font-size="25" font-weight="bold" text-anchor="middle">CO<tspan font-size="16" dy="5.5">2</tspan></text>
<line x1="1126" y1="1327.65" x2="1126" y2="1535.35" stroke="#000" stroke-width="2.9"/>
<line x1="1116.6" y1="1329.1" x2="1126" y2="1329.1" stroke="#000" stroke-width="2.9"/>
<text x="1112.2" y="1336.35" font-size="19.7" font-weight="bold" text-anchor="end">400</text>
<line x1="1116.6" y1="1380.6" x2="1126" y2="1380.6" stroke="#000" stroke-width="2.9"/>
<text x="1112.2" y="1387.85" font-size="19.7" font-weight="bold" text-anchor="end">300</text>
<line x1="1116.6" y1="1431.7" x2="1126" y2="1431.7" stroke="#000" stroke-width="2.9"/>
<text x="1112.2" y="1438.95" font-size="19.7" font-weight="bold" text-anchor="end">200</text>
<line x1="1116.6" y1="1482.9" x2="1126" y2="1482.9" stroke="#000" stroke-width="2.9"/>
<text x="1112.2" y="1490.15" font-size="19.7" font-weight="bold" text-anchor="end">100</text>
<line x1="1116.6" y1="1533.9" x2="1126" y2="1533.9" stroke="#000" stroke-width="2.9"/>
<text x="1112.2" y="1541.15" font-size="19.7" font-weight="bold" text-anchor="end">0</text>
<line x1="1124.5" y1="1533.9" x2="1368.6" y2="1533.9" stroke="#000" stroke-width="3"/>
<text font-size="26.2" text-anchor="middle" transform="translate(1036.2 1431.4) rotate(-90)">[<tspan font-size="16" dy="-9">14</tspan><tspan dy="9">C]-Palmitate</tspan></text>
<text font-size="26.2" text-anchor="middle" transform="translate(1065.7 1431.4) rotate(-90)">(nmol/g tissue/h)</text>
<rect x="1143" y="1451.6" width="80.2" height="82.3" fill="#d3d3d3" stroke="#000" stroke-width="3.6"/>
<rect x="1266.6" y="1406.3" width="79.9" height="127.6" fill="#ff9f9f" stroke="#000" stroke-width="3.6"/>
<line x1="1182.7" y1="1446.2" x2="1182.7" y2="1455.4" stroke="#8a8a8a" stroke-width="3"/>
<line x1="1162.05" y1="1446.2" x2="1203.35" y2="1446.2" stroke="#8a8a8a" stroke-width="3"/>
<line x1="1162.05" y1="1455.4" x2="1203.35" y2="1455.4" stroke="#8a8a8a" stroke-width="3"/>
<circle cx="1170.7" cy="1455.9" r="4" fill="#8a8a8a"/>
<circle cx="1198" cy="1443.8" r="4" fill="#8a8a8a"/>
<circle cx="1198" cy="1453" r="4" fill="#8a8a8a"/>
<circle cx="1184" cy="1450" r="4" fill="#8a8a8a"/>
<line x1="1307" y1="1381" x2="1307" y2="1428.8" stroke="#f0464b" stroke-width="3.4"/>
<line x1="1286.25" y1="1381" x2="1327.75" y2="1381" stroke="#f0464b" stroke-width="3.4"/>
<line x1="1286.25" y1="1428.8" x2="1327.75" y2="1428.8" stroke="#f0464b" stroke-width="3.4"/>
<rect x="1302.8" y="1374.4" width="8.4" height="8.4" fill="#f0464b"/>
<rect x="1302.8" y="1394.5" width="8.4" height="8.4" fill="#f0464b"/>
<rect x="1302.8" y="1402.2" width="8.4" height="8.4" fill="#f0464b"/>
<rect x="1302.8" y="1430.7" width="8.4" height="8.4" fill="#f0464b"/>
<text transform="translate(1248.7 1327.33) scale(1 0.94)" font-size="45" text-anchor="middle" stroke="#000" stroke-width="0.8" letter-spacing="3">**</text>
<line x1="1185.4" y1="1329.1" x2="1307" y2="1329.1" stroke="#000" stroke-width="3.4"/>
<text x="1182.7" y="1566.5" font-size="26.5" text-anchor="middle">Control</text>
<text x="1182.7" y="1597.5" font-size="26.5" text-anchor="middle">ASO</text>
<text x="1182.7" y="1628.5" font-size="26.5" font-style="italic" text-anchor="middle">ob/ob</text>
<text x="1307" y="1566.5" font-size="26.5" font-style="italic" text-anchor="middle">Mat1a</text>
<text x="1307" y="1597.5" font-size="26.5" text-anchor="middle">ASO</text>
<text x="1307" y="1628.5" font-size="26.5" font-style="italic" text-anchor="middle">ob/ob</text>
<line x1="1582.1" y1="1327.25" x2="1582.1" y2="1533.85" stroke="#000" stroke-width="2.9"/>
<line x1="1572.7" y1="1328.7" x2="1582.1" y2="1328.7" stroke="#000" stroke-width="2.9"/>
<text x="1568.3" y="1335.95" font-size="19.7" font-weight="bold" text-anchor="end">40</text>
<line x1="1572.7" y1="1379.8" x2="1582.1" y2="1379.8" stroke="#000" stroke-width="2.9"/>
<text x="1568.3" y="1387.05" font-size="19.7" font-weight="bold" text-anchor="end">30</text>
<line x1="1572.7" y1="1431" x2="1582.1" y2="1431" stroke="#000" stroke-width="2.9"/>
<text x="1568.3" y="1438.25" font-size="19.7" font-weight="bold" text-anchor="end">20</text>
<line x1="1572.7" y1="1481.7" x2="1582.1" y2="1481.7" stroke="#000" stroke-width="2.9"/>
<text x="1568.3" y="1488.95" font-size="19.7" font-weight="bold" text-anchor="end">10</text>
<line x1="1572.7" y1="1532.4" x2="1582.1" y2="1532.4" stroke="#000" stroke-width="2.9"/>
<text x="1568.3" y="1539.65" font-size="19.7" font-weight="bold" text-anchor="end">0</text>
<line x1="1580.6" y1="1532.4" x2="1824.5" y2="1532.4" stroke="#000" stroke-width="3"/>
<text font-size="26.2" text-anchor="middle" transform="translate(1503.5 1431.4) rotate(-90)">[<tspan font-size="16" dy="-9">14</tspan><tspan dy="9">C]-Palmitate</tspan></text>
<text font-size="26.2" text-anchor="middle" transform="translate(1533.6 1431.4) rotate(-90)">(nmol/g tissue/h)</text>
<rect x="1598.7" y="1461.8" width="80.4" height="70.6" fill="#d3d3d3" stroke="#000" stroke-width="3.6"/>
<rect x="1721.8" y="1398.1" width="80.4" height="134.3" fill="#ff9f9f" stroke="#000" stroke-width="3.6"/>
<line x1="1638.6" y1="1443.8" x2="1638.6" y2="1478.3" stroke="#8a8a8a" stroke-width="3.4"/>
<line x1="1617.85" y1="1443.8" x2="1659.35" y2="1443.8" stroke="#8a8a8a" stroke-width="3.4"/>
<line x1="1617.85" y1="1478.3" x2="1659.35" y2="1478.3" stroke="#8a8a8a" stroke-width="3.4"/>
<circle cx="1639.8" cy="1433.7" r="4.4" fill="#8a8a8a"/>
<circle cx="1639.8" cy="1456.6" r="4.4" fill="#8a8a8a"/>
<circle cx="1632.6" cy="1465" r="4.4" fill="#8a8a8a"/>
<circle cx="1646.4" cy="1470.8" r="4.4" fill="#8a8a8a"/>
<circle cx="1632.6" cy="1478.1" r="4.4" fill="#8a8a8a"/>
<line x1="1763" y1="1370.7" x2="1763" y2="1423.8" stroke="#f0464b" stroke-width="3.4"/>
<line x1="1742.35" y1="1370.7" x2="1783.65" y2="1370.7" stroke="#f0464b" stroke-width="3.4"/>
<line x1="1742.35" y1="1423.8" x2="1783.65" y2="1423.8" stroke="#f0464b" stroke-width="3.4"/>
<rect x="1759.2" y="1362.4" width="8.4" height="8.4" fill="#f0464b"/>
<rect x="1759.2" y="1378.1" width="8.4" height="8.4" fill="#f0464b"/>
<rect x="1759.2" y="1408.9" width="8.4" height="8.4" fill="#f0464b"/>
<rect x="1759.2" y="1420.3" width="8.4" height="8.4" fill="#f0464b"/>
<text transform="translate(1703.9 1334.53) scale(1 0.94)" font-size="45" text-anchor="middle" stroke="#000" stroke-width="0.8" letter-spacing="3">**</text>
<line x1="1640.3" y1="1340" x2="1761.8" y2="1340" stroke="#000" stroke-width="3.4"/>
<text x="1639.4" y="1566.5" font-size="26.5" text-anchor="middle">Control</text>
<text x="1639.4" y="1597.5" font-size="26.5" text-anchor="middle">ASO</text>
<text x="1639.4" y="1628.5" font-size="26.5" font-style="italic" text-anchor="middle">ob/ob</text>
<text x="1763.4" y="1566.5" font-size="26.5" font-style="italic" text-anchor="middle">Mat1a</text>
<text x="1763.4" y="1597.5" font-size="26.5" text-anchor="middle">ASO</text>
<text x="1763.4" y="1628.5" font-size="26.5" font-style="italic" text-anchor="middle">ob/ob</text>
<!-- Triglyceride -->
<text x="445.2" y="1686.7" font-size="25" font-weight="bold" text-anchor="middle">Triglyceride</text>
<text transform="translate(461.8 1762.83) scale(1 0.94)" font-size="45" text-anchor="middle" stroke="#000" stroke-width="0.8" letter-spacing="3">***</text>
<line x1="400.9" y1="1761.5" x2="522.6" y2="1761.5" stroke="#000" stroke-width="3.4"/>
<line x1="337.7" y1="1767.55" x2="337.7" y2="1974.45" stroke="#000" stroke-width="2.9"/>
<line x1="332.5" y1="1769" x2="337.7" y2="1769" stroke="#000" stroke-width="2.9"/>
<text x="327.3" y="1776.25" font-size="19.7" font-weight="bold" text-anchor="end">800</text>
<line x1="332.5" y1="1820.2" x2="337.7" y2="1820.2" stroke="#000" stroke-width="2.9"/>
<text x="327.3" y="1827.45" font-size="19.7" font-weight="bold" text-anchor="end">600</text>
<line x1="332.5" y1="1871.4" x2="337.7" y2="1871.4" stroke="#000" stroke-width="2.9"/>
<text x="327.3" y="1878.65" font-size="19.7" font-weight="bold" text-anchor="end">400</text>
<line x1="332.5" y1="1922.3" x2="337.7" y2="1922.3" stroke="#000" stroke-width="2.9"/>
<text x="327.3" y="1929.55" font-size="19.7" font-weight="bold" text-anchor="end">200</text>
<line x1="332.5" y1="1973" x2="337.7" y2="1973" stroke="#000" stroke-width="2.9"/>
<text x="327.3" y="1980.25" font-size="19.7" font-weight="bold" text-anchor="end">0</text>
<line x1="336.2" y1="1973" x2="584.9" y2="1973" stroke="#000" stroke-width="3"/>
<text font-size="26.1" text-anchor="middle" transform="translate(277.6 1871.2) rotate(-90)">nmol/mg of protein</text>
<rect x="359.7" y="1832.1" width="80.2" height="140.9" fill="#d3d3d3" stroke="#000" stroke-width="3.6"/>
<rect x="482.9" y="1922.9" width="80.1" height="50.1" fill="#ff9f9f" stroke="#000" stroke-width="3.6"/>
<line x1="400.2" y1="1799.7" x2="400.2" y2="1862.4" stroke="#8a8a8a" stroke-width="3.4"/>
<line x1="379.55" y1="1799.7" x2="420.85" y2="1799.7" stroke="#8a8a8a" stroke-width="3.4"/>
<line x1="379.55" y1="1862.4" x2="420.85" y2="1862.4" stroke="#8a8a8a" stroke-width="3.4"/>
<circle cx="400.7" cy="1798.5" r="4.2" fill="#8a8a8a"/>
<circle cx="400.7" cy="1808.8" r="4.2" fill="#8a8a8a"/>
<circle cx="400.7" cy="1818.3" r="4.2" fill="#8a8a8a"/>
<circle cx="400.7" cy="1852.3" r="4.2" fill="#8a8a8a"/>
<circle cx="400.7" cy="1874" r="4.2" fill="#8a8a8a"/>
<line x1="523.3" y1="1913.1" x2="523.3" y2="1931.2" stroke="#f0464b" stroke-width="3.4"/>
<line x1="502.8" y1="1913.1" x2="543.8" y2="1913.1" stroke="#f0464b" stroke-width="3.4"/>
<line x1="502.8" y1="1931.2" x2="543.8" y2="1931.2" stroke="#f0464b" stroke-width="3.4"/>
<rect x="506.3" y="1905.3" width="8.4" height="8.4" fill="#f0464b"/>
<rect x="519.1" y="1919.8" width="8.4" height="8.4" fill="#f0464b"/>
<rect x="504.6" y="1925.8" width="8.4" height="8.4" fill="#f0464b"/>
<rect x="533.6" y="1923.4" width="8.4" height="8.4" fill="#f0464b"/>
<rect x="519.1" y="1926.8" width="8.4" height="8.4" fill="#f0464b"/>
<text x="399.7" y="2007.3" font-size="26.5" text-anchor="middle">Control</text>
<text x="399.7" y="2038.3" font-size="26.5" text-anchor="middle">ASO</text>
<text x="399.7" y="2069.3" font-size="26.5" font-style="italic" text-anchor="middle">ob/ob</text>
<text x="523.8" y="2007.3" font-size="26.5" font-style="italic" text-anchor="middle">Mat1a</text>
<text x="523.8" y="2038.3" font-size="26.5" text-anchor="middle">ASO</text>
<text x="523.8" y="2069.3" font-size="26.5" font-style="italic" text-anchor="middle">ob/ob</text>
<!-- panel h -->
<text x="940.5" y="1712" font-size="36.5" font-weight="bold">h</text>
<text x="1421.7" y="1689.2" font-size="25" font-weight="bold" text-anchor="middle">BAT</text>
<line x1="1013.7" y1="1718.8" x2="1828" y2="1718.8" stroke="#000" stroke-width="6"/>
<text x="1202.6" y="1808.4" font-size="26.5" text-anchor="middle">Control</text>
<text x="1202.3" y="1839.7" font-size="26.5" text-anchor="middle">ASO</text>
<text x="1206" y="1871.8" font-size="26.5" text-anchor="middle">ob/ob</text>
<text x="1345.5" y="1808.4" font-size="26.5" font-style="italic" text-anchor="middle">Mat1a</text>
<text x="1349" y="1839.7" font-size="26.5" text-anchor="middle">ASO</text>
<text x="1348.8" y="1871.8" font-size="26.5" text-anchor="middle">ob/ob</text>
<line x1="1142" y1="1898.3" x2="1270.8" y2="1898.3" stroke="#000" stroke-width="3"/>
<line x1="1284.4" y1="1898.3" x2="1413.5" y2="1898.3" stroke="#000" stroke-width="3"/>
<text x="991.5" y="1956.3" font-size="26">UCP1</text>
<text x="976.4" y="2007.6" font-size="26">Tubulin</text>
<text x="1084.4" y="1958.7" font-size="19.5">25</text>
<text x="1080.5" y="2003" font-size="19.5">55</text>
<line x1="1109.4" y1="1950.8" x2="1134.1" y2="1950.8" stroke="#000" stroke-width="3"/>
<line x1="1105.4" y1="1996.1" x2="1129" y2="1996.1" stroke="#000" stroke-width="3"/>
<rect x="1135.9" y="1917" width="283.4" height="48.9" fill="#fff" stroke="#c4b88e" stroke-width="3"/>
<rect x="1135.9" y="1972.9" width="283.4" height="48.9" fill="#e6e6e6" stroke="#c4b88e" stroke-width="3"/>
<g filter="url(#blur4)" opacity="0.05">
<rect x="1146" y="1976" width="34" height="43" fill="#000"/>
<rect x="1192" y="1976" width="32" height="43" fill="#000"/>
<rect x="1284" y="1976" width="36" height="43" fill="#000"/>
<rect x="1376" y="1976" width="34" height="43" fill="#000"/>
</g>
<g filter="url(#blur3)">
<rect x="1145.5" y="1936.25" width="21" height="9.5" rx="4.75" fill="#1a1a1a" opacity="0.9"/>
<rect x="1168.5" y="1936.3" width="9" height="8" rx="4" fill="#1a1a1a" opacity="0.85"/>
<rect x="1150" y="1935.5" width="10" height="5" rx="2.5" fill="#555" opacity="0.5"/>
<rect x="1188" y="1935.8" width="37.5" height="12" rx="5.5" fill="#000" opacity="1"/>
<rect x="1188.5" y="1930.5" width="10.5" height="10" rx="5" fill="#000" opacity="1"/>
<rect x="1213" y="1931" width="12.5" height="10" rx="5" fill="#000" opacity="1"/>
<rect x="1236.5" y="1936" width="34" height="11" rx="5.5" fill="#000" opacity="1"/>
<rect x="1241" y="1934" width="28" height="5" rx="2.5" fill="#222" opacity="0.75"/>
<rect x="1280.5" y="1931.8" width="40.3" height="16" rx="5.5" fill="#000" opacity="1"/>
<rect x="1330" y="1930" width="39.5" height="18" rx="5.5" fill="#000" opacity="1"/>
<rect x="1377.5" y="1934.1" width="33.5" height="13" rx="5.5" fill="#000" opacity="1"/>
<rect x="1334" y="1957" width="34" height="2.6" rx="1.3" fill="#777" opacity="0.5"/>
<rect x="1146.5" y="1994" width="32" height="5" rx="2.5" fill="#000" opacity="1"/>
<rect x="1192" y="1995.8" width="32" height="4.4" rx="2.2" fill="#0a0a0a" opacity="1"/>
<rect x="1240" y="1996.9" width="30" height="2.8" rx="1.4" fill="#444" opacity="0.6"/>
<rect x="1285" y="1995.3" width="33.5" height="5" rx="2.5" fill="#000" opacity="1"/>
<rect x="1332" y="1995.5" width="29" height="3.4" rx="1.7" fill="#1a1a1a" opacity="0.85"/>
<rect x="1377" y="1996.1" width="33.5" height="3" rx="1.5" fill="#333" opacity="0.7"/>
</g>
<text transform="translate(1701.2 1770.53) scale(1 0.94)" font-size="45" text-anchor="middle" stroke="#000" stroke-width="0.8" letter-spacing="3">*</text>
<line x1="1649.8" y1="1773.6" x2="1752.4" y2="1773.6" stroke="#000" stroke-width="3.6"/>
<line x1="1585.1" y1="1760.85" x2="1585.1" y2="1967.45" stroke="#000" stroke-width="2.9"/>
<line x1="1575.7" y1="1762.3" x2="1585.1" y2="1762.3" stroke="#000" stroke-width="2.9"/>
<text x="1571.7" y="1769.55" font-size="19.7" font-weight="bold" text-anchor="end">4</text>
<line x1="1575.7" y1="1813" x2="1585.1" y2="1813" stroke="#000" stroke-width="2.9"/>
<text x="1571.7" y="1820.25" font-size="19.7" font-weight="bold" text-anchor="end">3</text>
<line x1="1575.7" y1="1864.2" x2="1585.1" y2="1864.2" stroke="#000" stroke-width="2.9"/>
<text x="1571.7" y="1871.45" font-size="19.7" font-weight="bold" text-anchor="end">2</text>
<line x1="1575.7" y1="1914.8" x2="1585.1" y2="1914.8" stroke="#000" stroke-width="2.9"/>
<text x="1571.7" y="1922.05" font-size="19.7" font-weight="bold" text-anchor="end">1</text>
<line x1="1575.7" y1="1966" x2="1585.1" y2="1966" stroke="#000" stroke-width="2.9"/>
<text x="1571.7" y="1973.25" font-size="19.7" font-weight="bold" text-anchor="end">0</text>
<line x1="1583.6" y1="1966" x2="1823.7" y2="1966" stroke="#000" stroke-width="3"/>
<text font-size="26.1" text-anchor="middle" transform="translate(1510.3 1862.9) rotate(-90)">Protein Levels</text>
<text font-size="26.1" text-anchor="middle" transform="translate(1541.7 1862.9) rotate(-90)">(fold change)</text>
<rect x="1622.2" y="1886.7" width="61.4" height="79.3" fill="#d3d3d3" stroke="#000" stroke-width="4"/>
<rect x="1722.3" y="1855.3" width="61.9" height="110.7" fill="#ff9f9f" stroke="#000" stroke-width="4"/>
<line x1="1652.3" y1="1850.4" x2="1652.3" y2="1920.9" stroke="#8a8a8a" stroke-width="1.5"/>
<line x1="1635.15" y1="1850.4" x2="1669.45" y2="1850.4" stroke="#8a8a8a" stroke-width="1.5"/>
<line x1="1635.15" y1="1920.9" x2="1669.45" y2="1920.9" stroke="#8a8a8a" stroke-width="1.5"/>
<circle cx="1645.5" cy="1831.1" r="4.2" fill="#8a8a8a"/>
<circle cx="1658.3" cy="1832.3" r="4.2" fill="#8a8a8a"/>
<circle cx="1652.3" cy="1876.7" r="4.2" fill="#8a8a8a"/>
<circle cx="1652.3" cy="1886.6" r="4.2" fill="#8a8a8a"/>
<circle cx="1645.5" cy="1890.7" r="4.2" fill="#8a8a8a"/>
<circle cx="1658.3" cy="1897.5" r="4.2" fill="#8a8a8a"/>
<circle cx="1652.3" cy="1913.6" r="4.2" fill="#8a8a8a"/>
<circle cx="1645.5" cy="1925" r="4.2" fill="#8a8a8a"/>
<circle cx="1658.3" cy="1925.7" r="4.2" fill="#8a8a8a"/>
<line x1="1753.6" y1="1829.6" x2="1753.6" y2="1878.2" stroke="#f0464b" stroke-width="1.7"/>
<line x1="1736.35" y1="1829.6" x2="1770.85" y2="1829.6" stroke="#f0464b" stroke-width="1.7"/>
<line x1="1736.35" y1="1878.2" x2="1770.85" y2="1878.2" stroke="#f0464b" stroke-width="1.7"/>
<rect x="1749.5" y="1800.2" width="8.2" height="8.2" fill="#f0464b"/>
<rect x="1749.5" y="1828.7" width="8.2" height="8.2" fill="#f0464b"/>
<rect x="1749.5" y="1847.5" width="8.2" height="8.2" fill="#f0464b"/>
<rect x="1723.7" y="1855.7" width="8.2" height="8.2" fill="#f0464b"/>
<rect x="1740.4" y="1856.4" width="8.2" height="8.2" fill="#f0464b"/>
<rect x="1757.5" y="1859.3" width="8.2" height="8.2" fill="#f0464b"/>
<rect x="1774.2" y="1854.7" width="8.2" height="8.2" fill="#f0464b"/>
<rect x="1749.5" y="1874.5" width="8.2" height="8.2" fill="#f0464b"/>
<rect x="1749.5" y="1883" width="8.2" height="8.2" fill="#f0464b"/>
<text x="1649.1" y="2000.5" font-size="26.5" text-anchor="middle">Control</text>
<text x="1649.1" y="2031.6" font-size="26.5" text-anchor="middle">ASO</text>
<text x="1652.3" y="2063.3" font-size="26.5" text-anchor="middle">ob/ob</text>
<text x="1749.3" y="2000.5" font-size="26.5" font-style="italic" text-anchor="middle">Mat1a</text>
<text x="1752.4" y="2031.6" font-size="26.5" text-anchor="middle">ASO</text>
<text x="1752.4" y="2063.3" font-size="26.5" text-anchor="middle">ob/ob</text>
<!-- panel i -->
<text x="7.8" y="2148.8" font-size="36.5" font-weight="bold">i</text>
<text x="351.1" y="2144.2" font-size="25" font-weight="bold" text-anchor="middle">Thermogenesis and</text>
<text x="351.2" y="2173.7" font-size="25" font-weight="bold" text-anchor="middle">Fatty Acid β-Oxidation</text>
<circle cx="573.8" cy="2204.1" r="5.85" fill="#808080" stroke="#000" stroke-width="3.5"/>
<text x="668.1" y="2197.8" font-size="26.5" text-anchor="middle">Control ASO</text>
<text x="668.6" y="2229.4" font-size="26.5" font-style="italic" text-anchor="middle">ob/ob</text>
<rect x="774.1" y="2198.7" width="10.8" height="10.8" fill="#f54248" stroke="#000" stroke-width="3.2"/>
<text x="864.5" y="2197.8" font-size="26.5" text-anchor="middle"><tspan font-style="italic">Mat1a</tspan> ASO</text>
<text x="864.1" y="2229.4" font-size="26.5" font-style="italic" text-anchor="middle">ob/ob</text>
<line x1="123.1" y1="2249.45" x2="123.1" y2="2498.35" stroke="#000" stroke-width="3.3"/>
<line x1="113.8" y1="2251.1" x2="123.1" y2="2251.1" stroke="#000" stroke-width="3.3"/>
<text x="109" y="2258.35" font-size="19.7" font-weight="bold" text-anchor="end">8</text>
<line x1="113.8" y1="2312.8" x2="123.1" y2="2312.8" stroke="#000" stroke-width="3.3"/>
<text x="109" y="2320.05" font-size="19.7" font-weight="bold" text-anchor="end">6</text>
<line x1="113.8" y1="2374.2" x2="123.1" y2="2374.2" stroke="#000" stroke-width="3.3"/>
<text x="109" y="2381.45" font-size="19.7" font-weight="bold" text-anchor="end">4</text>
<line x1="113.8" y1="2435.9" x2="123.1" y2="2435.9" stroke="#000" stroke-width="3.3"/>
<text x="109" y="2443.15" font-size="19.7" font-weight="bold" text-anchor="end">2</text>
<line x1="113.8" y1="2496.7" x2="123.1" y2="2496.7" stroke="#000" stroke-width="3.3"/>
<text x="109" y="2503.95" font-size="19.7" font-weight="bold" text-anchor="end">0</text>
<line x1="121.45" y1="2496.7" x2="614.4" y2="2496.7" stroke="#000" stroke-width="3.4"/>
<text font-size="26.1" text-anchor="middle" transform="translate(49.8 2378) rotate(-90)">mRNA Expression</text>
<text font-size="26.1" text-anchor="middle" transform="translate(84 2373.6) rotate(-90)">(fold change)</text>
<rect x="141.9" y="2467.7" width="26.1" height="29" fill="#d3d3d3" stroke="#000" stroke-width="4"/>
<rect x="188.8" y="2449.5" width="26.5" height="47.2" fill="#ff9f9f" stroke="#000" stroke-width="4"/>
<rect x="267.6" y="2470.3" width="26.5" height="26.4" fill="#d3d3d3" stroke="#000" stroke-width="4"/>
<rect x="314.9" y="2474.1" width="25.8" height="22.6" fill="#ff9f9f" stroke="#000" stroke-width="4"/>
<rect x="393.7" y="2467.7" width="26.4" height="29" fill="#d3d3d3" stroke="#000" stroke-width="4"/>
<rect x="440.9" y="2475" width="26.4" height="21.7" fill="#ff9f9f" stroke="#000" stroke-width="4"/>
<rect x="519.4" y="2467.7" width="26.4" height="29" fill="#d3d3d3" stroke="#000" stroke-width="4"/>
<rect x="566.9" y="2406.6" width="26.4" height="90.1" fill="#ff9f9f" stroke="#000" stroke-width="4"/>
<line x1="155" y1="2453.9" x2="155" y2="2477.9" stroke="#8a8a8a" stroke-width="1.5"/>
<line x1="147" y1="2453.9" x2="163" y2="2453.9" stroke="#8a8a8a" stroke-width="1.5"/>
<line x1="147" y1="2477.9" x2="163" y2="2477.9" stroke="#8a8a8a" stroke-width="1.5"/>
<circle cx="150.06" cy="2448.06" r="4.2" fill="#8a8a8a"/>
<circle cx="159.33" cy="2453.28" r="4.2" fill="#8a8a8a"/>
<circle cx="166.57" cy="2454.73" r="4.2" fill="#8a8a8a"/>
<circle cx="143.97" cy="2464.87" r="4.2" fill="#8a8a8a"/>
<circle cx="150.64" cy="2470.66" r="4.2" fill="#8a8a8a"/>
<circle cx="157.88" cy="2469.21" r="4.2" fill="#8a8a8a"/>
<circle cx="150.64" cy="2481.67" r="4.2" fill="#8a8a8a"/>
<circle cx="157.88" cy="2483.7" r="4.2" fill="#8a8a8a"/>
<circle cx="156.43" cy="2476.45" r="4.2" fill="#8a8a8a"/>
<line x1="202.2" y1="2438.2" x2="202.2" y2="2456.2" stroke="#f0464b" stroke-width="1.5"/>
<line x1="194.2" y1="2438.2" x2="210.2" y2="2438.2" stroke="#f0464b" stroke-width="1.5"/>
<line x1="194.2" y1="2456.2" x2="210.2" y2="2456.2" stroke="#f0464b" stroke-width="1.5"/>
<rect x="195.88" y="2413.65" width="8" height="8" fill="#f0464b"/>
<rect x="195.3" y="2425.52" width="8" height="8" fill="#f0464b"/>
<rect x="203.42" y="2429.87" width="8" height="8" fill="#f0464b"/>
<rect x="187.19" y="2434.22" width="8" height="8" fill="#f0464b"/>
<rect x="198.78" y="2442.04" width="8" height="8" fill="#f0464b"/>
<rect x="195.88" y="2449.28" width="8" height="8" fill="#f0464b"/>
<rect x="192.41" y="2457.39" width="8" height="8" fill="#f0464b"/>
<rect x="203.13" y="2453.62" width="8" height="8" fill="#f0464b"/>
<rect x="206.6" y="2464.63" width="8" height="8" fill="#f0464b"/>
<line x1="280.4" y1="2449.8" x2="280.4" y2="2487.2" stroke="#8a8a8a" stroke-width="1.5"/>
<line x1="272.4" y1="2449.8" x2="288.4" y2="2449.8" stroke="#8a8a8a" stroke-width="1.5"/>
<line x1="272.4" y1="2487.2" x2="288.4" y2="2487.2" stroke="#8a8a8a" stroke-width="1.5"/>
<circle cx="278.68" cy="2427.21" r="4.2" fill="#8a8a8a"/>
<circle cx="278.1" cy="2451.83" r="4.2" fill="#8a8a8a"/>
<circle cx="279.55" cy="2461.97" r="4.2" fill="#8a8a8a"/>
<circle cx="277.52" cy="2470.66" r="4.2" fill="#8a8a8a"/>
<circle cx="280.42" cy="2475.59" r="4.2" fill="#8a8a8a"/>
<circle cx="278.1" cy="2482.25" r="4.2" fill="#8a8a8a"/>
<circle cx="282.44" cy="2483.7" r="4.2" fill="#8a8a8a"/>
<circle cx="286.21" cy="2486.59" r="4.2" fill="#8a8a8a"/>
<circle cx="276.65" cy="2477.9" r="4.2" fill="#8a8a8a"/>
<line x1="328.2" y1="2461.1" x2="328.2" y2="2483.7" stroke="#f0464b" stroke-width="1.5"/>
<line x1="320.2" y1="2461.1" x2="336.2" y2="2461.1" stroke="#f0464b" stroke-width="1.5"/>
<line x1="320.2" y1="2483.7" x2="336.2" y2="2483.7" stroke="#f0464b" stroke-width="1.5"/>
<rect x="325.37" y="2438.27" width="8" height="8" fill="#f0464b"/>
<rect x="324.79" y="2463.76" width="8" height="8" fill="#f0464b"/>
<rect x="330.59" y="2466.08" width="8" height="8" fill="#f0464b"/>
<rect x="317.55" y="2468.98" width="8" height="8" fill="#f0464b"/>
<rect x="321.9" y="2472.45" width="8" height="8" fill="#f0464b"/>
<rect x="329.14" y="2472.45" width="8" height="8" fill="#f0464b"/>
<rect x="324.79" y="2476.8" width="8" height="8" fill="#f0464b"/>
<rect x="329.14" y="2479.7" width="8" height="8" fill="#f0464b"/>
<rect x="319" y="2470.43" width="8" height="8" fill="#f0464b"/>
<line x1="407" y1="2452.7" x2="407" y2="2479.4" stroke="#8a8a8a" stroke-width="1.5"/>
<line x1="399" y1="2452.7" x2="415" y2="2452.7" stroke="#8a8a8a" stroke-width="1.5"/>
<line x1="399" y1="2479.4" x2="415" y2="2479.4" stroke="#8a8a8a" stroke-width="1.5"/>
<circle cx="407.01" cy="2441.69" r="4.2" fill="#8a8a8a"/>
<circle cx="411.36" cy="2454.73" r="4.2" fill="#8a8a8a"/>
<circle cx="414.25" cy="2456.18" r="4.2" fill="#8a8a8a"/>
<circle cx="399.19" cy="2462.84" r="4.2" fill="#8a8a8a"/>
<circle cx="405.56" cy="2461.97" r="4.2" fill="#8a8a8a"/>
<circle cx="401.22" cy="2477.9" r="4.2" fill="#8a8a8a"/>
<circle cx="407.01" cy="2480.8" r="4.2" fill="#8a8a8a"/>
<circle cx="411.36" cy="2480.8" r="4.2" fill="#8a8a8a"/>
<circle cx="404.11" cy="2472.11" r="4.2" fill="#8a8a8a"/>
<line x1="453.9" y1="2467.8" x2="453.9" y2="2478.5" stroke="#f0464b" stroke-width="1.5"/>
<line x1="445.9" y1="2467.8" x2="461.9" y2="2467.8" stroke="#f0464b" stroke-width="1.5"/>
<line x1="445.9" y1="2478.5" x2="461.9" y2="2478.5" stroke="#f0464b" stroke-width="1.5"/>
<rect x="450.23" y="2456.52" width="8" height="8" fill="#f0464b"/>
<rect x="443.57" y="2465.21" width="8" height="8" fill="#f0464b"/>
<rect x="450.81" y="2462.89" width="8" height="8" fill="#f0464b"/>
<rect x="456.6" y="2463.76" width="8" height="8" fill="#f0464b"/>
<rect x="442.12" y="2467.53" width="8" height="8" fill="#f0464b"/>
<rect x="447.91" y="2471.59" width="8" height="8" fill="#f0464b"/>
<rect x="453.71" y="2473.9" width="8" height="8" fill="#f0464b"/>
<rect x="446.46" y="2476.8" width="8" height="8" fill="#f0464b"/>
<rect x="452.26" y="2483.46" width="8" height="8" fill="#f0464b"/>
<line x1="532.5" y1="2459" x2="532.5" y2="2472" stroke="#8a8a8a" stroke-width="1.5"/>
<line x1="524.5" y1="2459" x2="540.5" y2="2459" stroke="#8a8a8a" stroke-width="1.5"/>
<line x1="524.5" y1="2472" x2="540.5" y2="2472" stroke="#8a8a8a" stroke-width="1.5"/>
<circle cx="532.42" cy="2452.41" r="4.2" fill="#8a8a8a"/>
<circle cx="539.66" cy="2456.18" r="4.2" fill="#8a8a8a"/>
<circle cx="530.97" cy="2457.62" r="4.2" fill="#8a8a8a"/>
<circle cx="525.18" cy="2462.84" r="4.2" fill="#8a8a8a"/>
<circle cx="529.52" cy="2467.76" r="4.2" fill="#8a8a8a"/>
<circle cx="532.42" cy="2472.11" r="4.2" fill="#8a8a8a"/>
<circle cx="536.77" cy="2475.59" r="4.2" fill="#8a8a8a"/>
<circle cx="538.22" cy="2478.48" r="4.2" fill="#8a8a8a"/>
<circle cx="533.87" cy="2461.97" r="4.2" fill="#8a8a8a"/>
<line x1="580.8" y1="2351.9" x2="580.8" y2="2456.8" stroke="#f0464b" stroke-width="1.5"/>
<line x1="572.8" y1="2351.9" x2="588.8" y2="2351.9" stroke="#f0464b" stroke-width="1.5"/>
<line x1="572.8" y1="2456.8" x2="588.8" y2="2456.8" stroke="#f0464b" stroke-width="1.5"/>
<rect x="576.8" y="2294.88" width="8" height="8" fill="#f0464b"/>
<rect x="576.8" y="2343.54" width="8" height="8" fill="#f0464b"/>
<rect x="576.8" y="2375.99" width="8" height="8" fill="#f0464b"/>
<rect x="576.8" y="2400.9" width="8" height="8" fill="#f0464b"/>
<rect x="568.4" y="2412.49" width="8" height="8" fill="#f0464b"/>
<rect x="584.33" y="2423.79" width="8" height="8" fill="#f0464b"/>
<rect x="576.8" y="2437.69" width="8" height="8" fill="#f0464b"/>
<rect x="568.4" y="2444.06" width="8" height="8" fill="#f0464b"/>
<rect x="584.33" y="2456.52" width="8" height="8" fill="#f0464b"/>
<text transform="translate(178.6 2395.93) scale(1 0.94)" font-size="45" text-anchor="middle" stroke="#000" stroke-width="0.8" letter-spacing="3">*</text>
<line x1="154.1" y1="2397.7" x2="200.8" y2="2397.7" stroke="#000" stroke-width="4"/>
<text transform="translate(553.9 2287.23) scale(1 0.94)" font-size="45" text-anchor="middle" stroke="#000" stroke-width="0.8" letter-spacing="3">**</text>
<line x1="528.9" y1="2290.2" x2="575.9" y2="2290.2" stroke="#000" stroke-width="4"/>
<text x="179" y="2526.6" font-size="22.6" font-style="italic" text-anchor="middle">Ucp1</text>
<text x="304.9" y="2526.6" font-size="22.6" font-style="italic" text-anchor="middle">Prdm16</text>
<text x="431.8" y="2526.6" font-size="22.6" font-style="italic" text-anchor="middle">Ppargc1a</text>
<text x="556.3" y="2526.6" font-size="22.6" font-style="italic" text-anchor="middle">Ppara</text>
<text x="1153.8" y="2144.2" font-size="25" font-weight="bold" text-anchor="middle">Adipose Tissue</text>
<text x="1153.9" y="2173.7" font-size="25" font-weight="bold" text-anchor="middle">Differentiation</text>
<line x1="1020.5" y1="2249.45" x2="1020.5" y2="2497.75" stroke="#000" stroke-width="3.3"/>
<line x1="1011.2" y1="2251.1" x2="1020.5" y2="2251.1" stroke="#000" stroke-width="3.3"/>
<text x="1006.4" y="2258.35" font-size="19.7" font-weight="bold" text-anchor="end">3</text>
<line x1="1011.2" y1="2332.5" x2="1020.5" y2="2332.5" stroke="#000" stroke-width="3.3"/>
<text x="1006.4" y="2339.75" font-size="19.7" font-weight="bold" text-anchor="end">2</text>
<line x1="1011.2" y1="2414.2" x2="1020.5" y2="2414.2" stroke="#000" stroke-width="3.3"/>
<text x="1006.4" y="2421.45" font-size="19.7" font-weight="bold" text-anchor="end">1</text>
<line x1="1011.2" y1="2496.1" x2="1020.5" y2="2496.1" stroke="#000" stroke-width="3.3"/>
<text x="1006.4" y="2503.35" font-size="19.7" font-weight="bold" text-anchor="end">0</text>
<line x1="1018.85" y1="2496.1" x2="1329" y2="2496.1" stroke="#000" stroke-width="3.4"/>
<text font-size="26.1" text-anchor="middle" transform="translate(947.5 2378.7) rotate(-90)">mRNA Expression</text>
<text font-size="26.1" text-anchor="middle" transform="translate(980.8 2374.3) rotate(-90)">(fold change)</text>
<rect x="1043.7" y="2416.2" width="35.9" height="79.9" fill="#d3d3d3" stroke="#000" stroke-width="4"/>
<rect x="1105.1" y="2380.5" width="36.5" height="115.6" fill="#ff9f9f" stroke="#000" stroke-width="4"/>
<rect x="1206.8" y="2416.2" width="36.2" height="79.9" fill="#d3d3d3" stroke="#000" stroke-width="4"/>
<rect x="1268.8" y="2366.9" width="35.9" height="129.2" fill="#ff9f9f" stroke="#000" stroke-width="4"/>
<line x1="1061.9" y1="2392.4" x2="1061.9" y2="2436.8" stroke="#8a8a8a" stroke-width="1.5"/>
<line x1="1051.65" y1="2392.4" x2="1072.15" y2="2392.4" stroke="#8a8a8a" stroke-width="1.5"/>
<line x1="1051.65" y1="2436.8" x2="1072.15" y2="2436.8" stroke="#8a8a8a" stroke-width="1.5"/>
<circle cx="1055.57" cy="2387.52" r="4.3" fill="#8a8a8a"/>
<circle cx="1062.53" cy="2387.52" r="4.3" fill="#8a8a8a"/>
<circle cx="1069.19" cy="2390.42" r="4.3" fill="#8a8a8a"/>
<circle cx="1069.19" cy="2413.3" r="4.3" fill="#8a8a8a"/>
<circle cx="1048.91" cy="2420.54" r="4.3" fill="#8a8a8a"/>
<circle cx="1055.57" cy="2421.41" r="4.3" fill="#8a8a8a"/>
<circle cx="1062.53" cy="2422.28" r="4.3" fill="#8a8a8a"/>
<circle cx="1074.98" cy="2425.76" r="4.3" fill="#8a8a8a"/>
<circle cx="1061.37" cy="2454.73" r="4.3" fill="#8a8a8a"/>
<line x1="1123.7" y1="2332.2" x2="1123.7" y2="2425.8" stroke="#f0464b" stroke-width="1.5"/>
<line x1="1113.45" y1="2332.2" x2="1133.95" y2="2332.2" stroke="#f0464b" stroke-width="1.5"/>
<line x1="1113.45" y1="2425.8" x2="1133.95" y2="2425.8" stroke="#f0464b" stroke-width="1.5"/>
<rect x="1119.45" y="2285.99" width="8.4" height="8.4" fill="#f0464b"/>
<rect x="1119.45" y="2328.86" width="8.4" height="8.4" fill="#f0464b"/>
<rect x="1119.45" y="2354.06" width="8.4" height="8.4" fill="#f0464b"/>
<rect x="1126.4" y="2366.52" width="8.4" height="8.4" fill="#f0464b"/>
<rect x="1112.79" y="2377.53" width="8.4" height="8.4" fill="#f0464b"/>
<rect x="1119.45" y="2396.07" width="8.4" height="8.4" fill="#f0464b"/>
<rect x="1106.12" y="2413.74" width="8.4" height="8.4" fill="#f0464b"/>
<rect x="1119.45" y="2420.98" width="8.4" height="8.4" fill="#f0464b"/>
<rect x="1132.49" y="2421.56" width="8.4" height="8.4" fill="#f0464b"/>
<line x1="1225" y1="2384.3" x2="1225" y2="2445.2" stroke="#8a8a8a" stroke-width="1.5"/>
<line x1="1214.75" y1="2384.3" x2="1235.25" y2="2384.3" stroke="#8a8a8a" stroke-width="1.5"/>
<line x1="1214.75" y1="2445.2" x2="1235.25" y2="2445.2" stroke="#8a8a8a" stroke-width="1.5"/>
<circle cx="1225.62" cy="2356.23" r="4.3" fill="#8a8a8a"/>
<circle cx="1225.62" cy="2392.44" r="4.3" fill="#8a8a8a"/>
<circle cx="1238.08" cy="2399.11" r="4.3" fill="#8a8a8a"/>
<circle cx="1212.58" cy="2409.25" r="4.3" fill="#8a8a8a"/>
<circle cx="1225.62" cy="2406.06" r="4.3" fill="#8a8a8a"/>
<circle cx="1219.25" cy="2426.63" r="4.3" fill="#8a8a8a"/>
<circle cx="1231.41" cy="2428.66" r="4.3" fill="#8a8a8a"/>
<circle cx="1219.25" cy="2451.83" r="4.3" fill="#8a8a8a"/>
<circle cx="1231.41" cy="2453.28" r="4.3" fill="#8a8a8a"/>
<line x1="1286.5" y1="2319.2" x2="1286.5" y2="2410.7" stroke="#f0464b" stroke-width="1.5"/>
<line x1="1276.25" y1="2319.2" x2="1296.75" y2="2319.2" stroke="#f0464b" stroke-width="1.5"/>
<line x1="1276.25" y1="2410.7" x2="1296.75" y2="2410.7" stroke="#f0464b" stroke-width="1.5"/>
<rect x="1282.25" y="2292.07" width="8.4" height="8.4" fill="#f0464b"/>
<rect x="1282.25" y="2327.41" width="8.4" height="8.4" fill="#f0464b"/>
<rect x="1294.71" y="2333.2" width="8.4" height="8.4" fill="#f0464b"/>
<rect x="1269.22" y="2341.9" width="8.4" height="8.4" fill="#f0464b"/>
<rect x="1275.59" y="2352.9" width="8.4" height="8.4" fill="#f0464b"/>
<rect x="1288.63" y="2360.15" width="8.4" height="8.4" fill="#f0464b"/>
<rect x="1282.25" y="2379.55" width="8.4" height="8.4" fill="#f0464b"/>
<rect x="1275.59" y="2422.43" width="8.4" height="8.4" fill="#f0464b"/>
<rect x="1288.63" y="2432.28" width="8.4" height="8.4" fill="#f0464b"/>
<text x="1097" y="2262.1" font-size="26.1" text-anchor="middle">p=0.052</text>
<line x1="1062.5" y1="2274.3" x2="1120.8" y2="2274.3" stroke="#000" stroke-width="4"/>
<text transform="translate(1253.9 2282.93) scale(1 0.94)" font-size="45" text-anchor="middle" stroke="#000" stroke-width="0.8" letter-spacing="3">*</text>
<line x1="1219.2" y1="2278.6" x2="1287" y2="2278.6" stroke="#000" stroke-width="4"/>
<text x="1088" y="2527.1" font-size="22.6" font-style="italic" text-anchor="middle">Pparg</text>
<text x="1255.3" y="2527.1" font-size="22.6" font-style="italic" text-anchor="middle">Adipoq</text>
</svg>
</body></html>
